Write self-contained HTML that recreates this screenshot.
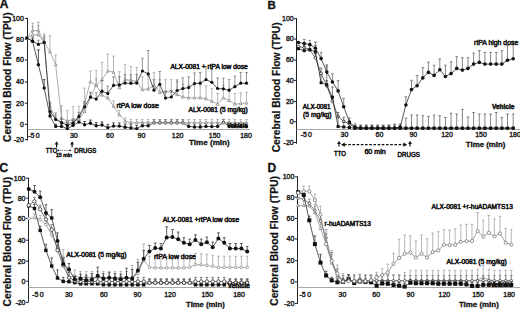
<!DOCTYPE html><html><head><meta charset="utf-8"><style>html,body{margin:0;padding:0;background:#fff;}svg{display:block;}text{font-family:"Liberation Sans",sans-serif;}</style></head><body>
<svg width="520" height="309" viewBox="0 0 520 309">
<rect width="520" height="309" fill="#fff"/>
<text x="-0.3" y="8.2" font-size="12" font-weight="bold" text-anchor="start" fill="#111" stroke="#111" stroke-width="0.3">A</text>
<text transform="translate(10.6,77.2) rotate(-90)" x="0" y="0" font-size="10.4" font-weight="bold" text-anchor="middle" fill="#111" stroke="#111" stroke-width="0.2" textLength="129.5" lengthAdjust="spacingAndGlyphs">Cerebral Blood Flow (TPU)</text>
<line x1="27.5" y1="17.9" x2="27.5" y2="140.5" stroke="#222" stroke-width="1"/>
<line x1="24.9" y1="18.4" x2="27.5" y2="18.4" stroke="#222" stroke-width="1"/>
<text x="23.9" y="20.7" font-size="7" font-weight="normal" text-anchor="end" fill="#222" stroke="#222" stroke-width="0.4">100</text>
<line x1="24.9" y1="39.5" x2="27.5" y2="39.5" stroke="#222" stroke-width="1"/>
<text x="23.9" y="41.8" font-size="7" font-weight="normal" text-anchor="end" fill="#222" stroke="#222" stroke-width="0.4">80</text>
<line x1="24.9" y1="60.1" x2="27.5" y2="60.1" stroke="#222" stroke-width="1"/>
<text x="23.9" y="62.4" font-size="7" font-weight="normal" text-anchor="end" fill="#222" stroke="#222" stroke-width="0.4">60</text>
<line x1="24.9" y1="82.0" x2="27.5" y2="82.0" stroke="#222" stroke-width="1"/>
<text x="23.9" y="84.3" font-size="7" font-weight="normal" text-anchor="end" fill="#222" stroke="#222" stroke-width="0.4">40</text>
<line x1="24.9" y1="103.2" x2="27.5" y2="103.2" stroke="#222" stroke-width="1"/>
<text x="23.9" y="105.5" font-size="7" font-weight="normal" text-anchor="end" fill="#222" stroke="#222" stroke-width="0.4">20</text>
<line x1="24.9" y1="124.3" x2="27.5" y2="124.3" stroke="#222" stroke-width="1"/>
<text x="23.9" y="126.6" font-size="7" font-weight="normal" text-anchor="end" fill="#222" stroke="#222" stroke-width="0.4">0</text>
<line x1="24.9" y1="139.7" x2="27.5" y2="139.7" stroke="#222" stroke-width="1"/>
<text x="23.9" y="142.0" font-size="7" font-weight="normal" text-anchor="end" fill="#222" stroke="#222" stroke-width="0.4">-20</text>
<line x1="27.5" y1="129.5" x2="250.0" y2="129.5" stroke="#a8a8a8" stroke-width="1"/>
<text x="31.4" y="137.8" font-size="7" font-weight="normal" text-anchor="middle" fill="#222" stroke="#222" stroke-width="0.4">-5</text>
<text x="37.7" y="137.8" font-size="7" font-weight="normal" text-anchor="middle" fill="#222" stroke="#222" stroke-width="0.4">0</text>
<text x="73.8" y="137.8" font-size="7" font-weight="normal" text-anchor="middle" fill="#222" stroke="#222" stroke-width="0.4">30</text>
<text x="110.0" y="137.8" font-size="7" font-weight="normal" text-anchor="middle" fill="#222" stroke="#222" stroke-width="0.4">60</text>
<text x="141.5" y="137.8" font-size="7" font-weight="normal" text-anchor="middle" fill="#222" stroke="#222" stroke-width="0.4">90</text>
<text x="177.6" y="137.8" font-size="7" font-weight="normal" text-anchor="middle" fill="#222" stroke="#222" stroke-width="0.4">120</text>
<text x="214.6" y="137.8" font-size="7" font-weight="normal" text-anchor="middle" fill="#222" stroke="#222" stroke-width="0.4">150</text>
<text x="246.0" y="137.8" font-size="7" font-weight="normal" text-anchor="middle" fill="#222" stroke="#222" stroke-width="0.4">180</text>
<text x="189.1" y="145.2" font-size="8" font-weight="bold" text-anchor="start" fill="#111" textLength="40.6" lengthAdjust="spacingAndGlyphs" stroke="#111" stroke-width="0.3">Time (min)</text>
<line x1="32.6" y1="41.2" x2="32.6" y2="38.0" stroke="#111" stroke-width="0.7"/>
<line x1="31.3" y1="38.0" x2="33.9" y2="38.0" stroke="#111" stroke-width="0.7"/>
<line x1="38.4" y1="64.7" x2="38.4" y2="49.8" stroke="#111" stroke-width="0.7"/>
<line x1="37.1" y1="49.8" x2="39.7" y2="49.8" stroke="#111" stroke-width="0.7"/>
<line x1="44.2" y1="88.1" x2="44.2" y2="79.6" stroke="#111" stroke-width="0.7"/>
<line x1="42.9" y1="79.6" x2="45.5" y2="79.6" stroke="#111" stroke-width="0.7"/>
<line x1="50.0" y1="116.0" x2="50.0" y2="112.8" stroke="#111" stroke-width="0.7"/>
<line x1="48.7" y1="112.8" x2="51.3" y2="112.8" stroke="#111" stroke-width="0.7"/>
<line x1="55.7" y1="126.4" x2="55.7" y2="124.3" stroke="#111" stroke-width="0.7"/>
<line x1="54.4" y1="124.3" x2="57.0" y2="124.3" stroke="#111" stroke-width="0.7"/>
<line x1="61.5" y1="126.4" x2="61.5" y2="124.3" stroke="#111" stroke-width="0.7"/>
<line x1="60.2" y1="124.3" x2="62.8" y2="124.3" stroke="#111" stroke-width="0.7"/>
<line x1="67.3" y1="128.6" x2="67.3" y2="126.4" stroke="#111" stroke-width="0.7"/>
<line x1="66.0" y1="126.4" x2="68.6" y2="126.4" stroke="#111" stroke-width="0.7"/>
<line x1="73.1" y1="125.4" x2="73.1" y2="122.2" stroke="#111" stroke-width="0.7"/>
<line x1="71.8" y1="122.2" x2="74.4" y2="122.2" stroke="#111" stroke-width="0.7"/>
<line x1="78.9" y1="122.0" x2="78.9" y2="117.7" stroke="#111" stroke-width="0.7"/>
<line x1="77.6" y1="117.7" x2="80.2" y2="117.7" stroke="#111" stroke-width="0.7"/>
<line x1="84.6" y1="124.7" x2="84.6" y2="121.5" stroke="#111" stroke-width="0.7"/>
<line x1="83.3" y1="121.5" x2="85.9" y2="121.5" stroke="#111" stroke-width="0.7"/>
<line x1="90.4" y1="123.2" x2="90.4" y2="120.0" stroke="#111" stroke-width="0.7"/>
<line x1="89.1" y1="120.0" x2="91.7" y2="120.0" stroke="#111" stroke-width="0.7"/>
<line x1="96.2" y1="125.8" x2="96.2" y2="122.6" stroke="#111" stroke-width="0.7"/>
<line x1="94.9" y1="122.6" x2="97.5" y2="122.6" stroke="#111" stroke-width="0.7"/>
<line x1="102.0" y1="125.0" x2="102.0" y2="121.9" stroke="#111" stroke-width="0.7"/>
<line x1="100.7" y1="121.9" x2="103.3" y2="121.9" stroke="#111" stroke-width="0.7"/>
<line x1="107.8" y1="127.6" x2="107.8" y2="124.4" stroke="#111" stroke-width="0.7"/>
<line x1="106.5" y1="124.4" x2="109.1" y2="124.4" stroke="#111" stroke-width="0.7"/>
<line x1="113.5" y1="126.1" x2="113.5" y2="122.9" stroke="#111" stroke-width="0.7"/>
<line x1="112.2" y1="122.9" x2="114.8" y2="122.9" stroke="#111" stroke-width="0.7"/>
<line x1="119.3" y1="126.1" x2="119.3" y2="122.9" stroke="#111" stroke-width="0.7"/>
<line x1="118.0" y1="122.9" x2="120.6" y2="122.9" stroke="#111" stroke-width="0.7"/>
<line x1="125.1" y1="127.2" x2="125.1" y2="124.0" stroke="#111" stroke-width="0.7"/>
<line x1="123.8" y1="124.0" x2="126.4" y2="124.0" stroke="#111" stroke-width="0.7"/>
<line x1="130.9" y1="127.9" x2="130.9" y2="124.7" stroke="#111" stroke-width="0.7"/>
<line x1="129.6" y1="124.7" x2="132.2" y2="124.7" stroke="#111" stroke-width="0.7"/>
<line x1="136.7" y1="128.6" x2="136.7" y2="125.4" stroke="#111" stroke-width="0.7"/>
<line x1="135.4" y1="125.4" x2="138.0" y2="125.4" stroke="#111" stroke-width="0.7"/>
<line x1="142.4" y1="125.7" x2="142.4" y2="122.5" stroke="#111" stroke-width="0.7"/>
<line x1="141.1" y1="122.5" x2="143.7" y2="122.5" stroke="#111" stroke-width="0.7"/>
<line x1="148.2" y1="125.7" x2="148.2" y2="122.5" stroke="#111" stroke-width="0.7"/>
<line x1="146.9" y1="122.5" x2="149.5" y2="122.5" stroke="#111" stroke-width="0.7"/>
<line x1="154.0" y1="122.8" x2="154.0" y2="119.6" stroke="#111" stroke-width="0.7"/>
<line x1="152.7" y1="119.6" x2="155.3" y2="119.6" stroke="#111" stroke-width="0.7"/>
<line x1="159.8" y1="122.8" x2="159.8" y2="119.6" stroke="#111" stroke-width="0.7"/>
<line x1="158.5" y1="119.6" x2="161.1" y2="119.6" stroke="#111" stroke-width="0.7"/>
<line x1="165.6" y1="122.8" x2="165.6" y2="119.6" stroke="#111" stroke-width="0.7"/>
<line x1="164.3" y1="119.6" x2="166.9" y2="119.6" stroke="#111" stroke-width="0.7"/>
<line x1="171.3" y1="122.8" x2="171.3" y2="119.6" stroke="#111" stroke-width="0.7"/>
<line x1="170.0" y1="119.6" x2="172.6" y2="119.6" stroke="#111" stroke-width="0.7"/>
<line x1="177.1" y1="122.8" x2="177.1" y2="119.6" stroke="#111" stroke-width="0.7"/>
<line x1="175.8" y1="119.6" x2="178.4" y2="119.6" stroke="#111" stroke-width="0.7"/>
<line x1="182.9" y1="122.8" x2="182.9" y2="119.6" stroke="#111" stroke-width="0.7"/>
<line x1="181.6" y1="119.6" x2="184.2" y2="119.6" stroke="#111" stroke-width="0.7"/>
<line x1="188.7" y1="126.4" x2="188.7" y2="123.2" stroke="#111" stroke-width="0.7"/>
<line x1="187.4" y1="123.2" x2="190.0" y2="123.2" stroke="#111" stroke-width="0.7"/>
<line x1="194.5" y1="127.0" x2="194.5" y2="123.8" stroke="#111" stroke-width="0.7"/>
<line x1="193.2" y1="123.8" x2="195.8" y2="123.8" stroke="#111" stroke-width="0.7"/>
<line x1="200.2" y1="127.0" x2="200.2" y2="123.8" stroke="#111" stroke-width="0.7"/>
<line x1="198.9" y1="123.8" x2="201.5" y2="123.8" stroke="#111" stroke-width="0.7"/>
<line x1="206.0" y1="126.4" x2="206.0" y2="123.2" stroke="#111" stroke-width="0.7"/>
<line x1="204.7" y1="123.2" x2="207.3" y2="123.2" stroke="#111" stroke-width="0.7"/>
<line x1="211.8" y1="126.6" x2="211.8" y2="123.4" stroke="#111" stroke-width="0.7"/>
<line x1="210.5" y1="123.4" x2="213.1" y2="123.4" stroke="#111" stroke-width="0.7"/>
<line x1="217.6" y1="126.4" x2="217.6" y2="123.2" stroke="#111" stroke-width="0.7"/>
<line x1="216.3" y1="123.2" x2="218.9" y2="123.2" stroke="#111" stroke-width="0.7"/>
<line x1="223.4" y1="122.5" x2="223.4" y2="119.3" stroke="#111" stroke-width="0.7"/>
<line x1="222.1" y1="119.3" x2="224.7" y2="119.3" stroke="#111" stroke-width="0.7"/>
<line x1="229.1" y1="126.4" x2="229.1" y2="123.2" stroke="#111" stroke-width="0.7"/>
<line x1="227.8" y1="123.2" x2="230.4" y2="123.2" stroke="#111" stroke-width="0.7"/>
<line x1="234.9" y1="126.4" x2="234.9" y2="123.2" stroke="#111" stroke-width="0.7"/>
<line x1="233.6" y1="123.2" x2="236.2" y2="123.2" stroke="#111" stroke-width="0.7"/>
<line x1="240.7" y1="126.4" x2="240.7" y2="123.2" stroke="#111" stroke-width="0.7"/>
<line x1="239.4" y1="123.2" x2="242.0" y2="123.2" stroke="#111" stroke-width="0.7"/>
<line x1="246.5" y1="126.4" x2="246.5" y2="123.2" stroke="#111" stroke-width="0.7"/>
<line x1="245.2" y1="123.2" x2="247.8" y2="123.2" stroke="#111" stroke-width="0.7"/>
<polyline points="26.8,38.0 32.6,41.2 38.4,64.7 44.2,88.1 50.0,116.0 55.7,126.4 61.5,126.4 67.3,128.6 73.1,125.4 78.9,122.0 84.6,124.7 90.4,123.2 96.2,125.8 102.0,125.0 107.8,127.6 113.5,126.1 119.3,126.1 125.1,127.2 130.9,127.9 136.7,128.6 142.4,125.7 148.2,125.7 154.0,122.8 159.8,122.8 165.6,122.8 171.3,122.8 177.1,122.8 182.9,122.8 188.7,126.4 194.5,127.0 200.2,127.0 206.0,126.4 211.8,126.6 217.6,126.4 223.4,122.5 229.1,126.4 234.9,126.4 240.7,126.4 246.5,126.4" fill="none" stroke="#111" stroke-width="0.7"/>
<circle cx="26.8" cy="38.0" r="1.7" fill="#111"/>
<circle cx="32.6" cy="41.2" r="1.7" fill="#111"/>
<circle cx="38.4" cy="64.7" r="1.7" fill="#111"/>
<circle cx="44.2" cy="88.1" r="1.7" fill="#111"/>
<circle cx="50.0" cy="116.0" r="1.7" fill="#111"/>
<circle cx="55.7" cy="126.4" r="1.7" fill="#111"/>
<circle cx="61.5" cy="126.4" r="1.7" fill="#111"/>
<circle cx="67.3" cy="128.6" r="1.7" fill="#111"/>
<circle cx="73.1" cy="125.4" r="1.7" fill="#111"/>
<circle cx="78.9" cy="122.0" r="1.7" fill="#111"/>
<circle cx="84.6" cy="124.7" r="1.7" fill="#111"/>
<circle cx="90.4" cy="123.2" r="1.7" fill="#111"/>
<circle cx="96.2" cy="125.8" r="1.7" fill="#111"/>
<circle cx="102.0" cy="125.0" r="1.7" fill="#111"/>
<circle cx="107.8" cy="127.6" r="1.7" fill="#111"/>
<circle cx="113.5" cy="126.1" r="1.7" fill="#111"/>
<circle cx="119.3" cy="126.1" r="1.7" fill="#111"/>
<circle cx="125.1" cy="127.2" r="1.7" fill="#111"/>
<circle cx="130.9" cy="127.9" r="1.7" fill="#111"/>
<circle cx="136.7" cy="128.6" r="1.7" fill="#111"/>
<circle cx="142.4" cy="125.7" r="1.7" fill="#111"/>
<circle cx="148.2" cy="125.7" r="1.7" fill="#111"/>
<circle cx="154.0" cy="122.8" r="1.7" fill="#111"/>
<circle cx="159.8" cy="122.8" r="1.7" fill="#111"/>
<circle cx="165.6" cy="122.8" r="1.7" fill="#111"/>
<circle cx="171.3" cy="122.8" r="1.7" fill="#111"/>
<circle cx="177.1" cy="122.8" r="1.7" fill="#111"/>
<circle cx="182.9" cy="122.8" r="1.7" fill="#111"/>
<circle cx="188.7" cy="126.4" r="1.7" fill="#111"/>
<circle cx="194.5" cy="127.0" r="1.7" fill="#111"/>
<circle cx="200.2" cy="127.0" r="1.7" fill="#111"/>
<circle cx="206.0" cy="126.4" r="1.7" fill="#111"/>
<circle cx="211.8" cy="126.6" r="1.7" fill="#111"/>
<circle cx="217.6" cy="126.4" r="1.7" fill="#111"/>
<circle cx="223.4" cy="122.5" r="1.7" fill="#111"/>
<circle cx="229.1" cy="126.4" r="1.7" fill="#111"/>
<circle cx="234.9" cy="126.4" r="1.7" fill="#111"/>
<circle cx="240.7" cy="126.4" r="1.7" fill="#111"/>
<circle cx="246.5" cy="126.4" r="1.7" fill="#111"/>
<line x1="32.6" y1="34.8" x2="32.6" y2="26.3" stroke="#9a9a9a" stroke-width="0.7"/>
<line x1="31.3" y1="26.3" x2="33.9" y2="26.3" stroke="#9a9a9a" stroke-width="0.7"/>
<line x1="38.4" y1="34.8" x2="38.4" y2="25.3" stroke="#9a9a9a" stroke-width="0.7"/>
<line x1="37.1" y1="25.3" x2="39.7" y2="25.3" stroke="#9a9a9a" stroke-width="0.7"/>
<line x1="44.2" y1="42.3" x2="44.2" y2="33.8" stroke="#9a9a9a" stroke-width="0.7"/>
<line x1="42.9" y1="33.8" x2="45.5" y2="33.8" stroke="#9a9a9a" stroke-width="0.7"/>
<line x1="50.0" y1="51.9" x2="50.0" y2="35.9" stroke="#9a9a9a" stroke-width="0.7"/>
<line x1="48.7" y1="35.9" x2="51.3" y2="35.9" stroke="#9a9a9a" stroke-width="0.7"/>
<line x1="55.7" y1="64.7" x2="55.7" y2="55.1" stroke="#9a9a9a" stroke-width="0.7"/>
<line x1="54.4" y1="55.1" x2="57.0" y2="55.1" stroke="#9a9a9a" stroke-width="0.7"/>
<line x1="61.5" y1="118.3" x2="61.5" y2="105.6" stroke="#9a9a9a" stroke-width="0.7"/>
<line x1="60.2" y1="105.6" x2="62.8" y2="105.6" stroke="#9a9a9a" stroke-width="0.7"/>
<line x1="67.3" y1="121.1" x2="67.3" y2="110.5" stroke="#9a9a9a" stroke-width="0.7"/>
<line x1="66.0" y1="110.5" x2="68.6" y2="110.5" stroke="#9a9a9a" stroke-width="0.7"/>
<line x1="73.1" y1="119.4" x2="73.1" y2="106.6" stroke="#9a9a9a" stroke-width="0.7"/>
<line x1="71.8" y1="106.6" x2="74.4" y2="106.6" stroke="#9a9a9a" stroke-width="0.7"/>
<line x1="78.9" y1="119.0" x2="78.9" y2="106.2" stroke="#9a9a9a" stroke-width="0.7"/>
<line x1="77.6" y1="106.2" x2="80.2" y2="106.2" stroke="#9a9a9a" stroke-width="0.7"/>
<line x1="84.6" y1="103.0" x2="84.6" y2="88.1" stroke="#9a9a9a" stroke-width="0.7"/>
<line x1="83.3" y1="88.1" x2="85.9" y2="88.1" stroke="#9a9a9a" stroke-width="0.7"/>
<line x1="90.4" y1="81.7" x2="90.4" y2="71.0" stroke="#9a9a9a" stroke-width="0.7"/>
<line x1="89.1" y1="71.0" x2="91.7" y2="71.0" stroke="#9a9a9a" stroke-width="0.7"/>
<line x1="96.2" y1="85.4" x2="96.2" y2="70.5" stroke="#9a9a9a" stroke-width="0.7"/>
<line x1="94.9" y1="70.5" x2="97.5" y2="70.5" stroke="#9a9a9a" stroke-width="0.7"/>
<line x1="102.0" y1="79.6" x2="102.0" y2="62.5" stroke="#9a9a9a" stroke-width="0.7"/>
<line x1="100.7" y1="62.5" x2="103.3" y2="62.5" stroke="#9a9a9a" stroke-width="0.7"/>
<line x1="107.8" y1="71.0" x2="107.8" y2="54.0" stroke="#9a9a9a" stroke-width="0.7"/>
<line x1="106.5" y1="54.0" x2="109.1" y2="54.0" stroke="#9a9a9a" stroke-width="0.7"/>
<line x1="113.5" y1="72.1" x2="113.5" y2="56.1" stroke="#9a9a9a" stroke-width="0.7"/>
<line x1="112.2" y1="56.1" x2="114.8" y2="56.1" stroke="#9a9a9a" stroke-width="0.7"/>
<line x1="119.3" y1="87.7" x2="119.3" y2="71.7" stroke="#9a9a9a" stroke-width="0.7"/>
<line x1="118.0" y1="71.7" x2="120.6" y2="71.7" stroke="#9a9a9a" stroke-width="0.7"/>
<line x1="125.1" y1="79.6" x2="125.1" y2="64.7" stroke="#9a9a9a" stroke-width="0.7"/>
<line x1="123.8" y1="64.7" x2="126.4" y2="64.7" stroke="#9a9a9a" stroke-width="0.7"/>
<line x1="130.9" y1="80.3" x2="130.9" y2="66.5" stroke="#9a9a9a" stroke-width="0.7"/>
<line x1="129.6" y1="66.5" x2="132.2" y2="66.5" stroke="#9a9a9a" stroke-width="0.7"/>
<line x1="136.7" y1="81.3" x2="136.7" y2="67.4" stroke="#9a9a9a" stroke-width="0.7"/>
<line x1="135.4" y1="67.4" x2="138.0" y2="67.4" stroke="#9a9a9a" stroke-width="0.7"/>
<line x1="142.4" y1="89.6" x2="142.4" y2="76.8" stroke="#9a9a9a" stroke-width="0.7"/>
<line x1="141.1" y1="76.8" x2="143.7" y2="76.8" stroke="#9a9a9a" stroke-width="0.7"/>
<line x1="148.2" y1="88.9" x2="148.2" y2="76.2" stroke="#9a9a9a" stroke-width="0.7"/>
<line x1="146.9" y1="76.2" x2="149.5" y2="76.2" stroke="#9a9a9a" stroke-width="0.7"/>
<line x1="154.0" y1="85.4" x2="154.0" y2="72.6" stroke="#9a9a9a" stroke-width="0.7"/>
<line x1="152.7" y1="72.6" x2="155.3" y2="72.6" stroke="#9a9a9a" stroke-width="0.7"/>
<line x1="159.8" y1="92.3" x2="159.8" y2="79.6" stroke="#9a9a9a" stroke-width="0.7"/>
<line x1="158.5" y1="79.6" x2="161.1" y2="79.6" stroke="#9a9a9a" stroke-width="0.7"/>
<line x1="165.6" y1="91.3" x2="165.6" y2="79.6" stroke="#9a9a9a" stroke-width="0.7"/>
<line x1="164.3" y1="79.6" x2="166.9" y2="79.6" stroke="#9a9a9a" stroke-width="0.7"/>
<line x1="171.3" y1="91.3" x2="171.3" y2="79.6" stroke="#9a9a9a" stroke-width="0.7"/>
<line x1="170.0" y1="79.6" x2="172.6" y2="79.6" stroke="#9a9a9a" stroke-width="0.7"/>
<line x1="177.1" y1="94.5" x2="177.1" y2="81.7" stroke="#9a9a9a" stroke-width="0.7"/>
<line x1="175.8" y1="81.7" x2="178.4" y2="81.7" stroke="#9a9a9a" stroke-width="0.7"/>
<line x1="182.9" y1="96.9" x2="182.9" y2="84.1" stroke="#9a9a9a" stroke-width="0.7"/>
<line x1="181.6" y1="84.1" x2="184.2" y2="84.1" stroke="#9a9a9a" stroke-width="0.7"/>
<line x1="188.7" y1="97.9" x2="188.7" y2="85.1" stroke="#9a9a9a" stroke-width="0.7"/>
<line x1="187.4" y1="85.1" x2="190.0" y2="85.1" stroke="#9a9a9a" stroke-width="0.7"/>
<line x1="194.5" y1="97.9" x2="194.5" y2="85.1" stroke="#9a9a9a" stroke-width="0.7"/>
<line x1="193.2" y1="85.1" x2="195.8" y2="85.1" stroke="#9a9a9a" stroke-width="0.7"/>
<line x1="200.2" y1="97.9" x2="200.2" y2="85.1" stroke="#9a9a9a" stroke-width="0.7"/>
<line x1="198.9" y1="85.1" x2="201.5" y2="85.1" stroke="#9a9a9a" stroke-width="0.7"/>
<line x1="206.0" y1="98.7" x2="206.0" y2="86.0" stroke="#9a9a9a" stroke-width="0.7"/>
<line x1="204.7" y1="86.0" x2="207.3" y2="86.0" stroke="#9a9a9a" stroke-width="0.7"/>
<line x1="211.8" y1="101.3" x2="211.8" y2="88.5" stroke="#9a9a9a" stroke-width="0.7"/>
<line x1="210.5" y1="88.5" x2="213.1" y2="88.5" stroke="#9a9a9a" stroke-width="0.7"/>
<line x1="217.6" y1="104.1" x2="217.6" y2="93.4" stroke="#9a9a9a" stroke-width="0.7"/>
<line x1="216.3" y1="93.4" x2="218.9" y2="93.4" stroke="#9a9a9a" stroke-width="0.7"/>
<line x1="223.4" y1="97.9" x2="223.4" y2="85.1" stroke="#9a9a9a" stroke-width="0.7"/>
<line x1="222.1" y1="85.1" x2="224.7" y2="85.1" stroke="#9a9a9a" stroke-width="0.7"/>
<line x1="229.1" y1="100.4" x2="229.1" y2="89.8" stroke="#9a9a9a" stroke-width="0.7"/>
<line x1="227.8" y1="89.8" x2="230.4" y2="89.8" stroke="#9a9a9a" stroke-width="0.7"/>
<line x1="234.9" y1="104.1" x2="234.9" y2="93.4" stroke="#9a9a9a" stroke-width="0.7"/>
<line x1="233.6" y1="93.4" x2="236.2" y2="93.4" stroke="#9a9a9a" stroke-width="0.7"/>
<line x1="240.7" y1="103.5" x2="240.7" y2="92.9" stroke="#9a9a9a" stroke-width="0.7"/>
<line x1="239.4" y1="92.9" x2="242.0" y2="92.9" stroke="#9a9a9a" stroke-width="0.7"/>
<line x1="246.5" y1="103.0" x2="246.5" y2="92.3" stroke="#9a9a9a" stroke-width="0.7"/>
<line x1="245.2" y1="92.3" x2="247.8" y2="92.3" stroke="#9a9a9a" stroke-width="0.7"/>
<polyline points="26.8,38.0 32.6,34.8 38.4,34.8 44.2,42.3 50.0,51.9 55.7,64.7 61.5,118.3 67.3,121.1 73.1,119.4 78.9,119.0 84.6,103.0 90.4,81.7 96.2,85.4 102.0,79.6 107.8,71.0 113.5,72.1 119.3,87.7 125.1,79.6 130.9,80.3 136.7,81.3 142.4,89.6 148.2,88.9 154.0,85.4 159.8,92.3 165.6,91.3 171.3,91.3 177.1,94.5 182.9,96.9 188.7,97.9 194.5,97.9 200.2,97.9 206.0,98.7 211.8,101.3 217.6,104.1 223.4,97.9 229.1,100.4 234.9,104.1 240.7,103.5 246.5,103.0" fill="none" stroke="#8a8a8a" stroke-width="0.7"/>
<polygon points="26.8,36.6 25.4,39.2 28.3,39.2" fill="#fff" stroke="#8a8a8a" stroke-width="0.8"/>
<polygon points="32.6,33.4 31.2,36.0 34.0,36.0" fill="#fff" stroke="#8a8a8a" stroke-width="0.8"/>
<polygon points="38.4,33.4 37.0,36.0 39.8,36.0" fill="#fff" stroke="#8a8a8a" stroke-width="0.8"/>
<polygon points="44.2,40.9 42.8,43.4 45.6,43.4" fill="#fff" stroke="#8a8a8a" stroke-width="0.8"/>
<polygon points="50.0,50.4 48.5,53.0 51.4,53.0" fill="#fff" stroke="#8a8a8a" stroke-width="0.8"/>
<polygon points="55.7,63.2 54.3,65.8 57.2,65.8" fill="#fff" stroke="#8a8a8a" stroke-width="0.8"/>
<polygon points="61.5,116.9 60.1,119.5 62.9,119.5" fill="#fff" stroke="#8a8a8a" stroke-width="0.8"/>
<polygon points="67.3,119.7 65.9,122.2 68.7,122.2" fill="#fff" stroke="#8a8a8a" stroke-width="0.8"/>
<polygon points="73.1,118.0 71.6,120.5 74.5,120.5" fill="#fff" stroke="#8a8a8a" stroke-width="0.8"/>
<polygon points="78.9,117.5 77.4,120.1 80.3,120.1" fill="#fff" stroke="#8a8a8a" stroke-width="0.8"/>
<polygon points="84.6,101.6 83.2,104.1 86.1,104.1" fill="#fff" stroke="#8a8a8a" stroke-width="0.8"/>
<polygon points="90.4,80.3 89.0,82.8 91.8,82.8" fill="#fff" stroke="#8a8a8a" stroke-width="0.8"/>
<polygon points="96.2,84.0 94.8,86.6 97.6,86.6" fill="#fff" stroke="#8a8a8a" stroke-width="0.8"/>
<polygon points="102.0,78.1 100.5,80.7 103.4,80.7" fill="#fff" stroke="#8a8a8a" stroke-width="0.8"/>
<polygon points="107.8,69.6 106.3,72.2 109.2,72.2" fill="#fff" stroke="#8a8a8a" stroke-width="0.8"/>
<polygon points="113.5,70.7 112.1,73.3 115.0,73.3" fill="#fff" stroke="#8a8a8a" stroke-width="0.8"/>
<polygon points="119.3,86.2 117.9,88.8 120.8,88.8" fill="#fff" stroke="#8a8a8a" stroke-width="0.8"/>
<polygon points="125.1,78.1 123.7,80.7 126.5,80.7" fill="#fff" stroke="#8a8a8a" stroke-width="0.8"/>
<polygon points="130.9,78.9 129.4,81.5 132.3,81.5" fill="#fff" stroke="#8a8a8a" stroke-width="0.8"/>
<polygon points="136.7,79.8 135.2,82.4 138.1,82.4" fill="#fff" stroke="#8a8a8a" stroke-width="0.8"/>
<polygon points="142.4,88.2 141.0,90.7 143.9,90.7" fill="#fff" stroke="#8a8a8a" stroke-width="0.8"/>
<polygon points="148.2,87.5 146.8,90.1 149.7,90.1" fill="#fff" stroke="#8a8a8a" stroke-width="0.8"/>
<polygon points="154.0,84.0 152.6,86.6 155.4,86.6" fill="#fff" stroke="#8a8a8a" stroke-width="0.8"/>
<polygon points="159.8,90.9 158.3,93.5 161.2,93.5" fill="#fff" stroke="#8a8a8a" stroke-width="0.8"/>
<polygon points="165.6,89.9 164.1,92.4 167.0,92.4" fill="#fff" stroke="#8a8a8a" stroke-width="0.8"/>
<polygon points="171.3,89.9 169.9,92.4 172.8,92.4" fill="#fff" stroke="#8a8a8a" stroke-width="0.8"/>
<polygon points="177.1,93.0 175.7,95.6 178.6,95.6" fill="#fff" stroke="#8a8a8a" stroke-width="0.8"/>
<polygon points="182.9,95.5 181.5,98.1 184.3,98.1" fill="#fff" stroke="#8a8a8a" stroke-width="0.8"/>
<polygon points="188.7,96.5 187.2,99.0 190.1,99.0" fill="#fff" stroke="#8a8a8a" stroke-width="0.8"/>
<polygon points="194.5,96.5 193.0,99.0 195.9,99.0" fill="#fff" stroke="#8a8a8a" stroke-width="0.8"/>
<polygon points="200.2,96.5 198.8,99.0 201.7,99.0" fill="#fff" stroke="#8a8a8a" stroke-width="0.8"/>
<polygon points="206.0,97.3 204.6,99.9 207.4,99.9" fill="#fff" stroke="#8a8a8a" stroke-width="0.8"/>
<polygon points="211.8,99.9 210.4,102.4 213.2,102.4" fill="#fff" stroke="#8a8a8a" stroke-width="0.8"/>
<polygon points="217.6,102.6 216.1,105.2 219.0,105.2" fill="#fff" stroke="#8a8a8a" stroke-width="0.8"/>
<polygon points="223.4,96.5 221.9,99.0 224.8,99.0" fill="#fff" stroke="#8a8a8a" stroke-width="0.8"/>
<polygon points="229.1,99.0 227.7,101.6 230.6,101.6" fill="#fff" stroke="#8a8a8a" stroke-width="0.8"/>
<polygon points="234.9,102.6 233.5,105.2 236.3,105.2" fill="#fff" stroke="#8a8a8a" stroke-width="0.8"/>
<polygon points="240.7,102.1 239.3,104.7 242.1,104.7" fill="#fff" stroke="#8a8a8a" stroke-width="0.8"/>
<polygon points="246.5,101.6 245.0,104.1 247.9,104.1" fill="#fff" stroke="#8a8a8a" stroke-width="0.8"/>
<line x1="32.6" y1="30.6" x2="32.6" y2="23.1" stroke="#9a9a9a" stroke-width="0.7"/>
<line x1="31.3" y1="23.1" x2="33.9" y2="23.1" stroke="#9a9a9a" stroke-width="0.7"/>
<line x1="38.4" y1="30.6" x2="38.4" y2="22.1" stroke="#9a9a9a" stroke-width="0.7"/>
<line x1="37.1" y1="22.1" x2="39.7" y2="22.1" stroke="#9a9a9a" stroke-width="0.7"/>
<line x1="44.2" y1="42.3" x2="44.2" y2="38.0" stroke="#9a9a9a" stroke-width="0.7"/>
<line x1="42.9" y1="38.0" x2="45.5" y2="38.0" stroke="#9a9a9a" stroke-width="0.7"/>
<line x1="50.0" y1="106.2" x2="50.0" y2="101.9" stroke="#9a9a9a" stroke-width="0.7"/>
<line x1="48.7" y1="101.9" x2="51.3" y2="101.9" stroke="#9a9a9a" stroke-width="0.7"/>
<line x1="55.7" y1="119.0" x2="55.7" y2="115.8" stroke="#9a9a9a" stroke-width="0.7"/>
<line x1="54.4" y1="115.8" x2="57.0" y2="115.8" stroke="#9a9a9a" stroke-width="0.7"/>
<line x1="61.5" y1="122.2" x2="61.5" y2="119.0" stroke="#9a9a9a" stroke-width="0.7"/>
<line x1="60.2" y1="119.0" x2="62.8" y2="119.0" stroke="#9a9a9a" stroke-width="0.7"/>
<line x1="67.3" y1="123.4" x2="67.3" y2="120.3" stroke="#9a9a9a" stroke-width="0.7"/>
<line x1="66.0" y1="120.3" x2="68.6" y2="120.3" stroke="#9a9a9a" stroke-width="0.7"/>
<line x1="73.1" y1="121.9" x2="73.1" y2="118.7" stroke="#9a9a9a" stroke-width="0.7"/>
<line x1="71.8" y1="118.7" x2="74.4" y2="118.7" stroke="#9a9a9a" stroke-width="0.7"/>
<line x1="78.9" y1="119.0" x2="78.9" y2="114.7" stroke="#9a9a9a" stroke-width="0.7"/>
<line x1="77.6" y1="114.7" x2="80.2" y2="114.7" stroke="#9a9a9a" stroke-width="0.7"/>
<line x1="84.6" y1="111.5" x2="84.6" y2="107.3" stroke="#9a9a9a" stroke-width="0.7"/>
<line x1="83.3" y1="107.3" x2="85.9" y2="107.3" stroke="#9a9a9a" stroke-width="0.7"/>
<line x1="90.4" y1="97.7" x2="90.4" y2="92.3" stroke="#9a9a9a" stroke-width="0.7"/>
<line x1="89.1" y1="92.3" x2="91.7" y2="92.3" stroke="#9a9a9a" stroke-width="0.7"/>
<line x1="96.2" y1="84.9" x2="96.2" y2="78.5" stroke="#9a9a9a" stroke-width="0.7"/>
<line x1="94.9" y1="78.5" x2="97.5" y2="78.5" stroke="#9a9a9a" stroke-width="0.7"/>
<line x1="102.0" y1="95.0" x2="102.0" y2="89.7" stroke="#9a9a9a" stroke-width="0.7"/>
<line x1="100.7" y1="89.7" x2="103.3" y2="89.7" stroke="#9a9a9a" stroke-width="0.7"/>
<line x1="107.8" y1="98.0" x2="107.8" y2="92.7" stroke="#9a9a9a" stroke-width="0.7"/>
<line x1="106.5" y1="92.7" x2="109.1" y2="92.7" stroke="#9a9a9a" stroke-width="0.7"/>
<line x1="113.5" y1="106.2" x2="113.5" y2="100.9" stroke="#9a9a9a" stroke-width="0.7"/>
<line x1="112.2" y1="100.9" x2="114.8" y2="100.9" stroke="#9a9a9a" stroke-width="0.7"/>
<line x1="119.3" y1="114.7" x2="119.3" y2="110.5" stroke="#9a9a9a" stroke-width="0.7"/>
<line x1="118.0" y1="110.5" x2="120.6" y2="110.5" stroke="#9a9a9a" stroke-width="0.7"/>
<line x1="125.1" y1="121.1" x2="125.1" y2="117.9" stroke="#9a9a9a" stroke-width="0.7"/>
<line x1="123.8" y1="117.9" x2="126.4" y2="117.9" stroke="#9a9a9a" stroke-width="0.7"/>
<line x1="130.9" y1="122.7" x2="130.9" y2="119.5" stroke="#9a9a9a" stroke-width="0.7"/>
<line x1="129.6" y1="119.5" x2="132.2" y2="119.5" stroke="#9a9a9a" stroke-width="0.7"/>
<line x1="136.7" y1="122.7" x2="136.7" y2="119.5" stroke="#9a9a9a" stroke-width="0.7"/>
<line x1="135.4" y1="119.5" x2="138.0" y2="119.5" stroke="#9a9a9a" stroke-width="0.7"/>
<line x1="142.4" y1="122.7" x2="142.4" y2="119.5" stroke="#9a9a9a" stroke-width="0.7"/>
<line x1="141.1" y1="119.5" x2="143.7" y2="119.5" stroke="#9a9a9a" stroke-width="0.7"/>
<line x1="148.2" y1="122.7" x2="148.2" y2="119.5" stroke="#9a9a9a" stroke-width="0.7"/>
<line x1="146.9" y1="119.5" x2="149.5" y2="119.5" stroke="#9a9a9a" stroke-width="0.7"/>
<line x1="154.0" y1="122.7" x2="154.0" y2="119.5" stroke="#9a9a9a" stroke-width="0.7"/>
<line x1="152.7" y1="119.5" x2="155.3" y2="119.5" stroke="#9a9a9a" stroke-width="0.7"/>
<line x1="159.8" y1="122.7" x2="159.8" y2="119.5" stroke="#9a9a9a" stroke-width="0.7"/>
<line x1="158.5" y1="119.5" x2="161.1" y2="119.5" stroke="#9a9a9a" stroke-width="0.7"/>
<line x1="165.6" y1="122.7" x2="165.6" y2="119.5" stroke="#9a9a9a" stroke-width="0.7"/>
<line x1="164.3" y1="119.5" x2="166.9" y2="119.5" stroke="#9a9a9a" stroke-width="0.7"/>
<line x1="171.3" y1="122.7" x2="171.3" y2="119.5" stroke="#9a9a9a" stroke-width="0.7"/>
<line x1="170.0" y1="119.5" x2="172.6" y2="119.5" stroke="#9a9a9a" stroke-width="0.7"/>
<line x1="177.1" y1="122.7" x2="177.1" y2="119.5" stroke="#9a9a9a" stroke-width="0.7"/>
<line x1="175.8" y1="119.5" x2="178.4" y2="119.5" stroke="#9a9a9a" stroke-width="0.7"/>
<line x1="182.9" y1="122.7" x2="182.9" y2="119.5" stroke="#9a9a9a" stroke-width="0.7"/>
<line x1="181.6" y1="119.5" x2="184.2" y2="119.5" stroke="#9a9a9a" stroke-width="0.7"/>
<line x1="188.7" y1="122.7" x2="188.7" y2="119.5" stroke="#9a9a9a" stroke-width="0.7"/>
<line x1="187.4" y1="119.5" x2="190.0" y2="119.5" stroke="#9a9a9a" stroke-width="0.7"/>
<line x1="194.5" y1="122.7" x2="194.5" y2="119.5" stroke="#9a9a9a" stroke-width="0.7"/>
<line x1="193.2" y1="119.5" x2="195.8" y2="119.5" stroke="#9a9a9a" stroke-width="0.7"/>
<line x1="200.2" y1="122.7" x2="200.2" y2="119.5" stroke="#9a9a9a" stroke-width="0.7"/>
<line x1="198.9" y1="119.5" x2="201.5" y2="119.5" stroke="#9a9a9a" stroke-width="0.7"/>
<line x1="206.0" y1="122.7" x2="206.0" y2="119.5" stroke="#9a9a9a" stroke-width="0.7"/>
<line x1="204.7" y1="119.5" x2="207.3" y2="119.5" stroke="#9a9a9a" stroke-width="0.7"/>
<line x1="211.8" y1="122.7" x2="211.8" y2="119.5" stroke="#9a9a9a" stroke-width="0.7"/>
<line x1="210.5" y1="119.5" x2="213.1" y2="119.5" stroke="#9a9a9a" stroke-width="0.7"/>
<line x1="217.6" y1="122.7" x2="217.6" y2="119.5" stroke="#9a9a9a" stroke-width="0.7"/>
<line x1="216.3" y1="119.5" x2="218.9" y2="119.5" stroke="#9a9a9a" stroke-width="0.7"/>
<line x1="223.4" y1="122.7" x2="223.4" y2="119.5" stroke="#9a9a9a" stroke-width="0.7"/>
<line x1="222.1" y1="119.5" x2="224.7" y2="119.5" stroke="#9a9a9a" stroke-width="0.7"/>
<line x1="229.1" y1="122.7" x2="229.1" y2="119.5" stroke="#9a9a9a" stroke-width="0.7"/>
<line x1="227.8" y1="119.5" x2="230.4" y2="119.5" stroke="#9a9a9a" stroke-width="0.7"/>
<line x1="234.9" y1="122.7" x2="234.9" y2="119.5" stroke="#9a9a9a" stroke-width="0.7"/>
<line x1="233.6" y1="119.5" x2="236.2" y2="119.5" stroke="#9a9a9a" stroke-width="0.7"/>
<line x1="240.7" y1="122.7" x2="240.7" y2="119.5" stroke="#9a9a9a" stroke-width="0.7"/>
<line x1="239.4" y1="119.5" x2="242.0" y2="119.5" stroke="#9a9a9a" stroke-width="0.7"/>
<line x1="246.5" y1="122.7" x2="246.5" y2="119.5" stroke="#9a9a9a" stroke-width="0.7"/>
<line x1="245.2" y1="119.5" x2="247.8" y2="119.5" stroke="#9a9a9a" stroke-width="0.7"/>
<polyline points="26.8,38.0 32.6,30.6 38.4,30.6 44.2,42.3 50.0,106.2 55.7,119.0 61.5,122.2 67.3,123.4 73.1,121.9 78.9,119.0 84.6,111.5 90.4,97.7 96.2,84.9 102.0,95.0 107.8,98.0 113.5,106.2 119.3,114.7 125.1,121.1 130.9,122.7 136.7,122.7 142.4,122.7 148.2,122.7 154.0,122.7 159.8,122.7 165.6,122.7 171.3,122.7 177.1,122.7 182.9,122.7 188.7,122.7 194.5,122.7 200.2,122.7 206.0,122.7 211.8,122.7 217.6,122.7 223.4,122.7 229.1,122.7 234.9,122.7 240.7,122.7 246.5,122.7" fill="none" stroke="#8a8a8a" stroke-width="0.7"/>
<polygon points="26.8,36.6 25.4,39.2 28.3,39.2" fill="#e8e8e8" stroke="#8a8a8a" stroke-width="0.8"/>
<polygon points="32.6,29.1 31.2,31.7 34.0,31.7" fill="#e8e8e8" stroke="#8a8a8a" stroke-width="0.8"/>
<polygon points="38.4,29.1 37.0,31.7 39.8,31.7" fill="#e8e8e8" stroke="#8a8a8a" stroke-width="0.8"/>
<polygon points="44.2,40.9 42.8,43.4 45.6,43.4" fill="#e8e8e8" stroke="#8a8a8a" stroke-width="0.8"/>
<polygon points="50.0,104.8 48.5,107.3 51.4,107.3" fill="#e8e8e8" stroke="#8a8a8a" stroke-width="0.8"/>
<polygon points="55.7,117.5 54.3,120.1 57.2,120.1" fill="#e8e8e8" stroke="#8a8a8a" stroke-width="0.8"/>
<polygon points="61.5,120.7 60.1,123.3 62.9,123.3" fill="#e8e8e8" stroke="#8a8a8a" stroke-width="0.8"/>
<polygon points="67.3,122.0 65.9,124.6 68.7,124.6" fill="#e8e8e8" stroke="#8a8a8a" stroke-width="0.8"/>
<polygon points="73.1,120.4 71.6,123.0 74.5,123.0" fill="#e8e8e8" stroke="#8a8a8a" stroke-width="0.8"/>
<polygon points="78.9,117.5 77.4,120.1 80.3,120.1" fill="#e8e8e8" stroke="#8a8a8a" stroke-width="0.8"/>
<polygon points="84.6,110.1 83.2,112.7 86.1,112.7" fill="#e8e8e8" stroke="#8a8a8a" stroke-width="0.8"/>
<polygon points="90.4,96.2 89.0,98.8 91.8,98.8" fill="#e8e8e8" stroke="#8a8a8a" stroke-width="0.8"/>
<polygon points="96.2,83.5 94.8,86.0 97.6,86.0" fill="#e8e8e8" stroke="#8a8a8a" stroke-width="0.8"/>
<polygon points="102.0,93.6 100.5,96.2 103.4,96.2" fill="#e8e8e8" stroke="#8a8a8a" stroke-width="0.8"/>
<polygon points="107.8,96.6 106.3,99.1 109.2,99.1" fill="#e8e8e8" stroke="#8a8a8a" stroke-width="0.8"/>
<polygon points="113.5,104.8 112.1,107.3 115.0,107.3" fill="#e8e8e8" stroke="#8a8a8a" stroke-width="0.8"/>
<polygon points="119.3,113.3 117.9,115.9 120.8,115.9" fill="#e8e8e8" stroke="#8a8a8a" stroke-width="0.8"/>
<polygon points="125.1,119.7 123.7,122.2 126.5,122.2" fill="#e8e8e8" stroke="#8a8a8a" stroke-width="0.8"/>
<polygon points="130.9,121.3 129.4,123.8 132.3,123.8" fill="#e8e8e8" stroke="#8a8a8a" stroke-width="0.8"/>
<polygon points="136.7,121.3 135.2,123.8 138.1,123.8" fill="#e8e8e8" stroke="#8a8a8a" stroke-width="0.8"/>
<polygon points="142.4,121.3 141.0,123.8 143.9,123.8" fill="#e8e8e8" stroke="#8a8a8a" stroke-width="0.8"/>
<polygon points="148.2,121.3 146.8,123.8 149.7,123.8" fill="#e8e8e8" stroke="#8a8a8a" stroke-width="0.8"/>
<polygon points="154.0,121.3 152.6,123.8 155.4,123.8" fill="#e8e8e8" stroke="#8a8a8a" stroke-width="0.8"/>
<polygon points="159.8,121.3 158.3,123.8 161.2,123.8" fill="#e8e8e8" stroke="#8a8a8a" stroke-width="0.8"/>
<polygon points="165.6,121.3 164.1,123.8 167.0,123.8" fill="#e8e8e8" stroke="#8a8a8a" stroke-width="0.8"/>
<polygon points="171.3,121.3 169.9,123.8 172.8,123.8" fill="#e8e8e8" stroke="#8a8a8a" stroke-width="0.8"/>
<polygon points="177.1,121.3 175.7,123.8 178.6,123.8" fill="#e8e8e8" stroke="#8a8a8a" stroke-width="0.8"/>
<polygon points="182.9,121.3 181.5,123.8 184.3,123.8" fill="#e8e8e8" stroke="#8a8a8a" stroke-width="0.8"/>
<polygon points="188.7,121.3 187.2,123.8 190.1,123.8" fill="#e8e8e8" stroke="#8a8a8a" stroke-width="0.8"/>
<polygon points="194.5,121.3 193.0,123.8 195.9,123.8" fill="#e8e8e8" stroke="#8a8a8a" stroke-width="0.8"/>
<polygon points="200.2,121.3 198.8,123.8 201.7,123.8" fill="#e8e8e8" stroke="#8a8a8a" stroke-width="0.8"/>
<polygon points="206.0,121.3 204.6,123.8 207.4,123.8" fill="#e8e8e8" stroke="#8a8a8a" stroke-width="0.8"/>
<polygon points="211.8,121.3 210.4,123.8 213.2,123.8" fill="#e8e8e8" stroke="#8a8a8a" stroke-width="0.8"/>
<polygon points="217.6,121.3 216.1,123.8 219.0,123.8" fill="#e8e8e8" stroke="#8a8a8a" stroke-width="0.8"/>
<polygon points="223.4,121.3 221.9,123.8 224.8,123.8" fill="#e8e8e8" stroke="#8a8a8a" stroke-width="0.8"/>
<polygon points="229.1,121.3 227.7,123.8 230.6,123.8" fill="#e8e8e8" stroke="#8a8a8a" stroke-width="0.8"/>
<polygon points="234.9,121.3 233.5,123.8 236.3,123.8" fill="#e8e8e8" stroke="#8a8a8a" stroke-width="0.8"/>
<polygon points="240.7,121.3 239.3,123.8 242.1,123.8" fill="#e8e8e8" stroke="#8a8a8a" stroke-width="0.8"/>
<polygon points="246.5,121.3 245.0,123.8 247.9,123.8" fill="#e8e8e8" stroke="#8a8a8a" stroke-width="0.8"/>
<line x1="32.6" y1="41.2" x2="32.6" y2="37.0" stroke="#666" stroke-width="0.7"/>
<line x1="31.3" y1="37.0" x2="33.9" y2="37.0" stroke="#666" stroke-width="0.7"/>
<line x1="38.4" y1="44.4" x2="38.4" y2="40.2" stroke="#666" stroke-width="0.7"/>
<line x1="37.1" y1="40.2" x2="39.7" y2="40.2" stroke="#666" stroke-width="0.7"/>
<line x1="44.2" y1="42.3" x2="44.2" y2="35.9" stroke="#666" stroke-width="0.7"/>
<line x1="42.9" y1="35.9" x2="45.5" y2="35.9" stroke="#666" stroke-width="0.7"/>
<line x1="50.0" y1="111.5" x2="50.0" y2="103.0" stroke="#666" stroke-width="0.7"/>
<line x1="48.7" y1="103.0" x2="51.3" y2="103.0" stroke="#666" stroke-width="0.7"/>
<line x1="55.7" y1="119.4" x2="55.7" y2="113.0" stroke="#666" stroke-width="0.7"/>
<line x1="54.4" y1="113.0" x2="57.0" y2="113.0" stroke="#666" stroke-width="0.7"/>
<line x1="61.5" y1="122.5" x2="61.5" y2="118.2" stroke="#666" stroke-width="0.7"/>
<line x1="60.2" y1="118.2" x2="62.8" y2="118.2" stroke="#666" stroke-width="0.7"/>
<line x1="67.3" y1="125.4" x2="67.3" y2="122.2" stroke="#666" stroke-width="0.7"/>
<line x1="66.0" y1="122.2" x2="68.6" y2="122.2" stroke="#666" stroke-width="0.7"/>
<line x1="73.1" y1="123.2" x2="73.1" y2="120.0" stroke="#666" stroke-width="0.7"/>
<line x1="71.8" y1="120.0" x2="74.4" y2="120.0" stroke="#666" stroke-width="0.7"/>
<line x1="78.9" y1="116.5" x2="78.9" y2="112.3" stroke="#666" stroke-width="0.7"/>
<line x1="77.6" y1="112.3" x2="80.2" y2="112.3" stroke="#666" stroke-width="0.7"/>
<line x1="84.6" y1="106.8" x2="84.6" y2="101.5" stroke="#666" stroke-width="0.7"/>
<line x1="83.3" y1="101.5" x2="85.9" y2="101.5" stroke="#666" stroke-width="0.7"/>
<line x1="90.4" y1="97.0" x2="90.4" y2="92.8" stroke="#666" stroke-width="0.7"/>
<line x1="89.1" y1="92.8" x2="91.7" y2="92.8" stroke="#666" stroke-width="0.7"/>
<line x1="96.2" y1="99.1" x2="96.2" y2="92.7" stroke="#666" stroke-width="0.7"/>
<line x1="94.9" y1="92.7" x2="97.5" y2="92.7" stroke="#666" stroke-width="0.7"/>
<line x1="102.0" y1="91.3" x2="102.0" y2="80.6" stroke="#666" stroke-width="0.7"/>
<line x1="100.7" y1="80.6" x2="103.3" y2="80.6" stroke="#666" stroke-width="0.7"/>
<line x1="107.8" y1="93.4" x2="107.8" y2="86.0" stroke="#666" stroke-width="0.7"/>
<line x1="106.5" y1="86.0" x2="109.1" y2="86.0" stroke="#666" stroke-width="0.7"/>
<line x1="113.5" y1="85.4" x2="113.5" y2="76.9" stroke="#666" stroke-width="0.7"/>
<line x1="112.2" y1="76.9" x2="114.8" y2="76.9" stroke="#666" stroke-width="0.7"/>
<line x1="119.3" y1="84.9" x2="119.3" y2="76.4" stroke="#666" stroke-width="0.7"/>
<line x1="118.0" y1="76.4" x2="120.6" y2="76.4" stroke="#666" stroke-width="0.7"/>
<line x1="125.1" y1="83.1" x2="125.1" y2="74.6" stroke="#666" stroke-width="0.7"/>
<line x1="123.8" y1="74.6" x2="126.4" y2="74.6" stroke="#666" stroke-width="0.7"/>
<line x1="130.9" y1="83.3" x2="130.9" y2="74.8" stroke="#666" stroke-width="0.7"/>
<line x1="129.6" y1="74.8" x2="132.2" y2="74.8" stroke="#666" stroke-width="0.7"/>
<line x1="136.7" y1="83.1" x2="136.7" y2="74.6" stroke="#666" stroke-width="0.7"/>
<line x1="135.4" y1="74.6" x2="138.0" y2="74.6" stroke="#666" stroke-width="0.7"/>
<line x1="142.4" y1="71.0" x2="142.4" y2="58.3" stroke="#666" stroke-width="0.7"/>
<line x1="141.1" y1="58.3" x2="143.7" y2="58.3" stroke="#666" stroke-width="0.7"/>
<line x1="148.2" y1="73.9" x2="148.2" y2="50.5" stroke="#666" stroke-width="0.7"/>
<line x1="146.9" y1="50.5" x2="149.5" y2="50.5" stroke="#666" stroke-width="0.7"/>
<line x1="154.0" y1="90.2" x2="154.0" y2="79.6" stroke="#666" stroke-width="0.7"/>
<line x1="152.7" y1="79.6" x2="155.3" y2="79.6" stroke="#666" stroke-width="0.7"/>
<line x1="159.8" y1="84.3" x2="159.8" y2="71.5" stroke="#666" stroke-width="0.7"/>
<line x1="158.5" y1="71.5" x2="161.1" y2="71.5" stroke="#666" stroke-width="0.7"/>
<line x1="165.6" y1="98.1" x2="165.6" y2="91.7" stroke="#666" stroke-width="0.7"/>
<line x1="164.3" y1="91.7" x2="166.9" y2="91.7" stroke="#666" stroke-width="0.7"/>
<line x1="171.3" y1="97.0" x2="171.3" y2="90.6" stroke="#666" stroke-width="0.7"/>
<line x1="170.0" y1="90.6" x2="172.6" y2="90.6" stroke="#666" stroke-width="0.7"/>
<line x1="177.1" y1="90.5" x2="177.1" y2="79.9" stroke="#666" stroke-width="0.7"/>
<line x1="175.8" y1="79.9" x2="178.4" y2="79.9" stroke="#666" stroke-width="0.7"/>
<line x1="182.9" y1="88.5" x2="182.9" y2="77.9" stroke="#666" stroke-width="0.7"/>
<line x1="181.6" y1="77.9" x2="184.2" y2="77.9" stroke="#666" stroke-width="0.7"/>
<line x1="188.7" y1="87.6" x2="188.7" y2="76.9" stroke="#666" stroke-width="0.7"/>
<line x1="187.4" y1="76.9" x2="190.0" y2="76.9" stroke="#666" stroke-width="0.7"/>
<line x1="194.5" y1="83.5" x2="194.5" y2="72.9" stroke="#666" stroke-width="0.7"/>
<line x1="193.2" y1="72.9" x2="195.8" y2="72.9" stroke="#666" stroke-width="0.7"/>
<line x1="200.2" y1="83.2" x2="200.2" y2="72.5" stroke="#666" stroke-width="0.7"/>
<line x1="198.9" y1="72.5" x2="201.5" y2="72.5" stroke="#666" stroke-width="0.7"/>
<line x1="206.0" y1="79.6" x2="206.0" y2="66.8" stroke="#666" stroke-width="0.7"/>
<line x1="204.7" y1="66.8" x2="207.3" y2="66.8" stroke="#666" stroke-width="0.7"/>
<line x1="211.8" y1="82.3" x2="211.8" y2="69.6" stroke="#666" stroke-width="0.7"/>
<line x1="210.5" y1="69.6" x2="213.1" y2="69.6" stroke="#666" stroke-width="0.7"/>
<line x1="217.6" y1="88.5" x2="217.6" y2="77.9" stroke="#666" stroke-width="0.7"/>
<line x1="216.3" y1="77.9" x2="218.9" y2="77.9" stroke="#666" stroke-width="0.7"/>
<line x1="223.4" y1="88.8" x2="223.4" y2="78.2" stroke="#666" stroke-width="0.7"/>
<line x1="222.1" y1="78.2" x2="224.7" y2="78.2" stroke="#666" stroke-width="0.7"/>
<line x1="229.1" y1="90.2" x2="229.1" y2="79.6" stroke="#666" stroke-width="0.7"/>
<line x1="227.8" y1="79.6" x2="230.4" y2="79.6" stroke="#666" stroke-width="0.7"/>
<line x1="234.9" y1="86.7" x2="234.9" y2="76.1" stroke="#666" stroke-width="0.7"/>
<line x1="233.6" y1="76.1" x2="236.2" y2="76.1" stroke="#666" stroke-width="0.7"/>
<line x1="240.7" y1="83.2" x2="240.7" y2="72.5" stroke="#666" stroke-width="0.7"/>
<line x1="239.4" y1="72.5" x2="242.0" y2="72.5" stroke="#666" stroke-width="0.7"/>
<line x1="246.5" y1="83.2" x2="246.5" y2="72.5" stroke="#666" stroke-width="0.7"/>
<line x1="245.2" y1="72.5" x2="247.8" y2="72.5" stroke="#666" stroke-width="0.7"/>
<polyline points="26.8,38.0 32.6,41.2 38.4,44.4 44.2,42.3 50.0,111.5 55.7,119.4 61.5,122.5 67.3,125.4 73.1,123.2 78.9,116.5 84.6,106.8 90.4,97.0 96.2,99.1 102.0,91.3 107.8,93.4 113.5,85.4 119.3,84.9 125.1,83.1 130.9,83.3 136.7,83.1 142.4,71.0 148.2,73.9 154.0,90.2 159.8,84.3 165.6,98.1 171.3,97.0 177.1,90.5 182.9,88.5 188.7,87.6 194.5,83.5 200.2,83.2 206.0,79.6 211.8,82.3 217.6,88.5 223.4,88.8 229.1,90.2 234.9,86.7 240.7,83.2 246.5,83.2" fill="none" stroke="#111" stroke-width="0.7"/>
<circle cx="26.8" cy="38.0" r="1.6" fill="#111"/>
<circle cx="32.6" cy="41.2" r="1.6" fill="#111"/>
<circle cx="38.4" cy="44.4" r="1.6" fill="#111"/>
<circle cx="44.2" cy="42.3" r="1.6" fill="#111"/>
<circle cx="50.0" cy="111.5" r="1.6" fill="#111"/>
<circle cx="55.7" cy="119.4" r="1.6" fill="#111"/>
<circle cx="61.5" cy="122.5" r="1.6" fill="#111"/>
<circle cx="67.3" cy="125.4" r="1.6" fill="#111"/>
<circle cx="73.1" cy="123.2" r="1.6" fill="#111"/>
<circle cx="78.9" cy="116.5" r="1.6" fill="#111"/>
<circle cx="84.6" cy="106.8" r="1.6" fill="#111"/>
<circle cx="90.4" cy="97.0" r="1.6" fill="#111"/>
<circle cx="96.2" cy="99.1" r="1.6" fill="#111"/>
<circle cx="102.0" cy="91.3" r="1.6" fill="#111"/>
<circle cx="107.8" cy="93.4" r="1.6" fill="#111"/>
<circle cx="113.5" cy="85.4" r="1.6" fill="#111"/>
<circle cx="119.3" cy="84.9" r="1.6" fill="#111"/>
<circle cx="125.1" cy="83.1" r="1.6" fill="#111"/>
<circle cx="130.9" cy="83.3" r="1.6" fill="#111"/>
<circle cx="136.7" cy="83.1" r="1.6" fill="#111"/>
<circle cx="142.4" cy="71.0" r="1.6" fill="#111"/>
<circle cx="148.2" cy="73.9" r="1.6" fill="#111"/>
<circle cx="154.0" cy="90.2" r="1.6" fill="#111"/>
<circle cx="159.8" cy="84.3" r="1.6" fill="#111"/>
<circle cx="165.6" cy="98.1" r="1.6" fill="#111"/>
<circle cx="171.3" cy="97.0" r="1.6" fill="#111"/>
<circle cx="177.1" cy="90.5" r="1.6" fill="#111"/>
<circle cx="182.9" cy="88.5" r="1.6" fill="#111"/>
<circle cx="188.7" cy="87.6" r="1.6" fill="#111"/>
<circle cx="194.5" cy="83.5" r="1.6" fill="#111"/>
<circle cx="200.2" cy="83.2" r="1.6" fill="#111"/>
<circle cx="206.0" cy="79.6" r="1.6" fill="#111"/>
<circle cx="211.8" cy="82.3" r="1.6" fill="#111"/>
<circle cx="217.6" cy="88.5" r="1.6" fill="#111"/>
<circle cx="223.4" cy="88.8" r="1.6" fill="#111"/>
<circle cx="229.1" cy="90.2" r="1.6" fill="#111"/>
<circle cx="234.9" cy="86.7" r="1.6" fill="#111"/>
<circle cx="240.7" cy="83.2" r="1.6" fill="#111"/>
<circle cx="246.5" cy="83.2" r="1.6" fill="#111"/>
<text x="170.4" y="68.5" font-size="6.65" font-weight="normal" text-anchor="start" fill="#111" textLength="77.3" lengthAdjust="spacingAndGlyphs" stroke="#111" stroke-width="0.5">ALX-0081 + rtPA low dose</text>
<text x="116.5" y="108.2" font-size="7" font-weight="normal" text-anchor="start" fill="#111" textLength="42.3" lengthAdjust="spacingAndGlyphs" stroke="#111" stroke-width="0.5">rtPA low dose</text>
<text x="188.5" y="112.2" font-size="6.62" font-weight="normal" text-anchor="start" fill="#111" textLength="59.2" lengthAdjust="spacingAndGlyphs" stroke="#111" stroke-width="0.5">ALX-0081 (5 mg/kg)</text>
<text x="227.2" y="128.3" font-size="6.3" font-weight="bold" text-anchor="start" fill="#111" textLength="20.5" lengthAdjust="spacingAndGlyphs" stroke="#111" stroke-width="0.5">Vehicle</text>
<text x="45.8" y="153.2" font-size="6.75" font-weight="normal" text-anchor="start" fill="#111" textLength="11.5" lengthAdjust="spacingAndGlyphs" stroke="#111" stroke-width="0.5">TTO</text>
<text x="74.3" y="153.2" font-size="6.75" font-weight="normal" text-anchor="start" fill="#111" textLength="21.9" lengthAdjust="spacingAndGlyphs" stroke="#111" stroke-width="0.5">DRUGS</text>
<text x="55.9" y="157.2" font-size="5.4" font-weight="normal" text-anchor="start" fill="#111" textLength="16.1" lengthAdjust="spacingAndGlyphs" stroke="#111" stroke-width="0.5">15 min</text>
<line x1="56.6" y1="143.5" x2="56.6" y2="147.6" stroke="#111" stroke-width="1.2"/>
<polygon points="56.6,141.2 54.7,144.6 58.5,144.6" fill="#111"/>
<line x1="72.1" y1="143.5" x2="72.1" y2="147.6" stroke="#111" stroke-width="1.2"/>
<polygon points="72.1,141.2 70.2,144.6 74.0,144.6" fill="#111"/>
<line x1="58.5" y1="150.4" x2="70.0" y2="150.4" stroke="#222" stroke-width="0.8" stroke-dasharray="0.9,0.9"/>
<circle cx="58.3" cy="150.4" r="0.8" fill="#111"/><circle cx="70.2" cy="150.4" r="0.8" fill="#111"/>
<text x="267.6" y="8.7" font-size="11.5" font-weight="bold" text-anchor="start" fill="#111" stroke="#111" stroke-width="0.3">B</text>
<text transform="translate(279.6,87.3) rotate(-90)" x="0" y="0" font-size="10.4" font-weight="bold" text-anchor="middle" fill="#111" stroke="#111" stroke-width="0.2" textLength="130.0" lengthAdjust="spacingAndGlyphs">Cerebral Blood Flow (TPU)</text>
<line x1="296.5" y1="18.2" x2="296.5" y2="143.8" stroke="#222" stroke-width="1"/>
<line x1="293.9" y1="18.7" x2="296.5" y2="18.7" stroke="#222" stroke-width="1"/>
<text x="293.7" y="21.0" font-size="7" font-weight="normal" text-anchor="end" fill="#222" stroke="#222" stroke-width="0.4">100</text>
<line x1="293.9" y1="39.1" x2="296.5" y2="39.1" stroke="#222" stroke-width="1"/>
<text x="293.7" y="41.4" font-size="7" font-weight="normal" text-anchor="end" fill="#222" stroke="#222" stroke-width="0.4">80</text>
<line x1="293.9" y1="60.1" x2="296.5" y2="60.1" stroke="#222" stroke-width="1"/>
<text x="293.7" y="62.4" font-size="7" font-weight="normal" text-anchor="end" fill="#222" stroke="#222" stroke-width="0.4">60</text>
<line x1="293.9" y1="80.4" x2="296.5" y2="80.4" stroke="#222" stroke-width="1"/>
<text x="293.7" y="82.7" font-size="7" font-weight="normal" text-anchor="end" fill="#222" stroke="#222" stroke-width="0.4">40</text>
<line x1="293.9" y1="101.6" x2="296.5" y2="101.6" stroke="#222" stroke-width="1"/>
<text x="293.7" y="103.9" font-size="7" font-weight="normal" text-anchor="end" fill="#222" stroke="#222" stroke-width="0.4">20</text>
<line x1="293.9" y1="121.8" x2="296.5" y2="121.8" stroke="#222" stroke-width="1"/>
<text x="293.7" y="124.1" font-size="7" font-weight="normal" text-anchor="end" fill="#222" stroke="#222" stroke-width="0.4">0</text>
<line x1="293.9" y1="142.5" x2="296.5" y2="142.5" stroke="#222" stroke-width="1"/>
<text x="293.7" y="144.8" font-size="7" font-weight="normal" text-anchor="end" fill="#222" stroke="#222" stroke-width="0.4">-20</text>
<line x1="296.5" y1="129.5" x2="520.0" y2="129.5" stroke="#a8a8a8" stroke-width="1"/>
<text x="303.8" y="136.7" font-size="7" font-weight="normal" text-anchor="middle" fill="#222" stroke="#222" stroke-width="0.4">-5</text>
<text x="310.0" y="136.7" font-size="7" font-weight="normal" text-anchor="middle" fill="#222" stroke="#222" stroke-width="0.4">0</text>
<text x="344.5" y="136.7" font-size="7" font-weight="normal" text-anchor="middle" fill="#222" stroke="#222" stroke-width="0.4">30</text>
<text x="379.5" y="136.7" font-size="7" font-weight="normal" text-anchor="middle" fill="#222" stroke="#222" stroke-width="0.4">60</text>
<text x="413.3" y="136.7" font-size="7" font-weight="normal" text-anchor="middle" fill="#222" stroke="#222" stroke-width="0.4">90</text>
<text x="447.0" y="136.7" font-size="7" font-weight="normal" text-anchor="middle" fill="#222" stroke="#222" stroke-width="0.4">120</text>
<text x="481.0" y="136.7" font-size="7" font-weight="normal" text-anchor="middle" fill="#222" stroke="#222" stroke-width="0.4">150</text>
<text x="515.0" y="136.7" font-size="7" font-weight="normal" text-anchor="middle" fill="#222" stroke="#222" stroke-width="0.4">180</text>
<text x="465.8" y="146.7" font-size="7.88" font-weight="bold" text-anchor="start" fill="#111" textLength="39.7" lengthAdjust="spacingAndGlyphs" stroke="#111" stroke-width="0.3">Time (min)</text>
<line x1="304.2" y1="47.6" x2="304.2" y2="43.5" stroke="#444" stroke-width="0.7"/>
<line x1="302.9" y1="43.5" x2="305.5" y2="43.5" stroke="#444" stroke-width="0.7"/>
<line x1="309.8" y1="49.7" x2="309.8" y2="45.6" stroke="#444" stroke-width="0.7"/>
<line x1="308.5" y1="45.6" x2="311.1" y2="45.6" stroke="#444" stroke-width="0.7"/>
<line x1="315.4" y1="57.9" x2="315.4" y2="53.8" stroke="#444" stroke-width="0.7"/>
<line x1="314.1" y1="53.8" x2="316.8" y2="53.8" stroke="#444" stroke-width="0.7"/>
<line x1="321.1" y1="73.4" x2="321.1" y2="68.2" stroke="#444" stroke-width="0.7"/>
<line x1="319.8" y1="68.2" x2="322.4" y2="68.2" stroke="#444" stroke-width="0.7"/>
<line x1="326.8" y1="85.8" x2="326.8" y2="80.6" stroke="#444" stroke-width="0.7"/>
<line x1="325.4" y1="80.6" x2="328.1" y2="80.6" stroke="#444" stroke-width="0.7"/>
<line x1="332.4" y1="101.2" x2="332.4" y2="96.0" stroke="#444" stroke-width="0.7"/>
<line x1="331.1" y1="96.0" x2="333.7" y2="96.0" stroke="#444" stroke-width="0.7"/>
<line x1="338.1" y1="116.6" x2="338.1" y2="112.5" stroke="#444" stroke-width="0.7"/>
<line x1="336.8" y1="112.5" x2="339.4" y2="112.5" stroke="#444" stroke-width="0.7"/>
<line x1="343.7" y1="121.4" x2="343.7" y2="117.3" stroke="#444" stroke-width="0.7"/>
<line x1="342.4" y1="117.3" x2="345.0" y2="117.3" stroke="#444" stroke-width="0.7"/>
<polyline points="298.5,46.6 304.2,47.6 309.8,49.7 315.4,57.9 321.1,73.4 326.8,85.8 332.4,101.2 338.1,116.6 343.7,121.4 349.4,123.9 355.0,128.0 360.6,128.0 366.3,128.0 371.9,128.0 377.6,128.0 383.2,128.0 388.9,128.0 394.6,128.0 400.2,128.0 405.9,128.0 411.5,128.0 417.1,128.0 422.8,128.0 428.4,128.0 434.1,128.0 439.8,128.0 445.4,128.0 451.1,128.0 456.7,128.0 462.4,128.0 468.0,128.0 473.6,128.0 479.3,128.0 484.9,128.0 490.6,128.0 496.2,128.0 501.9,128.0 507.5,128.0 513.2,128.0" fill="none" stroke="#222" stroke-width="0.7"/>
<circle cx="298.5" cy="46.6" r="1.4" fill="#fff" stroke="#222" stroke-width="0.8"/>
<circle cx="304.2" cy="47.6" r="1.4" fill="#fff" stroke="#222" stroke-width="0.8"/>
<circle cx="309.8" cy="49.7" r="1.4" fill="#fff" stroke="#222" stroke-width="0.8"/>
<circle cx="315.4" cy="57.9" r="1.4" fill="#fff" stroke="#222" stroke-width="0.8"/>
<circle cx="321.1" cy="73.4" r="1.4" fill="#fff" stroke="#222" stroke-width="0.8"/>
<circle cx="326.8" cy="85.8" r="1.4" fill="#fff" stroke="#222" stroke-width="0.8"/>
<circle cx="332.4" cy="101.2" r="1.4" fill="#fff" stroke="#222" stroke-width="0.8"/>
<circle cx="338.1" cy="116.6" r="1.4" fill="#fff" stroke="#222" stroke-width="0.8"/>
<circle cx="343.7" cy="121.4" r="1.4" fill="#fff" stroke="#222" stroke-width="0.8"/>
<circle cx="349.4" cy="123.9" r="1.4" fill="#fff" stroke="#222" stroke-width="0.8"/>
<circle cx="355.0" cy="128.0" r="1.4" fill="#fff" stroke="#222" stroke-width="0.8"/>
<circle cx="360.6" cy="128.0" r="1.4" fill="#fff" stroke="#222" stroke-width="0.8"/>
<circle cx="366.3" cy="128.0" r="1.4" fill="#fff" stroke="#222" stroke-width="0.8"/>
<circle cx="371.9" cy="128.0" r="1.4" fill="#fff" stroke="#222" stroke-width="0.8"/>
<circle cx="377.6" cy="128.0" r="1.4" fill="#fff" stroke="#222" stroke-width="0.8"/>
<circle cx="383.2" cy="128.0" r="1.4" fill="#fff" stroke="#222" stroke-width="0.8"/>
<circle cx="388.9" cy="128.0" r="1.4" fill="#fff" stroke="#222" stroke-width="0.8"/>
<circle cx="394.6" cy="128.0" r="1.4" fill="#fff" stroke="#222" stroke-width="0.8"/>
<circle cx="400.2" cy="128.0" r="1.4" fill="#fff" stroke="#222" stroke-width="0.8"/>
<circle cx="405.9" cy="128.0" r="1.4" fill="#fff" stroke="#222" stroke-width="0.8"/>
<circle cx="411.5" cy="128.0" r="1.4" fill="#fff" stroke="#222" stroke-width="0.8"/>
<circle cx="417.1" cy="128.0" r="1.4" fill="#fff" stroke="#222" stroke-width="0.8"/>
<circle cx="422.8" cy="128.0" r="1.4" fill="#fff" stroke="#222" stroke-width="0.8"/>
<circle cx="428.4" cy="128.0" r="1.4" fill="#fff" stroke="#222" stroke-width="0.8"/>
<circle cx="434.1" cy="128.0" r="1.4" fill="#fff" stroke="#222" stroke-width="0.8"/>
<circle cx="439.8" cy="128.0" r="1.4" fill="#fff" stroke="#222" stroke-width="0.8"/>
<circle cx="445.4" cy="128.0" r="1.4" fill="#fff" stroke="#222" stroke-width="0.8"/>
<circle cx="451.1" cy="128.0" r="1.4" fill="#fff" stroke="#222" stroke-width="0.8"/>
<circle cx="456.7" cy="128.0" r="1.4" fill="#fff" stroke="#222" stroke-width="0.8"/>
<circle cx="462.4" cy="128.0" r="1.4" fill="#fff" stroke="#222" stroke-width="0.8"/>
<circle cx="468.0" cy="128.0" r="1.4" fill="#fff" stroke="#222" stroke-width="0.8"/>
<circle cx="473.6" cy="128.0" r="1.4" fill="#fff" stroke="#222" stroke-width="0.8"/>
<circle cx="479.3" cy="128.0" r="1.4" fill="#fff" stroke="#222" stroke-width="0.8"/>
<circle cx="484.9" cy="128.0" r="1.4" fill="#fff" stroke="#222" stroke-width="0.8"/>
<circle cx="490.6" cy="128.0" r="1.4" fill="#fff" stroke="#222" stroke-width="0.8"/>
<circle cx="496.2" cy="128.0" r="1.4" fill="#fff" stroke="#222" stroke-width="0.8"/>
<circle cx="501.9" cy="128.0" r="1.4" fill="#fff" stroke="#222" stroke-width="0.8"/>
<circle cx="507.5" cy="128.0" r="1.4" fill="#fff" stroke="#222" stroke-width="0.8"/>
<circle cx="513.2" cy="128.0" r="1.4" fill="#fff" stroke="#222" stroke-width="0.8"/>
<line x1="304.2" y1="50.7" x2="304.2" y2="45.6" stroke="#555" stroke-width="0.7"/>
<line x1="302.9" y1="45.6" x2="305.5" y2="45.6" stroke="#555" stroke-width="0.7"/>
<line x1="309.8" y1="49.7" x2="309.8" y2="44.5" stroke="#555" stroke-width="0.7"/>
<line x1="308.5" y1="44.5" x2="311.1" y2="44.5" stroke="#555" stroke-width="0.7"/>
<line x1="315.4" y1="51.8" x2="315.4" y2="45.6" stroke="#555" stroke-width="0.7"/>
<line x1="314.1" y1="45.6" x2="316.8" y2="45.6" stroke="#555" stroke-width="0.7"/>
<line x1="321.1" y1="82.7" x2="321.1" y2="74.4" stroke="#555" stroke-width="0.7"/>
<line x1="319.8" y1="74.4" x2="322.4" y2="74.4" stroke="#555" stroke-width="0.7"/>
<line x1="326.8" y1="84.7" x2="326.8" y2="66.2" stroke="#555" stroke-width="0.7"/>
<line x1="325.4" y1="66.2" x2="328.1" y2="66.2" stroke="#555" stroke-width="0.7"/>
<line x1="332.4" y1="97.3" x2="332.4" y2="87.0" stroke="#555" stroke-width="0.7"/>
<line x1="331.1" y1="87.0" x2="333.7" y2="87.0" stroke="#555" stroke-width="0.7"/>
<line x1="338.1" y1="126.5" x2="338.1" y2="116.2" stroke="#555" stroke-width="0.7"/>
<line x1="336.8" y1="116.2" x2="339.4" y2="116.2" stroke="#555" stroke-width="0.7"/>
<line x1="343.7" y1="127.0" x2="343.7" y2="121.8" stroke="#555" stroke-width="0.7"/>
<line x1="342.4" y1="121.8" x2="345.0" y2="121.8" stroke="#555" stroke-width="0.7"/>
<line x1="349.4" y1="127.5" x2="349.4" y2="123.3" stroke="#555" stroke-width="0.7"/>
<line x1="348.1" y1="123.3" x2="350.7" y2="123.3" stroke="#555" stroke-width="0.7"/>
<line x1="355.0" y1="128.3" x2="355.0" y2="125.7" stroke="#555" stroke-width="0.7"/>
<line x1="353.7" y1="125.7" x2="356.3" y2="125.7" stroke="#555" stroke-width="0.7"/>
<line x1="360.6" y1="128.3" x2="360.6" y2="125.7" stroke="#555" stroke-width="0.7"/>
<line x1="359.3" y1="125.7" x2="361.9" y2="125.7" stroke="#555" stroke-width="0.7"/>
<line x1="366.3" y1="128.3" x2="366.3" y2="125.7" stroke="#555" stroke-width="0.7"/>
<line x1="365.0" y1="125.7" x2="367.6" y2="125.7" stroke="#555" stroke-width="0.7"/>
<line x1="371.9" y1="128.3" x2="371.9" y2="125.7" stroke="#555" stroke-width="0.7"/>
<line x1="370.6" y1="125.7" x2="373.2" y2="125.7" stroke="#555" stroke-width="0.7"/>
<line x1="377.6" y1="128.3" x2="377.6" y2="125.7" stroke="#555" stroke-width="0.7"/>
<line x1="376.3" y1="125.7" x2="378.9" y2="125.7" stroke="#555" stroke-width="0.7"/>
<line x1="383.2" y1="128.3" x2="383.2" y2="125.7" stroke="#555" stroke-width="0.7"/>
<line x1="381.9" y1="125.7" x2="384.6" y2="125.7" stroke="#555" stroke-width="0.7"/>
<line x1="388.9" y1="128.3" x2="388.9" y2="125.7" stroke="#555" stroke-width="0.7"/>
<line x1="387.6" y1="125.7" x2="390.2" y2="125.7" stroke="#555" stroke-width="0.7"/>
<line x1="394.6" y1="128.3" x2="394.6" y2="124.2" stroke="#555" stroke-width="0.7"/>
<line x1="393.2" y1="124.2" x2="395.9" y2="124.2" stroke="#555" stroke-width="0.7"/>
<line x1="400.2" y1="128.3" x2="400.2" y2="125.2" stroke="#555" stroke-width="0.7"/>
<line x1="398.9" y1="125.2" x2="401.5" y2="125.2" stroke="#555" stroke-width="0.7"/>
<line x1="405.9" y1="128.3" x2="405.9" y2="118.2" stroke="#555" stroke-width="0.7"/>
<line x1="404.6" y1="118.2" x2="407.2" y2="118.2" stroke="#555" stroke-width="0.7"/>
<line x1="411.5" y1="128.3" x2="411.5" y2="115.0" stroke="#555" stroke-width="0.7"/>
<line x1="410.2" y1="115.0" x2="412.8" y2="115.0" stroke="#555" stroke-width="0.7"/>
<line x1="417.1" y1="128.3" x2="417.1" y2="115.0" stroke="#555" stroke-width="0.7"/>
<line x1="415.8" y1="115.0" x2="418.4" y2="115.0" stroke="#555" stroke-width="0.7"/>
<line x1="422.8" y1="128.3" x2="422.8" y2="115.7" stroke="#555" stroke-width="0.7"/>
<line x1="421.5" y1="115.7" x2="424.1" y2="115.7" stroke="#555" stroke-width="0.7"/>
<line x1="428.4" y1="128.3" x2="428.4" y2="116.4" stroke="#555" stroke-width="0.7"/>
<line x1="427.1" y1="116.4" x2="429.8" y2="116.4" stroke="#555" stroke-width="0.7"/>
<line x1="434.1" y1="128.3" x2="434.1" y2="115.0" stroke="#555" stroke-width="0.7"/>
<line x1="432.8" y1="115.0" x2="435.4" y2="115.0" stroke="#555" stroke-width="0.7"/>
<line x1="439.8" y1="128.3" x2="439.8" y2="115.7" stroke="#555" stroke-width="0.7"/>
<line x1="438.4" y1="115.7" x2="441.1" y2="115.7" stroke="#555" stroke-width="0.7"/>
<line x1="445.4" y1="128.3" x2="445.4" y2="117.5" stroke="#555" stroke-width="0.7"/>
<line x1="444.1" y1="117.5" x2="446.7" y2="117.5" stroke="#555" stroke-width="0.7"/>
<line x1="451.1" y1="128.3" x2="451.1" y2="113.3" stroke="#555" stroke-width="0.7"/>
<line x1="449.8" y1="113.3" x2="452.4" y2="113.3" stroke="#555" stroke-width="0.7"/>
<line x1="456.7" y1="128.3" x2="456.7" y2="114.0" stroke="#555" stroke-width="0.7"/>
<line x1="455.4" y1="114.0" x2="458.0" y2="114.0" stroke="#555" stroke-width="0.7"/>
<line x1="462.4" y1="128.3" x2="462.4" y2="109.4" stroke="#555" stroke-width="0.7"/>
<line x1="461.1" y1="109.4" x2="463.7" y2="109.4" stroke="#555" stroke-width="0.7"/>
<line x1="468.0" y1="128.3" x2="468.0" y2="117.0" stroke="#555" stroke-width="0.7"/>
<line x1="466.7" y1="117.0" x2="469.3" y2="117.0" stroke="#555" stroke-width="0.7"/>
<line x1="473.6" y1="128.3" x2="473.6" y2="112.5" stroke="#555" stroke-width="0.7"/>
<line x1="472.3" y1="112.5" x2="474.9" y2="112.5" stroke="#555" stroke-width="0.7"/>
<line x1="479.3" y1="128.3" x2="479.3" y2="114.0" stroke="#555" stroke-width="0.7"/>
<line x1="478.0" y1="114.0" x2="480.6" y2="114.0" stroke="#555" stroke-width="0.7"/>
<line x1="484.9" y1="128.3" x2="484.9" y2="114.0" stroke="#555" stroke-width="0.7"/>
<line x1="483.6" y1="114.0" x2="486.2" y2="114.0" stroke="#555" stroke-width="0.7"/>
<line x1="490.6" y1="128.3" x2="490.6" y2="114.0" stroke="#555" stroke-width="0.7"/>
<line x1="489.3" y1="114.0" x2="491.9" y2="114.0" stroke="#555" stroke-width="0.7"/>
<line x1="496.2" y1="128.3" x2="496.2" y2="112.5" stroke="#555" stroke-width="0.7"/>
<line x1="494.9" y1="112.5" x2="497.6" y2="112.5" stroke="#555" stroke-width="0.7"/>
<line x1="501.9" y1="128.3" x2="501.9" y2="117.5" stroke="#555" stroke-width="0.7"/>
<line x1="500.6" y1="117.5" x2="503.2" y2="117.5" stroke="#555" stroke-width="0.7"/>
<line x1="507.5" y1="128.3" x2="507.5" y2="114.0" stroke="#555" stroke-width="0.7"/>
<line x1="506.2" y1="114.0" x2="508.8" y2="114.0" stroke="#555" stroke-width="0.7"/>
<line x1="513.2" y1="128.3" x2="513.2" y2="114.0" stroke="#555" stroke-width="0.7"/>
<line x1="511.9" y1="114.0" x2="514.5" y2="114.0" stroke="#555" stroke-width="0.7"/>
<polyline points="298.5,48.7 304.2,50.7 309.8,49.7 315.4,51.8 321.1,82.7 326.8,84.7 332.4,97.3 338.1,126.5 343.7,127.0 349.4,127.5 355.0,128.3 360.6,128.3 366.3,128.3 371.9,128.3 377.6,128.3 383.2,128.3 388.9,128.3 394.6,128.3 400.2,128.3 405.9,128.3 411.5,128.3 417.1,128.3 422.8,128.3 428.4,128.3 434.1,128.3 439.8,128.3 445.4,128.3 451.1,128.3 456.7,128.3 462.4,128.3 468.0,128.3 473.6,128.3 479.3,128.3 484.9,128.3 490.6,128.3 496.2,128.3 501.9,128.3 507.5,128.3 513.2,128.3" fill="none" stroke="#111" stroke-width="0.7"/>
<rect x="297.0" y="47.2" width="3.0" height="3.0" fill="#111"/>
<rect x="302.7" y="49.2" width="3.0" height="3.0" fill="#111"/>
<rect x="308.3" y="48.2" width="3.0" height="3.0" fill="#111"/>
<rect x="313.9" y="50.3" width="3.0" height="3.0" fill="#111"/>
<rect x="319.6" y="81.2" width="3.0" height="3.0" fill="#111"/>
<rect x="325.2" y="83.2" width="3.0" height="3.0" fill="#111"/>
<rect x="330.9" y="95.8" width="3.0" height="3.0" fill="#111"/>
<rect x="336.6" y="125.0" width="3.0" height="3.0" fill="#111"/>
<rect x="342.2" y="125.5" width="3.0" height="3.0" fill="#111"/>
<rect x="347.9" y="126.0" width="3.0" height="3.0" fill="#111"/>
<rect x="353.5" y="126.8" width="3.0" height="3.0" fill="#111"/>
<rect x="359.1" y="126.8" width="3.0" height="3.0" fill="#111"/>
<rect x="364.8" y="126.8" width="3.0" height="3.0" fill="#111"/>
<rect x="370.4" y="126.8" width="3.0" height="3.0" fill="#111"/>
<rect x="376.1" y="126.8" width="3.0" height="3.0" fill="#111"/>
<rect x="381.8" y="126.8" width="3.0" height="3.0" fill="#111"/>
<rect x="387.4" y="126.8" width="3.0" height="3.0" fill="#111"/>
<rect x="393.1" y="126.8" width="3.0" height="3.0" fill="#111"/>
<rect x="398.7" y="126.8" width="3.0" height="3.0" fill="#111"/>
<rect x="404.4" y="126.8" width="3.0" height="3.0" fill="#111"/>
<rect x="410.0" y="126.8" width="3.0" height="3.0" fill="#111"/>
<rect x="415.6" y="126.8" width="3.0" height="3.0" fill="#111"/>
<rect x="421.3" y="126.8" width="3.0" height="3.0" fill="#111"/>
<rect x="426.9" y="126.8" width="3.0" height="3.0" fill="#111"/>
<rect x="432.6" y="126.8" width="3.0" height="3.0" fill="#111"/>
<rect x="438.2" y="126.8" width="3.0" height="3.0" fill="#111"/>
<rect x="443.9" y="126.8" width="3.0" height="3.0" fill="#111"/>
<rect x="449.6" y="126.8" width="3.0" height="3.0" fill="#111"/>
<rect x="455.2" y="126.8" width="3.0" height="3.0" fill="#111"/>
<rect x="460.9" y="126.8" width="3.0" height="3.0" fill="#111"/>
<rect x="466.5" y="126.8" width="3.0" height="3.0" fill="#111"/>
<rect x="472.1" y="126.8" width="3.0" height="3.0" fill="#111"/>
<rect x="477.8" y="126.8" width="3.0" height="3.0" fill="#111"/>
<rect x="483.4" y="126.8" width="3.0" height="3.0" fill="#111"/>
<rect x="489.1" y="126.8" width="3.0" height="3.0" fill="#111"/>
<rect x="494.8" y="126.8" width="3.0" height="3.0" fill="#111"/>
<rect x="500.4" y="126.8" width="3.0" height="3.0" fill="#111"/>
<rect x="506.0" y="126.8" width="3.0" height="3.0" fill="#111"/>
<rect x="511.7" y="126.8" width="3.0" height="3.0" fill="#111"/>
<line x1="304.2" y1="43.5" x2="304.2" y2="39.4" stroke="#555" stroke-width="0.7"/>
<line x1="302.9" y1="39.4" x2="305.5" y2="39.4" stroke="#555" stroke-width="0.7"/>
<line x1="309.8" y1="44.5" x2="309.8" y2="40.4" stroke="#555" stroke-width="0.7"/>
<line x1="308.5" y1="40.4" x2="311.1" y2="40.4" stroke="#555" stroke-width="0.7"/>
<line x1="315.4" y1="48.2" x2="315.4" y2="42.0" stroke="#555" stroke-width="0.7"/>
<line x1="314.1" y1="42.0" x2="316.8" y2="42.0" stroke="#555" stroke-width="0.7"/>
<line x1="321.1" y1="58.6" x2="321.1" y2="52.4" stroke="#555" stroke-width="0.7"/>
<line x1="319.8" y1="52.4" x2="322.4" y2="52.4" stroke="#555" stroke-width="0.7"/>
<line x1="326.8" y1="72.1" x2="326.8" y2="64.8" stroke="#555" stroke-width="0.7"/>
<line x1="325.4" y1="64.8" x2="328.1" y2="64.8" stroke="#555" stroke-width="0.7"/>
<line x1="332.4" y1="82.0" x2="332.4" y2="73.8" stroke="#555" stroke-width="0.7"/>
<line x1="331.1" y1="73.8" x2="333.7" y2="73.8" stroke="#555" stroke-width="0.7"/>
<line x1="338.1" y1="90.9" x2="338.1" y2="80.6" stroke="#555" stroke-width="0.7"/>
<line x1="336.8" y1="80.6" x2="339.4" y2="80.6" stroke="#555" stroke-width="0.7"/>
<line x1="343.7" y1="106.7" x2="343.7" y2="98.4" stroke="#555" stroke-width="0.7"/>
<line x1="342.4" y1="98.4" x2="345.0" y2="98.4" stroke="#555" stroke-width="0.7"/>
<line x1="349.4" y1="122.0" x2="349.4" y2="117.9" stroke="#555" stroke-width="0.7"/>
<line x1="348.1" y1="117.9" x2="350.7" y2="117.9" stroke="#555" stroke-width="0.7"/>
<line x1="355.0" y1="127.0" x2="355.0" y2="123.9" stroke="#555" stroke-width="0.7"/>
<line x1="353.7" y1="123.9" x2="356.3" y2="123.9" stroke="#555" stroke-width="0.7"/>
<line x1="360.6" y1="128.0" x2="360.6" y2="124.9" stroke="#555" stroke-width="0.7"/>
<line x1="359.3" y1="124.9" x2="361.9" y2="124.9" stroke="#555" stroke-width="0.7"/>
<line x1="366.3" y1="128.0" x2="366.3" y2="124.9" stroke="#555" stroke-width="0.7"/>
<line x1="365.0" y1="124.9" x2="367.6" y2="124.9" stroke="#555" stroke-width="0.7"/>
<line x1="371.9" y1="128.0" x2="371.9" y2="124.9" stroke="#555" stroke-width="0.7"/>
<line x1="370.6" y1="124.9" x2="373.2" y2="124.9" stroke="#555" stroke-width="0.7"/>
<line x1="377.6" y1="128.0" x2="377.6" y2="124.9" stroke="#555" stroke-width="0.7"/>
<line x1="376.3" y1="124.9" x2="378.9" y2="124.9" stroke="#555" stroke-width="0.7"/>
<line x1="383.2" y1="128.0" x2="383.2" y2="124.9" stroke="#555" stroke-width="0.7"/>
<line x1="381.9" y1="124.9" x2="384.6" y2="124.9" stroke="#555" stroke-width="0.7"/>
<line x1="388.9" y1="128.0" x2="388.9" y2="124.9" stroke="#555" stroke-width="0.7"/>
<line x1="387.6" y1="124.9" x2="390.2" y2="124.9" stroke="#555" stroke-width="0.7"/>
<line x1="394.6" y1="128.0" x2="394.6" y2="124.9" stroke="#555" stroke-width="0.7"/>
<line x1="393.2" y1="124.9" x2="395.9" y2="124.9" stroke="#555" stroke-width="0.7"/>
<line x1="400.2" y1="127.0" x2="400.2" y2="123.9" stroke="#555" stroke-width="0.7"/>
<line x1="398.9" y1="123.9" x2="401.5" y2="123.9" stroke="#555" stroke-width="0.7"/>
<line x1="405.9" y1="105.0" x2="405.9" y2="96.8" stroke="#555" stroke-width="0.7"/>
<line x1="404.6" y1="96.8" x2="407.2" y2="96.8" stroke="#555" stroke-width="0.7"/>
<line x1="411.5" y1="89.6" x2="411.5" y2="80.3" stroke="#555" stroke-width="0.7"/>
<line x1="410.2" y1="80.3" x2="412.8" y2="80.3" stroke="#555" stroke-width="0.7"/>
<line x1="417.1" y1="85.8" x2="417.1" y2="75.4" stroke="#555" stroke-width="0.7"/>
<line x1="415.8" y1="75.4" x2="418.4" y2="75.4" stroke="#555" stroke-width="0.7"/>
<line x1="422.8" y1="77.9" x2="422.8" y2="67.6" stroke="#555" stroke-width="0.7"/>
<line x1="421.5" y1="67.6" x2="424.1" y2="67.6" stroke="#555" stroke-width="0.7"/>
<line x1="428.4" y1="72.4" x2="428.4" y2="62.1" stroke="#555" stroke-width="0.7"/>
<line x1="427.1" y1="62.1" x2="429.8" y2="62.1" stroke="#555" stroke-width="0.7"/>
<line x1="434.1" y1="75.4" x2="434.1" y2="65.2" stroke="#555" stroke-width="0.7"/>
<line x1="432.8" y1="65.2" x2="435.4" y2="65.2" stroke="#555" stroke-width="0.7"/>
<line x1="439.8" y1="69.8" x2="439.8" y2="58.9" stroke="#555" stroke-width="0.7"/>
<line x1="438.4" y1="58.9" x2="441.1" y2="58.9" stroke="#555" stroke-width="0.7"/>
<line x1="445.4" y1="76.5" x2="445.4" y2="65.2" stroke="#555" stroke-width="0.7"/>
<line x1="444.1" y1="65.2" x2="446.7" y2="65.2" stroke="#555" stroke-width="0.7"/>
<line x1="451.1" y1="73.6" x2="451.1" y2="61.8" stroke="#555" stroke-width="0.7"/>
<line x1="449.8" y1="61.8" x2="452.4" y2="61.8" stroke="#555" stroke-width="0.7"/>
<line x1="456.7" y1="68.4" x2="456.7" y2="56.7" stroke="#555" stroke-width="0.7"/>
<line x1="455.4" y1="56.7" x2="458.0" y2="56.7" stroke="#555" stroke-width="0.7"/>
<line x1="462.4" y1="70.1" x2="462.4" y2="57.7" stroke="#555" stroke-width="0.7"/>
<line x1="461.1" y1="57.7" x2="463.7" y2="57.7" stroke="#555" stroke-width="0.7"/>
<line x1="468.0" y1="68.4" x2="468.0" y2="57.7" stroke="#555" stroke-width="0.7"/>
<line x1="466.7" y1="57.7" x2="469.3" y2="57.7" stroke="#555" stroke-width="0.7"/>
<line x1="473.6" y1="64.1" x2="473.6" y2="53.1" stroke="#555" stroke-width="0.7"/>
<line x1="472.3" y1="53.1" x2="474.9" y2="53.1" stroke="#555" stroke-width="0.7"/>
<line x1="479.3" y1="62.4" x2="479.3" y2="50.6" stroke="#555" stroke-width="0.7"/>
<line x1="478.0" y1="50.6" x2="480.6" y2="50.6" stroke="#555" stroke-width="0.7"/>
<line x1="484.9" y1="64.1" x2="484.9" y2="52.4" stroke="#555" stroke-width="0.7"/>
<line x1="483.6" y1="52.4" x2="486.2" y2="52.4" stroke="#555" stroke-width="0.7"/>
<line x1="490.6" y1="64.1" x2="490.6" y2="52.4" stroke="#555" stroke-width="0.7"/>
<line x1="489.3" y1="52.4" x2="491.9" y2="52.4" stroke="#555" stroke-width="0.7"/>
<line x1="496.2" y1="64.1" x2="496.2" y2="52.4" stroke="#555" stroke-width="0.7"/>
<line x1="494.9" y1="52.4" x2="497.6" y2="52.4" stroke="#555" stroke-width="0.7"/>
<line x1="501.9" y1="64.1" x2="501.9" y2="50.7" stroke="#555" stroke-width="0.7"/>
<line x1="500.6" y1="50.7" x2="503.2" y2="50.7" stroke="#555" stroke-width="0.7"/>
<line x1="507.5" y1="60.2" x2="507.5" y2="45.3" stroke="#555" stroke-width="0.7"/>
<line x1="506.2" y1="45.3" x2="508.8" y2="45.3" stroke="#555" stroke-width="0.7"/>
<line x1="513.2" y1="58.8" x2="513.2" y2="41.3" stroke="#555" stroke-width="0.7"/>
<line x1="511.9" y1="41.3" x2="514.5" y2="41.3" stroke="#555" stroke-width="0.7"/>
<polyline points="298.5,42.5 304.2,43.5 309.8,44.5 315.4,48.2 321.1,58.6 326.8,72.1 332.4,82.0 338.1,90.9 343.7,106.7 349.4,122.0 355.0,127.0 360.6,128.0 366.3,128.0 371.9,128.0 377.6,128.0 383.2,128.0 388.9,128.0 394.6,128.0 400.2,127.0 405.9,105.0 411.5,89.6 417.1,85.8 422.8,77.9 428.4,72.4 434.1,75.4 439.8,69.8 445.4,76.5 451.1,73.6 456.7,68.4 462.4,70.1 468.0,68.4 473.6,64.1 479.3,62.4 484.9,64.1 490.6,64.1 496.2,64.1 501.9,64.1 507.5,60.2 513.2,58.8" fill="none" stroke="#111" stroke-width="0.7"/>
<circle cx="298.5" cy="42.5" r="1.8" fill="#111"/>
<circle cx="304.2" cy="43.5" r="1.8" fill="#111"/>
<circle cx="309.8" cy="44.5" r="1.8" fill="#111"/>
<circle cx="315.4" cy="48.2" r="1.8" fill="#111"/>
<circle cx="321.1" cy="58.6" r="1.8" fill="#111"/>
<circle cx="326.8" cy="72.1" r="1.8" fill="#111"/>
<circle cx="332.4" cy="82.0" r="1.8" fill="#111"/>
<circle cx="338.1" cy="90.9" r="1.8" fill="#111"/>
<circle cx="343.7" cy="106.7" r="1.8" fill="#111"/>
<circle cx="349.4" cy="122.0" r="1.8" fill="#111"/>
<circle cx="355.0" cy="127.0" r="1.8" fill="#111"/>
<circle cx="360.6" cy="128.0" r="1.8" fill="#111"/>
<circle cx="366.3" cy="128.0" r="1.8" fill="#111"/>
<circle cx="371.9" cy="128.0" r="1.8" fill="#111"/>
<circle cx="377.6" cy="128.0" r="1.8" fill="#111"/>
<circle cx="383.2" cy="128.0" r="1.8" fill="#111"/>
<circle cx="388.9" cy="128.0" r="1.8" fill="#111"/>
<circle cx="394.6" cy="128.0" r="1.8" fill="#111"/>
<circle cx="400.2" cy="127.0" r="1.8" fill="#111"/>
<circle cx="405.9" cy="105.0" r="1.8" fill="#111"/>
<circle cx="411.5" cy="89.6" r="1.8" fill="#111"/>
<circle cx="417.1" cy="85.8" r="1.8" fill="#111"/>
<circle cx="422.8" cy="77.9" r="1.8" fill="#111"/>
<circle cx="428.4" cy="72.4" r="1.8" fill="#111"/>
<circle cx="434.1" cy="75.4" r="1.8" fill="#111"/>
<circle cx="439.8" cy="69.8" r="1.8" fill="#111"/>
<circle cx="445.4" cy="76.5" r="1.8" fill="#111"/>
<circle cx="451.1" cy="73.6" r="1.8" fill="#111"/>
<circle cx="456.7" cy="68.4" r="1.8" fill="#111"/>
<circle cx="462.4" cy="70.1" r="1.8" fill="#111"/>
<circle cx="468.0" cy="68.4" r="1.8" fill="#111"/>
<circle cx="473.6" cy="64.1" r="1.8" fill="#111"/>
<circle cx="479.3" cy="62.4" r="1.8" fill="#111"/>
<circle cx="484.9" cy="64.1" r="1.8" fill="#111"/>
<circle cx="490.6" cy="64.1" r="1.8" fill="#111"/>
<circle cx="496.2" cy="64.1" r="1.8" fill="#111"/>
<circle cx="501.9" cy="64.1" r="1.8" fill="#111"/>
<circle cx="507.5" cy="60.2" r="1.8" fill="#111"/>
<circle cx="513.2" cy="58.8" r="1.8" fill="#111"/>
<text x="474.1" y="45.1" font-size="6.86" font-weight="normal" text-anchor="start" fill="#111" textLength="44.1" lengthAdjust="spacingAndGlyphs" stroke="#111" stroke-width="0.5">rtPA high dose</text>
<text x="302.8" y="108.8" font-size="6.3" font-weight="normal" text-anchor="start" fill="#111" textLength="27.7" lengthAdjust="spacingAndGlyphs" stroke="#111" stroke-width="0.5">ALX-0081</text>
<text x="303.1" y="116.9" font-size="6.75" font-weight="normal" text-anchor="start" fill="#111" textLength="28.5" lengthAdjust="spacingAndGlyphs" stroke="#111" stroke-width="0.5">(5 mg/kg)</text>
<text x="491.9" y="108.6" font-size="6.53" font-weight="bold" text-anchor="start" fill="#111" textLength="22.5" lengthAdjust="spacingAndGlyphs" stroke="#111" stroke-width="0.5">Vehicle</text>
<text x="334.1" y="156.1" font-size="6.75" font-weight="normal" text-anchor="start" fill="#111" textLength="11.8" lengthAdjust="spacingAndGlyphs" stroke="#111" stroke-width="0.5">TTO</text>
<text x="397.6" y="157.4" font-size="6.75" font-weight="normal" text-anchor="start" fill="#111" textLength="22.3" lengthAdjust="spacingAndGlyphs" stroke="#111" stroke-width="0.5">DRUGS</text>
<text x="364.4" y="154.1" font-size="7.1" font-weight="normal" text-anchor="start" fill="#111" textLength="21.3" lengthAdjust="spacingAndGlyphs" stroke="#111" stroke-width="0.5">60 min</text>
<line x1="339.0" y1="143.0" x2="339.0" y2="146.6" stroke="#111" stroke-width="1.2"/>
<polygon points="339.0,140.7 337.1,144.1 340.9,144.1" fill="#111"/>
<line x1="410.0" y1="143.0" x2="410.0" y2="146.6" stroke="#111" stroke-width="1.2"/>
<polygon points="410.0,140.7 408.1,144.1 411.9,144.1" fill="#111"/>
<line x1="344.0" y1="144.7" x2="404.0" y2="144.7" stroke="#111" stroke-width="1.3" stroke-dasharray="2.6,1.6"/>
<polygon points="341,144.7 344.8,142.6 344.8,146.8" fill="#111"/>
<polygon points="407.2,144.7 403.4,142.6 403.4,146.8" fill="#111"/>
<text x="-0.8" y="171.9" font-size="12.5" font-weight="bold" text-anchor="start" fill="#111" stroke="#111" stroke-width="0.3">C</text>
<text transform="translate(10.6,241.6) rotate(-90)" x="0" y="0" font-size="10.4" font-weight="bold" text-anchor="middle" fill="#111" stroke="#111" stroke-width="0.2" textLength="129.6" lengthAdjust="spacingAndGlyphs">Cerebral Blood Flow (TPU)</text>
<line x1="28.5" y1="177.7" x2="28.5" y2="302.0" stroke="#222" stroke-width="1"/>
<line x1="25.9" y1="178.2" x2="28.5" y2="178.2" stroke="#222" stroke-width="1"/>
<text x="25.5" y="180.5" font-size="7" font-weight="normal" text-anchor="end" fill="#222" stroke="#222" stroke-width="0.4">100</text>
<line x1="25.9" y1="198.2" x2="28.5" y2="198.2" stroke="#222" stroke-width="1"/>
<text x="25.5" y="200.5" font-size="7" font-weight="normal" text-anchor="end" fill="#222" stroke="#222" stroke-width="0.4">80</text>
<line x1="25.9" y1="218.5" x2="28.5" y2="218.5" stroke="#222" stroke-width="1"/>
<text x="25.5" y="220.8" font-size="7" font-weight="normal" text-anchor="end" fill="#222" stroke="#222" stroke-width="0.4">60</text>
<line x1="25.9" y1="240.2" x2="28.5" y2="240.2" stroke="#222" stroke-width="1"/>
<text x="25.5" y="242.5" font-size="7" font-weight="normal" text-anchor="end" fill="#222" stroke="#222" stroke-width="0.4">40</text>
<line x1="25.9" y1="261.2" x2="28.5" y2="261.2" stroke="#222" stroke-width="1"/>
<text x="25.5" y="263.5" font-size="7" font-weight="normal" text-anchor="end" fill="#222" stroke="#222" stroke-width="0.4">20</text>
<line x1="25.9" y1="281.2" x2="28.5" y2="281.2" stroke="#222" stroke-width="1"/>
<text x="25.5" y="283.5" font-size="7" font-weight="normal" text-anchor="end" fill="#222" stroke="#222" stroke-width="0.4">0</text>
<line x1="25.9" y1="302.4" x2="28.5" y2="302.4" stroke="#222" stroke-width="1"/>
<text x="25.5" y="304.7" font-size="7" font-weight="normal" text-anchor="end" fill="#222" stroke="#222" stroke-width="0.4">-20</text>
<line x1="28.5" y1="287.5" x2="250.0" y2="287.5" stroke="#a8a8a8" stroke-width="1"/>
<text x="35.2" y="297.4" font-size="7" font-weight="normal" text-anchor="middle" fill="#222" stroke="#222" stroke-width="0.4">-5</text>
<text x="41.8" y="297.4" font-size="7" font-weight="normal" text-anchor="middle" fill="#222" stroke="#222" stroke-width="0.4">0</text>
<text x="68.8" y="297.4" font-size="7" font-weight="normal" text-anchor="middle" fill="#222" stroke="#222" stroke-width="0.4">30</text>
<text x="103.8" y="297.4" font-size="7" font-weight="normal" text-anchor="middle" fill="#222" stroke="#222" stroke-width="0.4">60</text>
<text x="137.5" y="297.4" font-size="7" font-weight="normal" text-anchor="middle" fill="#222" stroke="#222" stroke-width="0.4">90</text>
<text x="170.0" y="297.4" font-size="7" font-weight="normal" text-anchor="middle" fill="#222" stroke="#222" stroke-width="0.4">120</text>
<text x="207.3" y="297.4" font-size="7" font-weight="normal" text-anchor="middle" fill="#222" stroke="#222" stroke-width="0.4">150</text>
<text x="239.0" y="297.4" font-size="7" font-weight="normal" text-anchor="middle" fill="#222" stroke="#222" stroke-width="0.4">180</text>
<text x="186.1" y="307.4" font-size="7.66" font-weight="bold" text-anchor="start" fill="#111" textLength="38.6" lengthAdjust="spacingAndGlyphs" stroke="#111" stroke-width="0.3">Time (min)</text>
<line x1="34.5" y1="217.9" x2="34.5" y2="213.8" stroke="#9a9a9a" stroke-width="0.7"/>
<line x1="33.2" y1="213.8" x2="35.8" y2="213.8" stroke="#9a9a9a" stroke-width="0.7"/>
<line x1="40.2" y1="219.5" x2="40.2" y2="215.4" stroke="#9a9a9a" stroke-width="0.7"/>
<line x1="38.9" y1="215.4" x2="41.5" y2="215.4" stroke="#9a9a9a" stroke-width="0.7"/>
<line x1="46.0" y1="224.6" x2="46.0" y2="220.5" stroke="#9a9a9a" stroke-width="0.7"/>
<line x1="44.7" y1="220.5" x2="47.2" y2="220.5" stroke="#9a9a9a" stroke-width="0.7"/>
<line x1="51.7" y1="234.8" x2="51.7" y2="228.7" stroke="#9a9a9a" stroke-width="0.7"/>
<line x1="50.4" y1="228.7" x2="53.0" y2="228.7" stroke="#9a9a9a" stroke-width="0.7"/>
<line x1="57.5" y1="248.1" x2="57.5" y2="239.9" stroke="#9a9a9a" stroke-width="0.7"/>
<line x1="56.2" y1="239.9" x2="58.8" y2="239.9" stroke="#9a9a9a" stroke-width="0.7"/>
<line x1="63.2" y1="257.6" x2="63.2" y2="249.5" stroke="#9a9a9a" stroke-width="0.7"/>
<line x1="61.9" y1="249.5" x2="64.5" y2="249.5" stroke="#9a9a9a" stroke-width="0.7"/>
<line x1="69.0" y1="277.6" x2="69.0" y2="267.4" stroke="#9a9a9a" stroke-width="0.7"/>
<line x1="67.7" y1="267.4" x2="70.2" y2="267.4" stroke="#9a9a9a" stroke-width="0.7"/>
<line x1="74.7" y1="276.0" x2="74.7" y2="269.9" stroke="#9a9a9a" stroke-width="0.7"/>
<line x1="73.4" y1="269.9" x2="76.0" y2="269.9" stroke="#9a9a9a" stroke-width="0.7"/>
<line x1="80.5" y1="277.6" x2="80.5" y2="271.5" stroke="#9a9a9a" stroke-width="0.7"/>
<line x1="79.2" y1="271.5" x2="81.8" y2="271.5" stroke="#9a9a9a" stroke-width="0.7"/>
<line x1="86.2" y1="277.6" x2="86.2" y2="271.5" stroke="#9a9a9a" stroke-width="0.7"/>
<line x1="84.9" y1="271.5" x2="87.5" y2="271.5" stroke="#9a9a9a" stroke-width="0.7"/>
<line x1="91.9" y1="277.6" x2="91.9" y2="271.5" stroke="#9a9a9a" stroke-width="0.7"/>
<line x1="90.6" y1="271.5" x2="93.2" y2="271.5" stroke="#9a9a9a" stroke-width="0.7"/>
<line x1="97.7" y1="277.6" x2="97.7" y2="271.5" stroke="#9a9a9a" stroke-width="0.7"/>
<line x1="96.4" y1="271.5" x2="99.0" y2="271.5" stroke="#9a9a9a" stroke-width="0.7"/>
<line x1="103.4" y1="277.6" x2="103.4" y2="271.5" stroke="#9a9a9a" stroke-width="0.7"/>
<line x1="102.1" y1="271.5" x2="104.7" y2="271.5" stroke="#9a9a9a" stroke-width="0.7"/>
<line x1="109.2" y1="277.6" x2="109.2" y2="271.5" stroke="#9a9a9a" stroke-width="0.7"/>
<line x1="107.9" y1="271.5" x2="110.5" y2="271.5" stroke="#9a9a9a" stroke-width="0.7"/>
<line x1="115.0" y1="277.6" x2="115.0" y2="271.5" stroke="#9a9a9a" stroke-width="0.7"/>
<line x1="113.7" y1="271.5" x2="116.2" y2="271.5" stroke="#9a9a9a" stroke-width="0.7"/>
<line x1="120.7" y1="277.6" x2="120.7" y2="271.5" stroke="#9a9a9a" stroke-width="0.7"/>
<line x1="119.4" y1="271.5" x2="122.0" y2="271.5" stroke="#9a9a9a" stroke-width="0.7"/>
<line x1="126.5" y1="277.6" x2="126.5" y2="271.5" stroke="#9a9a9a" stroke-width="0.7"/>
<line x1="125.2" y1="271.5" x2="127.8" y2="271.5" stroke="#9a9a9a" stroke-width="0.7"/>
<line x1="132.2" y1="277.6" x2="132.2" y2="265.4" stroke="#9a9a9a" stroke-width="0.7"/>
<line x1="130.9" y1="265.4" x2="133.5" y2="265.4" stroke="#9a9a9a" stroke-width="0.7"/>
<line x1="137.9" y1="273.6" x2="137.9" y2="259.3" stroke="#9a9a9a" stroke-width="0.7"/>
<line x1="136.6" y1="259.3" x2="139.2" y2="259.3" stroke="#9a9a9a" stroke-width="0.7"/>
<line x1="143.7" y1="260.3" x2="143.7" y2="244.0" stroke="#9a9a9a" stroke-width="0.7"/>
<line x1="142.4" y1="244.0" x2="145.0" y2="244.0" stroke="#9a9a9a" stroke-width="0.7"/>
<line x1="149.4" y1="267.4" x2="149.4" y2="256.2" stroke="#9a9a9a" stroke-width="0.7"/>
<line x1="148.1" y1="256.2" x2="150.8" y2="256.2" stroke="#9a9a9a" stroke-width="0.7"/>
<line x1="155.2" y1="267.9" x2="155.2" y2="256.7" stroke="#9a9a9a" stroke-width="0.7"/>
<line x1="153.9" y1="256.7" x2="156.5" y2="256.7" stroke="#9a9a9a" stroke-width="0.7"/>
<line x1="160.9" y1="267.9" x2="160.9" y2="256.7" stroke="#9a9a9a" stroke-width="0.7"/>
<line x1="159.6" y1="256.7" x2="162.2" y2="256.7" stroke="#9a9a9a" stroke-width="0.7"/>
<line x1="166.7" y1="267.9" x2="166.7" y2="256.7" stroke="#9a9a9a" stroke-width="0.7"/>
<line x1="165.4" y1="256.7" x2="168.0" y2="256.7" stroke="#9a9a9a" stroke-width="0.7"/>
<line x1="172.4" y1="267.9" x2="172.4" y2="256.7" stroke="#9a9a9a" stroke-width="0.7"/>
<line x1="171.1" y1="256.7" x2="173.8" y2="256.7" stroke="#9a9a9a" stroke-width="0.7"/>
<line x1="178.2" y1="267.9" x2="178.2" y2="256.7" stroke="#9a9a9a" stroke-width="0.7"/>
<line x1="176.9" y1="256.7" x2="179.5" y2="256.7" stroke="#9a9a9a" stroke-width="0.7"/>
<line x1="183.9" y1="267.9" x2="183.9" y2="256.7" stroke="#9a9a9a" stroke-width="0.7"/>
<line x1="182.6" y1="256.7" x2="185.2" y2="256.7" stroke="#9a9a9a" stroke-width="0.7"/>
<line x1="189.7" y1="267.4" x2="189.7" y2="256.2" stroke="#9a9a9a" stroke-width="0.7"/>
<line x1="188.4" y1="256.2" x2="191.0" y2="256.2" stroke="#9a9a9a" stroke-width="0.7"/>
<line x1="195.4" y1="264.6" x2="195.4" y2="253.4" stroke="#9a9a9a" stroke-width="0.7"/>
<line x1="194.1" y1="253.4" x2="196.8" y2="253.4" stroke="#9a9a9a" stroke-width="0.7"/>
<line x1="201.2" y1="264.9" x2="201.2" y2="253.7" stroke="#9a9a9a" stroke-width="0.7"/>
<line x1="199.9" y1="253.7" x2="202.5" y2="253.7" stroke="#9a9a9a" stroke-width="0.7"/>
<line x1="206.9" y1="265.4" x2="206.9" y2="254.2" stroke="#9a9a9a" stroke-width="0.7"/>
<line x1="205.6" y1="254.2" x2="208.2" y2="254.2" stroke="#9a9a9a" stroke-width="0.7"/>
<line x1="212.7" y1="266.4" x2="212.7" y2="255.2" stroke="#9a9a9a" stroke-width="0.7"/>
<line x1="211.4" y1="255.2" x2="214.0" y2="255.2" stroke="#9a9a9a" stroke-width="0.7"/>
<line x1="218.4" y1="267.4" x2="218.4" y2="256.2" stroke="#9a9a9a" stroke-width="0.7"/>
<line x1="217.1" y1="256.2" x2="219.8" y2="256.2" stroke="#9a9a9a" stroke-width="0.7"/>
<line x1="224.2" y1="267.4" x2="224.2" y2="256.2" stroke="#9a9a9a" stroke-width="0.7"/>
<line x1="222.9" y1="256.2" x2="225.5" y2="256.2" stroke="#9a9a9a" stroke-width="0.7"/>
<line x1="229.9" y1="267.4" x2="229.9" y2="256.2" stroke="#9a9a9a" stroke-width="0.7"/>
<line x1="228.6" y1="256.2" x2="231.2" y2="256.2" stroke="#9a9a9a" stroke-width="0.7"/>
<line x1="235.7" y1="267.4" x2="235.7" y2="256.2" stroke="#9a9a9a" stroke-width="0.7"/>
<line x1="234.4" y1="256.2" x2="237.0" y2="256.2" stroke="#9a9a9a" stroke-width="0.7"/>
<line x1="241.4" y1="267.4" x2="241.4" y2="256.2" stroke="#9a9a9a" stroke-width="0.7"/>
<line x1="240.1" y1="256.2" x2="242.8" y2="256.2" stroke="#9a9a9a" stroke-width="0.7"/>
<line x1="247.2" y1="267.4" x2="247.2" y2="256.2" stroke="#9a9a9a" stroke-width="0.7"/>
<line x1="245.9" y1="256.2" x2="248.5" y2="256.2" stroke="#9a9a9a" stroke-width="0.7"/>
<polyline points="28.7,218.5 34.5,217.9 40.2,219.5 46.0,224.6 51.7,234.8 57.5,248.1 63.2,257.6 69.0,277.6 74.7,276.0 80.5,277.6 86.2,277.6 91.9,277.6 97.7,277.6 103.4,277.6 109.2,277.6 115.0,277.6 120.7,277.6 126.5,277.6 132.2,277.6 137.9,273.6 143.7,260.3 149.4,267.4 155.2,267.9 160.9,267.9 166.7,267.9 172.4,267.9 178.2,267.9 183.9,267.9 189.7,267.4 195.4,264.6 201.2,264.9 206.9,265.4 212.7,266.4 218.4,267.4 224.2,267.4 229.9,267.4 235.7,267.4 241.4,267.4 247.2,267.4" fill="none" stroke="#8a8a8a" stroke-width="0.7"/>
<circle cx="28.7" cy="218.5" r="1.3" fill="#fff" stroke="#8a8a8a" stroke-width="0.8"/>
<circle cx="34.5" cy="217.9" r="1.3" fill="#fff" stroke="#8a8a8a" stroke-width="0.8"/>
<circle cx="40.2" cy="219.5" r="1.3" fill="#fff" stroke="#8a8a8a" stroke-width="0.8"/>
<circle cx="46.0" cy="224.6" r="1.3" fill="#fff" stroke="#8a8a8a" stroke-width="0.8"/>
<circle cx="51.7" cy="234.8" r="1.3" fill="#fff" stroke="#8a8a8a" stroke-width="0.8"/>
<circle cx="57.5" cy="248.1" r="1.3" fill="#fff" stroke="#8a8a8a" stroke-width="0.8"/>
<circle cx="63.2" cy="257.6" r="1.3" fill="#fff" stroke="#8a8a8a" stroke-width="0.8"/>
<circle cx="69.0" cy="277.6" r="1.3" fill="#fff" stroke="#8a8a8a" stroke-width="0.8"/>
<circle cx="74.7" cy="276.0" r="1.3" fill="#fff" stroke="#8a8a8a" stroke-width="0.8"/>
<circle cx="80.5" cy="277.6" r="1.3" fill="#fff" stroke="#8a8a8a" stroke-width="0.8"/>
<circle cx="86.2" cy="277.6" r="1.3" fill="#fff" stroke="#8a8a8a" stroke-width="0.8"/>
<circle cx="91.9" cy="277.6" r="1.3" fill="#fff" stroke="#8a8a8a" stroke-width="0.8"/>
<circle cx="97.7" cy="277.6" r="1.3" fill="#fff" stroke="#8a8a8a" stroke-width="0.8"/>
<circle cx="103.4" cy="277.6" r="1.3" fill="#fff" stroke="#8a8a8a" stroke-width="0.8"/>
<circle cx="109.2" cy="277.6" r="1.3" fill="#fff" stroke="#8a8a8a" stroke-width="0.8"/>
<circle cx="115.0" cy="277.6" r="1.3" fill="#fff" stroke="#8a8a8a" stroke-width="0.8"/>
<circle cx="120.7" cy="277.6" r="1.3" fill="#fff" stroke="#8a8a8a" stroke-width="0.8"/>
<circle cx="126.5" cy="277.6" r="1.3" fill="#fff" stroke="#8a8a8a" stroke-width="0.8"/>
<circle cx="132.2" cy="277.6" r="1.3" fill="#fff" stroke="#8a8a8a" stroke-width="0.8"/>
<circle cx="137.9" cy="273.6" r="1.3" fill="#fff" stroke="#8a8a8a" stroke-width="0.8"/>
<circle cx="143.7" cy="260.3" r="1.3" fill="#fff" stroke="#8a8a8a" stroke-width="0.8"/>
<circle cx="149.4" cy="267.4" r="1.3" fill="#fff" stroke="#8a8a8a" stroke-width="0.8"/>
<circle cx="155.2" cy="267.9" r="1.3" fill="#fff" stroke="#8a8a8a" stroke-width="0.8"/>
<circle cx="160.9" cy="267.9" r="1.3" fill="#fff" stroke="#8a8a8a" stroke-width="0.8"/>
<circle cx="166.7" cy="267.9" r="1.3" fill="#fff" stroke="#8a8a8a" stroke-width="0.8"/>
<circle cx="172.4" cy="267.9" r="1.3" fill="#fff" stroke="#8a8a8a" stroke-width="0.8"/>
<circle cx="178.2" cy="267.9" r="1.3" fill="#fff" stroke="#8a8a8a" stroke-width="0.8"/>
<circle cx="183.9" cy="267.9" r="1.3" fill="#fff" stroke="#8a8a8a" stroke-width="0.8"/>
<circle cx="189.7" cy="267.4" r="1.3" fill="#fff" stroke="#8a8a8a" stroke-width="0.8"/>
<circle cx="195.4" cy="264.6" r="1.3" fill="#fff" stroke="#8a8a8a" stroke-width="0.8"/>
<circle cx="201.2" cy="264.9" r="1.3" fill="#fff" stroke="#8a8a8a" stroke-width="0.8"/>
<circle cx="206.9" cy="265.4" r="1.3" fill="#fff" stroke="#8a8a8a" stroke-width="0.8"/>
<circle cx="212.7" cy="266.4" r="1.3" fill="#fff" stroke="#8a8a8a" stroke-width="0.8"/>
<circle cx="218.4" cy="267.4" r="1.3" fill="#fff" stroke="#8a8a8a" stroke-width="0.8"/>
<circle cx="224.2" cy="267.4" r="1.3" fill="#fff" stroke="#8a8a8a" stroke-width="0.8"/>
<circle cx="229.9" cy="267.4" r="1.3" fill="#fff" stroke="#8a8a8a" stroke-width="0.8"/>
<circle cx="235.7" cy="267.4" r="1.3" fill="#fff" stroke="#8a8a8a" stroke-width="0.8"/>
<circle cx="241.4" cy="267.4" r="1.3" fill="#fff" stroke="#8a8a8a" stroke-width="0.8"/>
<circle cx="247.2" cy="267.4" r="1.3" fill="#fff" stroke="#8a8a8a" stroke-width="0.8"/>
<line x1="34.5" y1="208.5" x2="34.5" y2="204.4" stroke="#222" stroke-width="0.7"/>
<line x1="33.2" y1="204.4" x2="35.8" y2="204.4" stroke="#222" stroke-width="0.7"/>
<line x1="40.2" y1="230.4" x2="40.2" y2="226.3" stroke="#222" stroke-width="0.7"/>
<line x1="38.9" y1="226.3" x2="41.5" y2="226.3" stroke="#222" stroke-width="0.7"/>
<line x1="46.0" y1="250.4" x2="46.0" y2="244.3" stroke="#222" stroke-width="0.7"/>
<line x1="44.7" y1="244.3" x2="47.2" y2="244.3" stroke="#222" stroke-width="0.7"/>
<line x1="51.7" y1="266.0" x2="51.7" y2="257.9" stroke="#222" stroke-width="0.7"/>
<line x1="50.4" y1="257.9" x2="53.0" y2="257.9" stroke="#222" stroke-width="0.7"/>
<line x1="57.5" y1="278.0" x2="57.5" y2="269.9" stroke="#222" stroke-width="0.7"/>
<line x1="56.2" y1="269.9" x2="58.8" y2="269.9" stroke="#222" stroke-width="0.7"/>
<line x1="63.2" y1="281.4" x2="63.2" y2="277.3" stroke="#222" stroke-width="0.7"/>
<line x1="61.9" y1="277.3" x2="64.5" y2="277.3" stroke="#222" stroke-width="0.7"/>
<line x1="69.0" y1="281.7" x2="69.0" y2="278.7" stroke="#222" stroke-width="0.7"/>
<line x1="67.7" y1="278.7" x2="70.2" y2="278.7" stroke="#222" stroke-width="0.7"/>
<line x1="74.7" y1="282.7" x2="74.7" y2="279.7" stroke="#222" stroke-width="0.7"/>
<line x1="73.4" y1="279.7" x2="76.0" y2="279.7" stroke="#222" stroke-width="0.7"/>
<line x1="80.5" y1="283.8" x2="80.5" y2="280.7" stroke="#222" stroke-width="0.7"/>
<line x1="79.2" y1="280.7" x2="81.8" y2="280.7" stroke="#222" stroke-width="0.7"/>
<line x1="86.2" y1="283.8" x2="86.2" y2="280.7" stroke="#222" stroke-width="0.7"/>
<line x1="84.9" y1="280.7" x2="87.5" y2="280.7" stroke="#222" stroke-width="0.7"/>
<line x1="91.9" y1="283.8" x2="91.9" y2="280.7" stroke="#222" stroke-width="0.7"/>
<line x1="90.6" y1="280.7" x2="93.2" y2="280.7" stroke="#222" stroke-width="0.7"/>
<line x1="97.7" y1="283.8" x2="97.7" y2="280.7" stroke="#222" stroke-width="0.7"/>
<line x1="96.4" y1="280.7" x2="99.0" y2="280.7" stroke="#222" stroke-width="0.7"/>
<line x1="103.4" y1="284.8" x2="103.4" y2="281.7" stroke="#222" stroke-width="0.7"/>
<line x1="102.1" y1="281.7" x2="104.7" y2="281.7" stroke="#222" stroke-width="0.7"/>
<line x1="109.2" y1="284.8" x2="109.2" y2="281.7" stroke="#222" stroke-width="0.7"/>
<line x1="107.9" y1="281.7" x2="110.5" y2="281.7" stroke="#222" stroke-width="0.7"/>
<line x1="115.0" y1="284.8" x2="115.0" y2="281.7" stroke="#222" stroke-width="0.7"/>
<line x1="113.7" y1="281.7" x2="116.2" y2="281.7" stroke="#222" stroke-width="0.7"/>
<line x1="120.7" y1="284.8" x2="120.7" y2="281.7" stroke="#222" stroke-width="0.7"/>
<line x1="119.4" y1="281.7" x2="122.0" y2="281.7" stroke="#222" stroke-width="0.7"/>
<line x1="126.5" y1="284.8" x2="126.5" y2="281.7" stroke="#222" stroke-width="0.7"/>
<line x1="125.2" y1="281.7" x2="127.8" y2="281.7" stroke="#222" stroke-width="0.7"/>
<line x1="132.2" y1="284.8" x2="132.2" y2="281.7" stroke="#222" stroke-width="0.7"/>
<line x1="130.9" y1="281.7" x2="133.5" y2="281.7" stroke="#222" stroke-width="0.7"/>
<line x1="137.9" y1="284.8" x2="137.9" y2="281.7" stroke="#222" stroke-width="0.7"/>
<line x1="136.6" y1="281.7" x2="139.2" y2="281.7" stroke="#222" stroke-width="0.7"/>
<line x1="143.7" y1="284.8" x2="143.7" y2="281.7" stroke="#222" stroke-width="0.7"/>
<line x1="142.4" y1="281.7" x2="145.0" y2="281.7" stroke="#222" stroke-width="0.7"/>
<line x1="149.4" y1="282.7" x2="149.4" y2="279.7" stroke="#222" stroke-width="0.7"/>
<line x1="148.1" y1="279.7" x2="150.8" y2="279.7" stroke="#222" stroke-width="0.7"/>
<line x1="155.2" y1="282.7" x2="155.2" y2="279.7" stroke="#222" stroke-width="0.7"/>
<line x1="153.9" y1="279.7" x2="156.5" y2="279.7" stroke="#222" stroke-width="0.7"/>
<line x1="160.9" y1="282.7" x2="160.9" y2="279.7" stroke="#222" stroke-width="0.7"/>
<line x1="159.6" y1="279.7" x2="162.2" y2="279.7" stroke="#222" stroke-width="0.7"/>
<line x1="166.7" y1="282.7" x2="166.7" y2="279.7" stroke="#222" stroke-width="0.7"/>
<line x1="165.4" y1="279.7" x2="168.0" y2="279.7" stroke="#222" stroke-width="0.7"/>
<line x1="172.4" y1="282.7" x2="172.4" y2="279.7" stroke="#222" stroke-width="0.7"/>
<line x1="171.1" y1="279.7" x2="173.8" y2="279.7" stroke="#222" stroke-width="0.7"/>
<line x1="178.2" y1="282.7" x2="178.2" y2="279.7" stroke="#222" stroke-width="0.7"/>
<line x1="176.9" y1="279.7" x2="179.5" y2="279.7" stroke="#222" stroke-width="0.7"/>
<line x1="183.9" y1="282.7" x2="183.9" y2="279.7" stroke="#222" stroke-width="0.7"/>
<line x1="182.6" y1="279.7" x2="185.2" y2="279.7" stroke="#222" stroke-width="0.7"/>
<line x1="189.7" y1="282.7" x2="189.7" y2="279.7" stroke="#222" stroke-width="0.7"/>
<line x1="188.4" y1="279.7" x2="191.0" y2="279.7" stroke="#222" stroke-width="0.7"/>
<line x1="195.4" y1="284.8" x2="195.4" y2="281.7" stroke="#222" stroke-width="0.7"/>
<line x1="194.1" y1="281.7" x2="196.8" y2="281.7" stroke="#222" stroke-width="0.7"/>
<line x1="201.2" y1="284.8" x2="201.2" y2="281.7" stroke="#222" stroke-width="0.7"/>
<line x1="199.9" y1="281.7" x2="202.5" y2="281.7" stroke="#222" stroke-width="0.7"/>
<line x1="206.9" y1="284.8" x2="206.9" y2="281.7" stroke="#222" stroke-width="0.7"/>
<line x1="205.6" y1="281.7" x2="208.2" y2="281.7" stroke="#222" stroke-width="0.7"/>
<line x1="212.7" y1="284.8" x2="212.7" y2="281.7" stroke="#222" stroke-width="0.7"/>
<line x1="211.4" y1="281.7" x2="214.0" y2="281.7" stroke="#222" stroke-width="0.7"/>
<line x1="218.4" y1="284.8" x2="218.4" y2="281.7" stroke="#222" stroke-width="0.7"/>
<line x1="217.1" y1="281.7" x2="219.8" y2="281.7" stroke="#222" stroke-width="0.7"/>
<line x1="224.2" y1="284.8" x2="224.2" y2="281.7" stroke="#222" stroke-width="0.7"/>
<line x1="222.9" y1="281.7" x2="225.5" y2="281.7" stroke="#222" stroke-width="0.7"/>
<line x1="229.9" y1="282.7" x2="229.9" y2="279.7" stroke="#222" stroke-width="0.7"/>
<line x1="228.6" y1="279.7" x2="231.2" y2="279.7" stroke="#222" stroke-width="0.7"/>
<line x1="235.7" y1="282.7" x2="235.7" y2="279.7" stroke="#222" stroke-width="0.7"/>
<line x1="234.4" y1="279.7" x2="237.0" y2="279.7" stroke="#222" stroke-width="0.7"/>
<line x1="241.4" y1="282.7" x2="241.4" y2="279.7" stroke="#222" stroke-width="0.7"/>
<line x1="240.1" y1="279.7" x2="242.8" y2="279.7" stroke="#222" stroke-width="0.7"/>
<line x1="247.2" y1="282.7" x2="247.2" y2="279.7" stroke="#222" stroke-width="0.7"/>
<line x1="245.9" y1="279.7" x2="248.5" y2="279.7" stroke="#222" stroke-width="0.7"/>
<polyline points="28.7,205.8 34.5,208.5 40.2,230.4 46.0,250.4 51.7,266.0 57.5,278.0 63.2,281.4 69.0,281.7 74.7,282.7 80.5,283.8 86.2,283.8 91.9,283.8 97.7,283.8 103.4,284.8 109.2,284.8 115.0,284.8 120.7,284.8 126.5,284.8 132.2,284.8 137.9,284.8 143.7,284.8 149.4,282.7 155.2,282.7 160.9,282.7 166.7,282.7 172.4,282.7 178.2,282.7 183.9,282.7 189.7,282.7 195.4,284.8 201.2,284.8 206.9,284.8 212.7,284.8 218.4,284.8 224.2,284.8 229.9,282.7 235.7,282.7 241.4,282.7 247.2,282.7" fill="none" stroke="#111" stroke-width="0.7"/>
<rect x="27.0" y="204.1" width="3.4" height="3.4" fill="#111"/>
<rect x="32.8" y="206.8" width="3.4" height="3.4" fill="#111"/>
<rect x="38.5" y="228.7" width="3.4" height="3.4" fill="#111"/>
<rect x="44.2" y="248.7" width="3.4" height="3.4" fill="#111"/>
<rect x="50.0" y="264.3" width="3.4" height="3.4" fill="#111"/>
<rect x="55.8" y="276.3" width="3.4" height="3.4" fill="#111"/>
<rect x="61.5" y="279.7" width="3.4" height="3.4" fill="#111"/>
<rect x="67.2" y="280.0" width="3.4" height="3.4" fill="#111"/>
<rect x="73.0" y="281.0" width="3.4" height="3.4" fill="#111"/>
<rect x="78.8" y="282.1" width="3.4" height="3.4" fill="#111"/>
<rect x="84.5" y="282.1" width="3.4" height="3.4" fill="#111"/>
<rect x="90.2" y="282.1" width="3.4" height="3.4" fill="#111"/>
<rect x="96.0" y="282.1" width="3.4" height="3.4" fill="#111"/>
<rect x="101.7" y="283.1" width="3.4" height="3.4" fill="#111"/>
<rect x="107.5" y="283.1" width="3.4" height="3.4" fill="#111"/>
<rect x="113.2" y="283.1" width="3.4" height="3.4" fill="#111"/>
<rect x="119.0" y="283.1" width="3.4" height="3.4" fill="#111"/>
<rect x="124.8" y="283.1" width="3.4" height="3.4" fill="#111"/>
<rect x="130.5" y="283.1" width="3.4" height="3.4" fill="#111"/>
<rect x="136.2" y="283.1" width="3.4" height="3.4" fill="#111"/>
<rect x="142.0" y="283.1" width="3.4" height="3.4" fill="#111"/>
<rect x="147.8" y="281.0" width="3.4" height="3.4" fill="#111"/>
<rect x="153.5" y="281.0" width="3.4" height="3.4" fill="#111"/>
<rect x="159.2" y="281.0" width="3.4" height="3.4" fill="#111"/>
<rect x="165.0" y="281.0" width="3.4" height="3.4" fill="#111"/>
<rect x="170.8" y="281.0" width="3.4" height="3.4" fill="#111"/>
<rect x="176.5" y="281.0" width="3.4" height="3.4" fill="#111"/>
<rect x="182.2" y="281.0" width="3.4" height="3.4" fill="#111"/>
<rect x="188.0" y="281.0" width="3.4" height="3.4" fill="#111"/>
<rect x="193.8" y="283.1" width="3.4" height="3.4" fill="#111"/>
<rect x="199.5" y="283.1" width="3.4" height="3.4" fill="#111"/>
<rect x="205.2" y="283.1" width="3.4" height="3.4" fill="#111"/>
<rect x="211.0" y="283.1" width="3.4" height="3.4" fill="#111"/>
<rect x="216.8" y="283.1" width="3.4" height="3.4" fill="#111"/>
<rect x="222.5" y="283.1" width="3.4" height="3.4" fill="#111"/>
<rect x="228.2" y="281.0" width="3.4" height="3.4" fill="#111"/>
<rect x="234.0" y="281.0" width="3.4" height="3.4" fill="#111"/>
<rect x="239.8" y="281.0" width="3.4" height="3.4" fill="#111"/>
<rect x="245.5" y="281.0" width="3.4" height="3.4" fill="#111"/>
<line x1="34.5" y1="201.4" x2="34.5" y2="197.4" stroke="#555" stroke-width="0.7"/>
<line x1="33.2" y1="197.4" x2="35.8" y2="197.4" stroke="#555" stroke-width="0.7"/>
<line x1="40.2" y1="209.3" x2="40.2" y2="205.2" stroke="#555" stroke-width="0.7"/>
<line x1="38.9" y1="205.2" x2="41.5" y2="205.2" stroke="#555" stroke-width="0.7"/>
<line x1="46.0" y1="219.5" x2="46.0" y2="215.4" stroke="#555" stroke-width="0.7"/>
<line x1="44.7" y1="215.4" x2="47.2" y2="215.4" stroke="#555" stroke-width="0.7"/>
<line x1="51.7" y1="229.7" x2="51.7" y2="224.6" stroke="#555" stroke-width="0.7"/>
<line x1="50.4" y1="224.6" x2="53.0" y2="224.6" stroke="#555" stroke-width="0.7"/>
<line x1="57.5" y1="250.1" x2="57.5" y2="245.0" stroke="#555" stroke-width="0.7"/>
<line x1="56.2" y1="245.0" x2="58.8" y2="245.0" stroke="#555" stroke-width="0.7"/>
<line x1="63.2" y1="265.4" x2="63.2" y2="260.3" stroke="#555" stroke-width="0.7"/>
<line x1="61.9" y1="260.3" x2="64.5" y2="260.3" stroke="#555" stroke-width="0.7"/>
<line x1="69.0" y1="277.6" x2="69.0" y2="272.5" stroke="#555" stroke-width="0.7"/>
<line x1="67.7" y1="272.5" x2="70.2" y2="272.5" stroke="#555" stroke-width="0.7"/>
<line x1="74.7" y1="280.7" x2="74.7" y2="276.6" stroke="#555" stroke-width="0.7"/>
<line x1="73.4" y1="276.6" x2="76.0" y2="276.6" stroke="#555" stroke-width="0.7"/>
<line x1="80.5" y1="281.5" x2="80.5" y2="277.4" stroke="#555" stroke-width="0.7"/>
<line x1="79.2" y1="277.4" x2="81.8" y2="277.4" stroke="#555" stroke-width="0.7"/>
<line x1="86.2" y1="281.5" x2="86.2" y2="277.4" stroke="#555" stroke-width="0.7"/>
<line x1="84.9" y1="277.4" x2="87.5" y2="277.4" stroke="#555" stroke-width="0.7"/>
<line x1="91.9" y1="281.5" x2="91.9" y2="277.4" stroke="#555" stroke-width="0.7"/>
<line x1="90.6" y1="277.4" x2="93.2" y2="277.4" stroke="#555" stroke-width="0.7"/>
<line x1="97.7" y1="281.5" x2="97.7" y2="277.4" stroke="#555" stroke-width="0.7"/>
<line x1="96.4" y1="277.4" x2="99.0" y2="277.4" stroke="#555" stroke-width="0.7"/>
<line x1="103.4" y1="281.5" x2="103.4" y2="277.4" stroke="#555" stroke-width="0.7"/>
<line x1="102.1" y1="277.4" x2="104.7" y2="277.4" stroke="#555" stroke-width="0.7"/>
<line x1="109.2" y1="281.5" x2="109.2" y2="277.4" stroke="#555" stroke-width="0.7"/>
<line x1="107.9" y1="277.4" x2="110.5" y2="277.4" stroke="#555" stroke-width="0.7"/>
<line x1="115.0" y1="281.5" x2="115.0" y2="277.4" stroke="#555" stroke-width="0.7"/>
<line x1="113.7" y1="277.4" x2="116.2" y2="277.4" stroke="#555" stroke-width="0.7"/>
<line x1="120.7" y1="281.5" x2="120.7" y2="277.4" stroke="#555" stroke-width="0.7"/>
<line x1="119.4" y1="277.4" x2="122.0" y2="277.4" stroke="#555" stroke-width="0.7"/>
<line x1="126.5" y1="281.5" x2="126.5" y2="277.4" stroke="#555" stroke-width="0.7"/>
<line x1="125.2" y1="277.4" x2="127.8" y2="277.4" stroke="#555" stroke-width="0.7"/>
<line x1="132.2" y1="281.5" x2="132.2" y2="277.4" stroke="#555" stroke-width="0.7"/>
<line x1="130.9" y1="277.4" x2="133.5" y2="277.4" stroke="#555" stroke-width="0.7"/>
<line x1="137.9" y1="281.5" x2="137.9" y2="277.4" stroke="#555" stroke-width="0.7"/>
<line x1="136.6" y1="277.4" x2="139.2" y2="277.4" stroke="#555" stroke-width="0.7"/>
<line x1="143.7" y1="281.5" x2="143.7" y2="277.4" stroke="#555" stroke-width="0.7"/>
<line x1="142.4" y1="277.4" x2="145.0" y2="277.4" stroke="#555" stroke-width="0.7"/>
<line x1="149.4" y1="282.7" x2="149.4" y2="278.7" stroke="#555" stroke-width="0.7"/>
<line x1="148.1" y1="278.7" x2="150.8" y2="278.7" stroke="#555" stroke-width="0.7"/>
<line x1="155.2" y1="282.7" x2="155.2" y2="278.7" stroke="#555" stroke-width="0.7"/>
<line x1="153.9" y1="278.7" x2="156.5" y2="278.7" stroke="#555" stroke-width="0.7"/>
<line x1="160.9" y1="282.7" x2="160.9" y2="278.7" stroke="#555" stroke-width="0.7"/>
<line x1="159.6" y1="278.7" x2="162.2" y2="278.7" stroke="#555" stroke-width="0.7"/>
<line x1="166.7" y1="282.7" x2="166.7" y2="278.7" stroke="#555" stroke-width="0.7"/>
<line x1="165.4" y1="278.7" x2="168.0" y2="278.7" stroke="#555" stroke-width="0.7"/>
<line x1="172.4" y1="282.7" x2="172.4" y2="278.7" stroke="#555" stroke-width="0.7"/>
<line x1="171.1" y1="278.7" x2="173.8" y2="278.7" stroke="#555" stroke-width="0.7"/>
<line x1="178.2" y1="282.7" x2="178.2" y2="278.7" stroke="#555" stroke-width="0.7"/>
<line x1="176.9" y1="278.7" x2="179.5" y2="278.7" stroke="#555" stroke-width="0.7"/>
<line x1="183.9" y1="282.7" x2="183.9" y2="278.7" stroke="#555" stroke-width="0.7"/>
<line x1="182.6" y1="278.7" x2="185.2" y2="278.7" stroke="#555" stroke-width="0.7"/>
<line x1="189.7" y1="282.7" x2="189.7" y2="278.7" stroke="#555" stroke-width="0.7"/>
<line x1="188.4" y1="278.7" x2="191.0" y2="278.7" stroke="#555" stroke-width="0.7"/>
<line x1="195.4" y1="281.5" x2="195.4" y2="277.4" stroke="#555" stroke-width="0.7"/>
<line x1="194.1" y1="277.4" x2="196.8" y2="277.4" stroke="#555" stroke-width="0.7"/>
<line x1="201.2" y1="281.5" x2="201.2" y2="277.4" stroke="#555" stroke-width="0.7"/>
<line x1="199.9" y1="277.4" x2="202.5" y2="277.4" stroke="#555" stroke-width="0.7"/>
<line x1="206.9" y1="281.5" x2="206.9" y2="277.4" stroke="#555" stroke-width="0.7"/>
<line x1="205.6" y1="277.4" x2="208.2" y2="277.4" stroke="#555" stroke-width="0.7"/>
<line x1="212.7" y1="281.5" x2="212.7" y2="277.4" stroke="#555" stroke-width="0.7"/>
<line x1="211.4" y1="277.4" x2="214.0" y2="277.4" stroke="#555" stroke-width="0.7"/>
<line x1="218.4" y1="281.5" x2="218.4" y2="277.4" stroke="#555" stroke-width="0.7"/>
<line x1="217.1" y1="277.4" x2="219.8" y2="277.4" stroke="#555" stroke-width="0.7"/>
<line x1="224.2" y1="281.5" x2="224.2" y2="277.4" stroke="#555" stroke-width="0.7"/>
<line x1="222.9" y1="277.4" x2="225.5" y2="277.4" stroke="#555" stroke-width="0.7"/>
<line x1="229.9" y1="282.7" x2="229.9" y2="278.7" stroke="#555" stroke-width="0.7"/>
<line x1="228.6" y1="278.7" x2="231.2" y2="278.7" stroke="#555" stroke-width="0.7"/>
<line x1="235.7" y1="282.7" x2="235.7" y2="278.7" stroke="#555" stroke-width="0.7"/>
<line x1="234.4" y1="278.7" x2="237.0" y2="278.7" stroke="#555" stroke-width="0.7"/>
<line x1="241.4" y1="282.7" x2="241.4" y2="278.7" stroke="#555" stroke-width="0.7"/>
<line x1="240.1" y1="278.7" x2="242.8" y2="278.7" stroke="#555" stroke-width="0.7"/>
<line x1="247.2" y1="282.7" x2="247.2" y2="278.7" stroke="#555" stroke-width="0.7"/>
<line x1="245.9" y1="278.7" x2="248.5" y2="278.7" stroke="#555" stroke-width="0.7"/>
<polyline points="28.7,205.2 34.5,201.4 40.2,209.3 46.0,219.5 51.7,229.7 57.5,250.1 63.2,265.4 69.0,277.6 74.7,280.7 80.5,281.5 86.2,281.5 91.9,281.5 97.7,281.5 103.4,281.5 109.2,281.5 115.0,281.5 120.7,281.5 126.5,281.5 132.2,281.5 137.9,281.5 143.7,281.5 149.4,282.7 155.2,282.7 160.9,282.7 166.7,282.7 172.4,282.7 178.2,282.7 183.9,282.7 189.7,282.7 195.4,281.5 201.2,281.5 206.9,281.5 212.7,281.5 218.4,281.5 224.2,281.5 229.9,282.7 235.7,282.7 241.4,282.7 247.2,282.7" fill="none" stroke="#333" stroke-width="0.7"/>
<circle cx="28.7" cy="205.2" r="1.7" fill="#fff" stroke="#333" stroke-width="0.8"/>
<circle cx="34.5" cy="201.4" r="1.7" fill="#fff" stroke="#333" stroke-width="0.8"/>
<circle cx="40.2" cy="209.3" r="1.7" fill="#fff" stroke="#333" stroke-width="0.8"/>
<circle cx="46.0" cy="219.5" r="1.7" fill="#fff" stroke="#333" stroke-width="0.8"/>
<circle cx="51.7" cy="229.7" r="1.7" fill="#fff" stroke="#333" stroke-width="0.8"/>
<circle cx="57.5" cy="250.1" r="1.7" fill="#fff" stroke="#333" stroke-width="0.8"/>
<circle cx="63.2" cy="265.4" r="1.7" fill="#fff" stroke="#333" stroke-width="0.8"/>
<circle cx="69.0" cy="277.6" r="1.7" fill="#fff" stroke="#333" stroke-width="0.8"/>
<circle cx="74.7" cy="280.7" r="1.7" fill="#fff" stroke="#333" stroke-width="0.8"/>
<circle cx="80.5" cy="281.5" r="1.7" fill="#fff" stroke="#333" stroke-width="0.8"/>
<circle cx="86.2" cy="281.5" r="1.7" fill="#fff" stroke="#333" stroke-width="0.8"/>
<circle cx="91.9" cy="281.5" r="1.7" fill="#fff" stroke="#333" stroke-width="0.8"/>
<circle cx="97.7" cy="281.5" r="1.7" fill="#fff" stroke="#333" stroke-width="0.8"/>
<circle cx="103.4" cy="281.5" r="1.7" fill="#fff" stroke="#333" stroke-width="0.8"/>
<circle cx="109.2" cy="281.5" r="1.7" fill="#fff" stroke="#333" stroke-width="0.8"/>
<circle cx="115.0" cy="281.5" r="1.7" fill="#fff" stroke="#333" stroke-width="0.8"/>
<circle cx="120.7" cy="281.5" r="1.7" fill="#fff" stroke="#333" stroke-width="0.8"/>
<circle cx="126.5" cy="281.5" r="1.7" fill="#fff" stroke="#333" stroke-width="0.8"/>
<circle cx="132.2" cy="281.5" r="1.7" fill="#fff" stroke="#333" stroke-width="0.8"/>
<circle cx="137.9" cy="281.5" r="1.7" fill="#fff" stroke="#333" stroke-width="0.8"/>
<circle cx="143.7" cy="281.5" r="1.7" fill="#fff" stroke="#333" stroke-width="0.8"/>
<circle cx="149.4" cy="282.7" r="1.7" fill="#fff" stroke="#333" stroke-width="0.8"/>
<circle cx="155.2" cy="282.7" r="1.7" fill="#fff" stroke="#333" stroke-width="0.8"/>
<circle cx="160.9" cy="282.7" r="1.7" fill="#fff" stroke="#333" stroke-width="0.8"/>
<circle cx="166.7" cy="282.7" r="1.7" fill="#fff" stroke="#333" stroke-width="0.8"/>
<circle cx="172.4" cy="282.7" r="1.7" fill="#fff" stroke="#333" stroke-width="0.8"/>
<circle cx="178.2" cy="282.7" r="1.7" fill="#fff" stroke="#333" stroke-width="0.8"/>
<circle cx="183.9" cy="282.7" r="1.7" fill="#fff" stroke="#333" stroke-width="0.8"/>
<circle cx="189.7" cy="282.7" r="1.7" fill="#fff" stroke="#333" stroke-width="0.8"/>
<circle cx="195.4" cy="281.5" r="1.7" fill="#fff" stroke="#333" stroke-width="0.8"/>
<circle cx="201.2" cy="281.5" r="1.7" fill="#fff" stroke="#333" stroke-width="0.8"/>
<circle cx="206.9" cy="281.5" r="1.7" fill="#fff" stroke="#333" stroke-width="0.8"/>
<circle cx="212.7" cy="281.5" r="1.7" fill="#fff" stroke="#333" stroke-width="0.8"/>
<circle cx="218.4" cy="281.5" r="1.7" fill="#fff" stroke="#333" stroke-width="0.8"/>
<circle cx="224.2" cy="281.5" r="1.7" fill="#fff" stroke="#333" stroke-width="0.8"/>
<circle cx="229.9" cy="282.7" r="1.7" fill="#fff" stroke="#333" stroke-width="0.8"/>
<circle cx="235.7" cy="282.7" r="1.7" fill="#fff" stroke="#333" stroke-width="0.8"/>
<circle cx="241.4" cy="282.7" r="1.7" fill="#fff" stroke="#333" stroke-width="0.8"/>
<circle cx="247.2" cy="282.7" r="1.7" fill="#fff" stroke="#333" stroke-width="0.8"/>
<line x1="34.5" y1="191.7" x2="34.5" y2="185.5" stroke="#222" stroke-width="0.7"/>
<line x1="33.2" y1="185.5" x2="35.8" y2="185.5" stroke="#222" stroke-width="0.7"/>
<line x1="40.2" y1="197.3" x2="40.2" y2="191.1" stroke="#222" stroke-width="0.7"/>
<line x1="38.9" y1="191.1" x2="41.5" y2="191.1" stroke="#222" stroke-width="0.7"/>
<line x1="46.0" y1="212.9" x2="46.0" y2="204.7" stroke="#222" stroke-width="0.7"/>
<line x1="44.7" y1="204.7" x2="47.2" y2="204.7" stroke="#222" stroke-width="0.7"/>
<line x1="51.7" y1="217.9" x2="51.7" y2="209.7" stroke="#222" stroke-width="0.7"/>
<line x1="50.4" y1="209.7" x2="53.0" y2="209.7" stroke="#222" stroke-width="0.7"/>
<line x1="57.5" y1="240.9" x2="57.5" y2="232.8" stroke="#222" stroke-width="0.7"/>
<line x1="56.2" y1="232.8" x2="58.8" y2="232.8" stroke="#222" stroke-width="0.7"/>
<line x1="63.2" y1="264.0" x2="63.2" y2="257.9" stroke="#222" stroke-width="0.7"/>
<line x1="61.9" y1="257.9" x2="64.5" y2="257.9" stroke="#222" stroke-width="0.7"/>
<line x1="69.0" y1="269.6" x2="69.0" y2="263.5" stroke="#222" stroke-width="0.7"/>
<line x1="67.7" y1="263.5" x2="70.2" y2="263.5" stroke="#222" stroke-width="0.7"/>
<line x1="74.7" y1="279.3" x2="74.7" y2="276.2" stroke="#222" stroke-width="0.7"/>
<line x1="73.4" y1="276.2" x2="76.0" y2="276.2" stroke="#222" stroke-width="0.7"/>
<line x1="80.5" y1="278.8" x2="80.5" y2="274.2" stroke="#222" stroke-width="0.7"/>
<line x1="79.2" y1="274.2" x2="81.8" y2="274.2" stroke="#222" stroke-width="0.7"/>
<line x1="86.2" y1="280.2" x2="86.2" y2="275.1" stroke="#222" stroke-width="0.7"/>
<line x1="84.9" y1="275.1" x2="87.5" y2="275.1" stroke="#222" stroke-width="0.7"/>
<line x1="91.9" y1="279.7" x2="91.9" y2="273.6" stroke="#222" stroke-width="0.7"/>
<line x1="90.6" y1="273.6" x2="93.2" y2="273.6" stroke="#222" stroke-width="0.7"/>
<line x1="97.7" y1="275.8" x2="97.7" y2="267.1" stroke="#222" stroke-width="0.7"/>
<line x1="96.4" y1="267.1" x2="99.0" y2="267.1" stroke="#222" stroke-width="0.7"/>
<line x1="103.4" y1="278.8" x2="103.4" y2="273.7" stroke="#222" stroke-width="0.7"/>
<line x1="102.1" y1="273.7" x2="104.7" y2="273.7" stroke="#222" stroke-width="0.7"/>
<line x1="109.2" y1="277.8" x2="109.2" y2="272.7" stroke="#222" stroke-width="0.7"/>
<line x1="107.9" y1="272.7" x2="110.5" y2="272.7" stroke="#222" stroke-width="0.7"/>
<line x1="115.0" y1="278.7" x2="115.0" y2="273.6" stroke="#222" stroke-width="0.7"/>
<line x1="113.7" y1="273.6" x2="116.2" y2="273.6" stroke="#222" stroke-width="0.7"/>
<line x1="120.7" y1="279.2" x2="120.7" y2="274.1" stroke="#222" stroke-width="0.7"/>
<line x1="119.4" y1="274.1" x2="122.0" y2="274.1" stroke="#222" stroke-width="0.7"/>
<line x1="126.5" y1="277.8" x2="126.5" y2="268.2" stroke="#222" stroke-width="0.7"/>
<line x1="125.2" y1="268.2" x2="127.8" y2="268.2" stroke="#222" stroke-width="0.7"/>
<line x1="132.2" y1="278.7" x2="132.2" y2="269.5" stroke="#222" stroke-width="0.7"/>
<line x1="130.9" y1="269.5" x2="133.5" y2="269.5" stroke="#222" stroke-width="0.7"/>
<line x1="137.9" y1="270.5" x2="137.9" y2="262.3" stroke="#222" stroke-width="0.7"/>
<line x1="136.6" y1="262.3" x2="139.2" y2="262.3" stroke="#222" stroke-width="0.7"/>
<line x1="143.7" y1="258.8" x2="143.7" y2="250.6" stroke="#222" stroke-width="0.7"/>
<line x1="142.4" y1="250.6" x2="145.0" y2="250.6" stroke="#222" stroke-width="0.7"/>
<line x1="149.4" y1="251.5" x2="149.4" y2="245.4" stroke="#222" stroke-width="0.7"/>
<line x1="148.1" y1="245.4" x2="150.8" y2="245.4" stroke="#222" stroke-width="0.7"/>
<line x1="155.2" y1="248.1" x2="155.2" y2="243.0" stroke="#222" stroke-width="0.7"/>
<line x1="153.9" y1="243.0" x2="156.5" y2="243.0" stroke="#222" stroke-width="0.7"/>
<line x1="160.9" y1="248.6" x2="160.9" y2="243.5" stroke="#222" stroke-width="0.7"/>
<line x1="159.6" y1="243.5" x2="162.2" y2="243.5" stroke="#222" stroke-width="0.7"/>
<line x1="166.7" y1="237.6" x2="166.7" y2="226.8" stroke="#222" stroke-width="0.7"/>
<line x1="165.4" y1="226.8" x2="168.0" y2="226.8" stroke="#222" stroke-width="0.7"/>
<line x1="172.4" y1="237.0" x2="172.4" y2="229.6" stroke="#222" stroke-width="0.7"/>
<line x1="171.1" y1="229.6" x2="173.8" y2="229.6" stroke="#222" stroke-width="0.7"/>
<line x1="178.2" y1="239.3" x2="178.2" y2="232.1" stroke="#222" stroke-width="0.7"/>
<line x1="176.9" y1="232.1" x2="179.5" y2="232.1" stroke="#222" stroke-width="0.7"/>
<line x1="183.9" y1="242.8" x2="183.9" y2="237.7" stroke="#222" stroke-width="0.7"/>
<line x1="182.6" y1="237.7" x2="185.2" y2="237.7" stroke="#222" stroke-width="0.7"/>
<line x1="189.7" y1="244.2" x2="189.7" y2="239.1" stroke="#222" stroke-width="0.7"/>
<line x1="188.4" y1="239.1" x2="191.0" y2="239.1" stroke="#222" stroke-width="0.7"/>
<line x1="195.4" y1="239.9" x2="195.4" y2="234.8" stroke="#222" stroke-width="0.7"/>
<line x1="194.1" y1="234.8" x2="196.8" y2="234.8" stroke="#222" stroke-width="0.7"/>
<line x1="201.2" y1="244.2" x2="201.2" y2="239.1" stroke="#222" stroke-width="0.7"/>
<line x1="199.9" y1="239.1" x2="202.5" y2="239.1" stroke="#222" stroke-width="0.7"/>
<line x1="206.9" y1="242.2" x2="206.9" y2="237.1" stroke="#222" stroke-width="0.7"/>
<line x1="205.6" y1="237.1" x2="208.2" y2="237.1" stroke="#222" stroke-width="0.7"/>
<line x1="212.7" y1="247.2" x2="212.7" y2="242.1" stroke="#222" stroke-width="0.7"/>
<line x1="211.4" y1="242.1" x2="214.0" y2="242.1" stroke="#222" stroke-width="0.7"/>
<line x1="218.4" y1="238.4" x2="218.4" y2="232.8" stroke="#222" stroke-width="0.7"/>
<line x1="217.1" y1="232.8" x2="219.8" y2="232.8" stroke="#222" stroke-width="0.7"/>
<line x1="224.2" y1="242.8" x2="224.2" y2="237.7" stroke="#222" stroke-width="0.7"/>
<line x1="222.9" y1="237.7" x2="225.5" y2="237.7" stroke="#222" stroke-width="0.7"/>
<line x1="229.9" y1="248.6" x2="229.9" y2="243.5" stroke="#222" stroke-width="0.7"/>
<line x1="228.6" y1="243.5" x2="231.2" y2="243.5" stroke="#222" stroke-width="0.7"/>
<line x1="235.7" y1="248.6" x2="235.7" y2="243.5" stroke="#222" stroke-width="0.7"/>
<line x1="234.4" y1="243.5" x2="237.0" y2="243.5" stroke="#222" stroke-width="0.7"/>
<line x1="241.4" y1="248.6" x2="241.4" y2="243.5" stroke="#222" stroke-width="0.7"/>
<line x1="240.1" y1="243.5" x2="242.8" y2="243.5" stroke="#222" stroke-width="0.7"/>
<line x1="247.2" y1="251.5" x2="247.2" y2="246.4" stroke="#222" stroke-width="0.7"/>
<line x1="245.9" y1="246.4" x2="248.5" y2="246.4" stroke="#222" stroke-width="0.7"/>
<polyline points="28.7,188.9 34.5,191.7 40.2,197.3 46.0,212.9 51.7,217.9 57.5,240.9 63.2,264.0 69.0,269.6 74.7,279.3 80.5,278.8 86.2,280.2 91.9,279.7 97.7,275.8 103.4,278.8 109.2,277.8 115.0,278.7 120.7,279.2 126.5,277.8 132.2,278.7 137.9,270.5 143.7,258.8 149.4,251.5 155.2,248.1 160.9,248.6 166.7,237.6 172.4,237.0 178.2,239.3 183.9,242.8 189.7,244.2 195.4,239.9 201.2,244.2 206.9,242.2 212.7,247.2 218.4,238.4 224.2,242.8 229.9,248.6 235.7,248.6 241.4,248.6 247.2,251.5" fill="none" stroke="#111" stroke-width="0.7"/>
<circle cx="28.7" cy="188.9" r="2.0" fill="#111"/>
<circle cx="34.5" cy="191.7" r="2.0" fill="#111"/>
<circle cx="40.2" cy="197.3" r="2.0" fill="#111"/>
<circle cx="46.0" cy="212.9" r="2.0" fill="#111"/>
<circle cx="51.7" cy="217.9" r="2.0" fill="#111"/>
<circle cx="57.5" cy="240.9" r="2.0" fill="#111"/>
<circle cx="63.2" cy="264.0" r="2.0" fill="#111"/>
<circle cx="69.0" cy="269.6" r="2.0" fill="#111"/>
<circle cx="74.7" cy="279.3" r="2.0" fill="#111"/>
<circle cx="80.5" cy="278.8" r="2.0" fill="#111"/>
<circle cx="86.2" cy="280.2" r="2.0" fill="#111"/>
<circle cx="91.9" cy="279.7" r="2.0" fill="#111"/>
<circle cx="97.7" cy="275.8" r="2.0" fill="#111"/>
<circle cx="103.4" cy="278.8" r="2.0" fill="#111"/>
<circle cx="109.2" cy="277.8" r="2.0" fill="#111"/>
<circle cx="115.0" cy="278.7" r="2.0" fill="#111"/>
<circle cx="120.7" cy="279.2" r="2.0" fill="#111"/>
<circle cx="126.5" cy="277.8" r="2.0" fill="#111"/>
<circle cx="132.2" cy="278.7" r="2.0" fill="#111"/>
<circle cx="137.9" cy="270.5" r="2.0" fill="#111"/>
<circle cx="143.7" cy="258.8" r="2.0" fill="#111"/>
<circle cx="149.4" cy="251.5" r="2.0" fill="#111"/>
<circle cx="155.2" cy="248.1" r="2.0" fill="#111"/>
<circle cx="160.9" cy="248.6" r="2.0" fill="#111"/>
<circle cx="166.7" cy="237.6" r="2.0" fill="#111"/>
<circle cx="172.4" cy="237.0" r="2.0" fill="#111"/>
<circle cx="178.2" cy="239.3" r="2.0" fill="#111"/>
<circle cx="183.9" cy="242.8" r="2.0" fill="#111"/>
<circle cx="189.7" cy="244.2" r="2.0" fill="#111"/>
<circle cx="195.4" cy="239.9" r="2.0" fill="#111"/>
<circle cx="201.2" cy="244.2" r="2.0" fill="#111"/>
<circle cx="206.9" cy="242.2" r="2.0" fill="#111"/>
<circle cx="212.7" cy="247.2" r="2.0" fill="#111"/>
<circle cx="218.4" cy="238.4" r="2.0" fill="#111"/>
<circle cx="224.2" cy="242.8" r="2.0" fill="#111"/>
<circle cx="229.9" cy="248.6" r="2.0" fill="#111"/>
<circle cx="235.7" cy="248.6" r="2.0" fill="#111"/>
<circle cx="241.4" cy="248.6" r="2.0" fill="#111"/>
<circle cx="247.2" cy="251.5" r="2.0" fill="#111"/>
<text x="162.8" y="221.7" font-size="6.73" font-weight="normal" text-anchor="start" fill="#111" textLength="76.4" lengthAdjust="spacingAndGlyphs" stroke="#111" stroke-width="0.5">ALX-0081 +rtPA low dose</text>
<text x="153.9" y="258.9" font-size="6.97" font-weight="normal" text-anchor="start" fill="#111" textLength="42.1" lengthAdjust="spacingAndGlyphs" stroke="#111" stroke-width="0.5">rtPA low dose</text>
<text x="66.2" y="257.2" font-size="6.73" font-weight="normal" text-anchor="start" fill="#111" textLength="60.2" lengthAdjust="spacingAndGlyphs" stroke="#111" stroke-width="0.5">ALX-0081 (5 mg/kg)</text>
<text x="227.8" y="287.5" font-size="6.41" font-weight="bold" text-anchor="start" fill="#111" textLength="22.1" lengthAdjust="spacingAndGlyphs" stroke="#111" stroke-width="0.5">Vehicle</text>
<text x="267.4" y="172.2" font-size="12" font-weight="bold" text-anchor="start" fill="#111" stroke="#111" stroke-width="0.3">D</text>
<text transform="translate(277.8,240.9) rotate(-90)" x="0" y="0" font-size="10.4" font-weight="bold" text-anchor="middle" fill="#111" stroke="#111" stroke-width="0.2" textLength="129.7" lengthAdjust="spacingAndGlyphs">Cerebral Blood Flow (TPU)</text>
<line x1="297.5" y1="176.3" x2="297.5" y2="303.8" stroke="#222" stroke-width="1"/>
<line x1="294.9" y1="176.8" x2="297.5" y2="176.8" stroke="#222" stroke-width="1"/>
<text x="294.4" y="179.1" font-size="7" font-weight="normal" text-anchor="end" fill="#222" stroke="#222" stroke-width="0.4">100</text>
<line x1="294.9" y1="197.2" x2="297.5" y2="197.2" stroke="#222" stroke-width="1"/>
<text x="294.4" y="199.5" font-size="7" font-weight="normal" text-anchor="end" fill="#222" stroke="#222" stroke-width="0.4">80</text>
<line x1="294.9" y1="218.5" x2="297.5" y2="218.5" stroke="#222" stroke-width="1"/>
<text x="294.4" y="220.8" font-size="7" font-weight="normal" text-anchor="end" fill="#222" stroke="#222" stroke-width="0.4">60</text>
<line x1="294.9" y1="239.0" x2="297.5" y2="239.0" stroke="#222" stroke-width="1"/>
<text x="294.4" y="241.3" font-size="7" font-weight="normal" text-anchor="end" fill="#222" stroke="#222" stroke-width="0.4">40</text>
<line x1="294.9" y1="260.7" x2="297.5" y2="260.7" stroke="#222" stroke-width="1"/>
<text x="294.4" y="263.0" font-size="7" font-weight="normal" text-anchor="end" fill="#222" stroke="#222" stroke-width="0.4">20</text>
<line x1="294.9" y1="281.9" x2="297.5" y2="281.9" stroke="#222" stroke-width="1"/>
<text x="294.4" y="284.2" font-size="7" font-weight="normal" text-anchor="end" fill="#222" stroke="#222" stroke-width="0.4">0</text>
<line x1="294.9" y1="303.4" x2="297.5" y2="303.4" stroke="#222" stroke-width="1"/>
<text x="294.4" y="305.7" font-size="7" font-weight="normal" text-anchor="end" fill="#222" stroke="#222" stroke-width="0.4">-20</text>
<line x1="297.5" y1="287.5" x2="520.0" y2="287.5" stroke="#a8a8a8" stroke-width="1"/>
<text x="302.5" y="297.4" font-size="7" font-weight="normal" text-anchor="middle" fill="#222" stroke="#222" stroke-width="0.4">-5</text>
<text x="309.3" y="297.4" font-size="7" font-weight="normal" text-anchor="middle" fill="#222" stroke="#222" stroke-width="0.4">0</text>
<text x="342.5" y="297.4" font-size="7" font-weight="normal" text-anchor="middle" fill="#222" stroke="#222" stroke-width="0.4">30</text>
<text x="376.2" y="297.4" font-size="7" font-weight="normal" text-anchor="middle" fill="#222" stroke="#222" stroke-width="0.4">60</text>
<text x="410.5" y="297.4" font-size="7" font-weight="normal" text-anchor="middle" fill="#222" stroke="#222" stroke-width="0.4">90</text>
<text x="444.4" y="297.4" font-size="7" font-weight="normal" text-anchor="middle" fill="#222" stroke="#222" stroke-width="0.4">120</text>
<text x="478.0" y="297.4" font-size="7" font-weight="normal" text-anchor="middle" fill="#222" stroke="#222" stroke-width="0.4">150</text>
<text x="509.1" y="297.4" font-size="7" font-weight="normal" text-anchor="middle" fill="#222" stroke="#222" stroke-width="0.4">180</text>
<text x="458.9" y="306.9" font-size="7.92" font-weight="bold" text-anchor="start" fill="#111" textLength="39.9" lengthAdjust="spacingAndGlyphs" stroke="#111" stroke-width="0.3">Time (min)</text>
<line x1="303.7" y1="205.5" x2="303.7" y2="201.3" stroke="#9a9a9a" stroke-width="0.7"/>
<line x1="302.4" y1="201.3" x2="305.0" y2="201.3" stroke="#9a9a9a" stroke-width="0.7"/>
<line x1="309.3" y1="205.9" x2="309.3" y2="201.7" stroke="#9a9a9a" stroke-width="0.7"/>
<line x1="308.0" y1="201.7" x2="310.6" y2="201.7" stroke="#9a9a9a" stroke-width="0.7"/>
<line x1="314.9" y1="212.8" x2="314.9" y2="206.5" stroke="#9a9a9a" stroke-width="0.7"/>
<line x1="313.6" y1="206.5" x2="316.2" y2="206.5" stroke="#9a9a9a" stroke-width="0.7"/>
<line x1="320.5" y1="228.5" x2="320.5" y2="220.1" stroke="#9a9a9a" stroke-width="0.7"/>
<line x1="319.2" y1="220.1" x2="321.8" y2="220.1" stroke="#9a9a9a" stroke-width="0.7"/>
<line x1="326.1" y1="244.1" x2="326.1" y2="233.7" stroke="#9a9a9a" stroke-width="0.7"/>
<line x1="324.8" y1="233.7" x2="327.4" y2="233.7" stroke="#9a9a9a" stroke-width="0.7"/>
<line x1="331.7" y1="262.9" x2="331.7" y2="252.5" stroke="#9a9a9a" stroke-width="0.7"/>
<line x1="330.4" y1="252.5" x2="333.0" y2="252.5" stroke="#9a9a9a" stroke-width="0.7"/>
<line x1="337.4" y1="277.0" x2="337.4" y2="268.7" stroke="#9a9a9a" stroke-width="0.7"/>
<line x1="336.1" y1="268.7" x2="338.7" y2="268.7" stroke="#9a9a9a" stroke-width="0.7"/>
<line x1="343.0" y1="279.7" x2="343.0" y2="273.4" stroke="#9a9a9a" stroke-width="0.7"/>
<line x1="341.7" y1="273.4" x2="344.3" y2="273.4" stroke="#9a9a9a" stroke-width="0.7"/>
<line x1="348.6" y1="280.7" x2="348.6" y2="274.4" stroke="#9a9a9a" stroke-width="0.7"/>
<line x1="347.3" y1="274.4" x2="349.9" y2="274.4" stroke="#9a9a9a" stroke-width="0.7"/>
<line x1="354.2" y1="280.7" x2="354.2" y2="274.4" stroke="#9a9a9a" stroke-width="0.7"/>
<line x1="352.9" y1="274.4" x2="355.5" y2="274.4" stroke="#9a9a9a" stroke-width="0.7"/>
<line x1="359.8" y1="280.7" x2="359.8" y2="274.4" stroke="#9a9a9a" stroke-width="0.7"/>
<line x1="358.5" y1="274.4" x2="361.1" y2="274.4" stroke="#9a9a9a" stroke-width="0.7"/>
<line x1="365.4" y1="280.7" x2="365.4" y2="274.4" stroke="#9a9a9a" stroke-width="0.7"/>
<line x1="364.1" y1="274.4" x2="366.7" y2="274.4" stroke="#9a9a9a" stroke-width="0.7"/>
<line x1="371.0" y1="280.7" x2="371.0" y2="274.4" stroke="#9a9a9a" stroke-width="0.7"/>
<line x1="369.7" y1="274.4" x2="372.3" y2="274.4" stroke="#9a9a9a" stroke-width="0.7"/>
<line x1="376.6" y1="280.7" x2="376.6" y2="274.4" stroke="#9a9a9a" stroke-width="0.7"/>
<line x1="375.3" y1="274.4" x2="377.9" y2="274.4" stroke="#9a9a9a" stroke-width="0.7"/>
<line x1="382.2" y1="280.7" x2="382.2" y2="274.4" stroke="#9a9a9a" stroke-width="0.7"/>
<line x1="380.9" y1="274.4" x2="383.5" y2="274.4" stroke="#9a9a9a" stroke-width="0.7"/>
<line x1="387.8" y1="280.7" x2="387.8" y2="274.4" stroke="#9a9a9a" stroke-width="0.7"/>
<line x1="386.5" y1="274.4" x2="389.1" y2="274.4" stroke="#9a9a9a" stroke-width="0.7"/>
<line x1="393.5" y1="280.7" x2="393.5" y2="274.4" stroke="#9a9a9a" stroke-width="0.7"/>
<line x1="392.2" y1="274.4" x2="394.8" y2="274.4" stroke="#9a9a9a" stroke-width="0.7"/>
<line x1="399.1" y1="280.7" x2="399.1" y2="274.4" stroke="#9a9a9a" stroke-width="0.7"/>
<line x1="397.8" y1="274.4" x2="400.4" y2="274.4" stroke="#9a9a9a" stroke-width="0.7"/>
<line x1="404.7" y1="280.7" x2="404.7" y2="272.3" stroke="#9a9a9a" stroke-width="0.7"/>
<line x1="403.4" y1="272.3" x2="406.0" y2="272.3" stroke="#9a9a9a" stroke-width="0.7"/>
<line x1="410.3" y1="280.7" x2="410.3" y2="270.3" stroke="#9a9a9a" stroke-width="0.7"/>
<line x1="409.0" y1="270.3" x2="411.6" y2="270.3" stroke="#9a9a9a" stroke-width="0.7"/>
<line x1="415.9" y1="280.7" x2="415.9" y2="270.3" stroke="#9a9a9a" stroke-width="0.7"/>
<line x1="414.6" y1="270.3" x2="417.2" y2="270.3" stroke="#9a9a9a" stroke-width="0.7"/>
<line x1="421.5" y1="280.7" x2="421.5" y2="270.3" stroke="#9a9a9a" stroke-width="0.7"/>
<line x1="420.2" y1="270.3" x2="422.8" y2="270.3" stroke="#9a9a9a" stroke-width="0.7"/>
<line x1="427.1" y1="280.7" x2="427.1" y2="270.3" stroke="#9a9a9a" stroke-width="0.7"/>
<line x1="425.8" y1="270.3" x2="428.4" y2="270.3" stroke="#9a9a9a" stroke-width="0.7"/>
<line x1="432.7" y1="280.7" x2="432.7" y2="270.3" stroke="#9a9a9a" stroke-width="0.7"/>
<line x1="431.4" y1="270.3" x2="434.0" y2="270.3" stroke="#9a9a9a" stroke-width="0.7"/>
<line x1="438.3" y1="280.7" x2="438.3" y2="270.3" stroke="#9a9a9a" stroke-width="0.7"/>
<line x1="437.0" y1="270.3" x2="439.6" y2="270.3" stroke="#9a9a9a" stroke-width="0.7"/>
<line x1="443.9" y1="280.7" x2="443.9" y2="270.3" stroke="#9a9a9a" stroke-width="0.7"/>
<line x1="442.6" y1="270.3" x2="445.2" y2="270.3" stroke="#9a9a9a" stroke-width="0.7"/>
<line x1="449.6" y1="280.7" x2="449.6" y2="270.3" stroke="#9a9a9a" stroke-width="0.7"/>
<line x1="448.2" y1="270.3" x2="450.9" y2="270.3" stroke="#9a9a9a" stroke-width="0.7"/>
<line x1="455.2" y1="280.7" x2="455.2" y2="270.3" stroke="#9a9a9a" stroke-width="0.7"/>
<line x1="453.9" y1="270.3" x2="456.5" y2="270.3" stroke="#9a9a9a" stroke-width="0.7"/>
<line x1="460.8" y1="280.7" x2="460.8" y2="270.3" stroke="#9a9a9a" stroke-width="0.7"/>
<line x1="459.5" y1="270.3" x2="462.1" y2="270.3" stroke="#9a9a9a" stroke-width="0.7"/>
<line x1="466.4" y1="280.7" x2="466.4" y2="270.3" stroke="#9a9a9a" stroke-width="0.7"/>
<line x1="465.1" y1="270.3" x2="467.7" y2="270.3" stroke="#9a9a9a" stroke-width="0.7"/>
<line x1="472.0" y1="280.7" x2="472.0" y2="270.3" stroke="#9a9a9a" stroke-width="0.7"/>
<line x1="470.7" y1="270.3" x2="473.3" y2="270.3" stroke="#9a9a9a" stroke-width="0.7"/>
<line x1="477.6" y1="279.7" x2="477.6" y2="269.2" stroke="#9a9a9a" stroke-width="0.7"/>
<line x1="476.3" y1="269.2" x2="478.9" y2="269.2" stroke="#9a9a9a" stroke-width="0.7"/>
<line x1="483.2" y1="277.6" x2="483.2" y2="265.0" stroke="#9a9a9a" stroke-width="0.7"/>
<line x1="481.9" y1="265.0" x2="484.5" y2="265.0" stroke="#9a9a9a" stroke-width="0.7"/>
<line x1="488.8" y1="279.7" x2="488.8" y2="269.2" stroke="#9a9a9a" stroke-width="0.7"/>
<line x1="487.5" y1="269.2" x2="490.1" y2="269.2" stroke="#9a9a9a" stroke-width="0.7"/>
<line x1="494.4" y1="280.7" x2="494.4" y2="270.3" stroke="#9a9a9a" stroke-width="0.7"/>
<line x1="493.1" y1="270.3" x2="495.7" y2="270.3" stroke="#9a9a9a" stroke-width="0.7"/>
<line x1="500.0" y1="280.7" x2="500.0" y2="270.3" stroke="#9a9a9a" stroke-width="0.7"/>
<line x1="498.7" y1="270.3" x2="501.3" y2="270.3" stroke="#9a9a9a" stroke-width="0.7"/>
<line x1="505.7" y1="280.7" x2="505.7" y2="270.3" stroke="#9a9a9a" stroke-width="0.7"/>
<line x1="504.4" y1="270.3" x2="507.0" y2="270.3" stroke="#9a9a9a" stroke-width="0.7"/>
<line x1="511.3" y1="280.7" x2="511.3" y2="270.3" stroke="#9a9a9a" stroke-width="0.7"/>
<line x1="510.0" y1="270.3" x2="512.6" y2="270.3" stroke="#9a9a9a" stroke-width="0.7"/>
<polyline points="298.1,205.5 303.7,205.5 309.3,205.9 314.9,212.8 320.5,228.5 326.1,244.1 331.7,262.9 337.4,277.0 343.0,279.7 348.6,280.7 354.2,280.7 359.8,280.7 365.4,280.7 371.0,280.7 376.6,280.7 382.2,280.7 387.8,280.7 393.5,280.7 399.1,280.7 404.7,280.7 410.3,280.7 415.9,280.7 421.5,280.7 427.1,280.7 432.7,280.7 438.3,280.7 443.9,280.7 449.6,280.7 455.2,280.7 460.8,280.7 466.4,280.7 472.0,280.7 477.6,279.7 483.2,277.6 488.8,279.7 494.4,280.7 500.0,280.7 505.7,280.7 511.3,280.7" fill="none" stroke="#8a8a8a" stroke-width="0.7"/>
<polygon points="298.1,204.0 296.6,206.6 299.5,206.6" fill="#fff" stroke="#8a8a8a" stroke-width="0.8"/>
<polygon points="303.7,204.0 302.3,206.6 305.1,206.6" fill="#fff" stroke="#8a8a8a" stroke-width="0.8"/>
<polygon points="309.3,204.5 307.9,207.0 310.7,207.0" fill="#fff" stroke="#8a8a8a" stroke-width="0.8"/>
<polygon points="314.9,211.3 313.5,213.9 316.3,213.9" fill="#fff" stroke="#8a8a8a" stroke-width="0.8"/>
<polygon points="320.5,227.0 319.1,229.6 322.0,229.6" fill="#fff" stroke="#8a8a8a" stroke-width="0.8"/>
<polygon points="326.1,242.7 324.7,245.3 327.6,245.3" fill="#fff" stroke="#8a8a8a" stroke-width="0.8"/>
<polygon points="331.7,261.5 330.3,264.1 333.2,264.1" fill="#fff" stroke="#8a8a8a" stroke-width="0.8"/>
<polygon points="337.4,275.6 335.9,278.2 338.8,278.2" fill="#fff" stroke="#8a8a8a" stroke-width="0.8"/>
<polygon points="343.0,278.2 341.5,280.8 344.4,280.8" fill="#fff" stroke="#8a8a8a" stroke-width="0.8"/>
<polygon points="348.6,279.3 347.1,281.8 350.0,281.8" fill="#fff" stroke="#8a8a8a" stroke-width="0.8"/>
<polygon points="354.2,279.3 352.8,281.8 355.6,281.8" fill="#fff" stroke="#8a8a8a" stroke-width="0.8"/>
<polygon points="359.8,279.3 358.4,281.8 361.2,281.8" fill="#fff" stroke="#8a8a8a" stroke-width="0.8"/>
<polygon points="365.4,279.3 364.0,281.8 366.8,281.8" fill="#fff" stroke="#8a8a8a" stroke-width="0.8"/>
<polygon points="371.0,279.3 369.6,281.8 372.4,281.8" fill="#fff" stroke="#8a8a8a" stroke-width="0.8"/>
<polygon points="376.6,279.3 375.2,281.8 378.1,281.8" fill="#fff" stroke="#8a8a8a" stroke-width="0.8"/>
<polygon points="382.2,279.3 380.8,281.8 383.7,281.8" fill="#fff" stroke="#8a8a8a" stroke-width="0.8"/>
<polygon points="387.8,279.3 386.4,281.8 389.3,281.8" fill="#fff" stroke="#8a8a8a" stroke-width="0.8"/>
<polygon points="393.5,279.3 392.0,281.8 394.9,281.8" fill="#fff" stroke="#8a8a8a" stroke-width="0.8"/>
<polygon points="399.1,279.3 397.6,281.8 400.5,281.8" fill="#fff" stroke="#8a8a8a" stroke-width="0.8"/>
<polygon points="404.7,279.3 403.2,281.8 406.1,281.8" fill="#fff" stroke="#8a8a8a" stroke-width="0.8"/>
<polygon points="410.3,279.3 408.9,281.8 411.7,281.8" fill="#fff" stroke="#8a8a8a" stroke-width="0.8"/>
<polygon points="415.9,279.3 414.5,281.8 417.3,281.8" fill="#fff" stroke="#8a8a8a" stroke-width="0.8"/>
<polygon points="421.5,279.3 420.1,281.8 422.9,281.8" fill="#fff" stroke="#8a8a8a" stroke-width="0.8"/>
<polygon points="427.1,279.3 425.7,281.8 428.5,281.8" fill="#fff" stroke="#8a8a8a" stroke-width="0.8"/>
<polygon points="432.7,279.3 431.3,281.8 434.2,281.8" fill="#fff" stroke="#8a8a8a" stroke-width="0.8"/>
<polygon points="438.3,279.3 436.9,281.8 439.8,281.8" fill="#fff" stroke="#8a8a8a" stroke-width="0.8"/>
<polygon points="443.9,279.3 442.5,281.8 445.4,281.8" fill="#fff" stroke="#8a8a8a" stroke-width="0.8"/>
<polygon points="449.6,279.3 448.1,281.8 451.0,281.8" fill="#fff" stroke="#8a8a8a" stroke-width="0.8"/>
<polygon points="455.2,279.3 453.7,281.8 456.6,281.8" fill="#fff" stroke="#8a8a8a" stroke-width="0.8"/>
<polygon points="460.8,279.3 459.3,281.8 462.2,281.8" fill="#fff" stroke="#8a8a8a" stroke-width="0.8"/>
<polygon points="466.4,279.3 464.9,281.8 467.8,281.8" fill="#fff" stroke="#8a8a8a" stroke-width="0.8"/>
<polygon points="472.0,279.3 470.6,281.8 473.4,281.8" fill="#fff" stroke="#8a8a8a" stroke-width="0.8"/>
<polygon points="477.6,278.2 476.2,280.8 479.0,280.8" fill="#fff" stroke="#8a8a8a" stroke-width="0.8"/>
<polygon points="483.2,276.1 481.8,278.7 484.6,278.7" fill="#fff" stroke="#8a8a8a" stroke-width="0.8"/>
<polygon points="488.8,278.2 487.4,280.8 490.3,280.8" fill="#fff" stroke="#8a8a8a" stroke-width="0.8"/>
<polygon points="494.4,279.3 493.0,281.8 495.9,281.8" fill="#fff" stroke="#8a8a8a" stroke-width="0.8"/>
<polygon points="500.0,279.3 498.6,281.8 501.5,281.8" fill="#fff" stroke="#8a8a8a" stroke-width="0.8"/>
<polygon points="505.7,279.3 504.2,281.8 507.1,281.8" fill="#fff" stroke="#8a8a8a" stroke-width="0.8"/>
<polygon points="511.3,279.3 509.8,281.8 512.7,281.8" fill="#fff" stroke="#8a8a8a" stroke-width="0.8"/>
<line x1="303.7" y1="199.2" x2="303.7" y2="195.0" stroke="#777" stroke-width="0.7"/>
<line x1="302.4" y1="195.0" x2="305.0" y2="195.0" stroke="#777" stroke-width="0.7"/>
<line x1="309.3" y1="203.4" x2="309.3" y2="199.2" stroke="#777" stroke-width="0.7"/>
<line x1="308.0" y1="199.2" x2="310.6" y2="199.2" stroke="#777" stroke-width="0.7"/>
<line x1="314.9" y1="210.7" x2="314.9" y2="204.4" stroke="#777" stroke-width="0.7"/>
<line x1="313.6" y1="204.4" x2="316.2" y2="204.4" stroke="#777" stroke-width="0.7"/>
<line x1="320.5" y1="221.1" x2="320.5" y2="214.9" stroke="#777" stroke-width="0.7"/>
<line x1="319.2" y1="214.9" x2="321.8" y2="214.9" stroke="#777" stroke-width="0.7"/>
<line x1="326.1" y1="237.9" x2="326.1" y2="229.5" stroke="#777" stroke-width="0.7"/>
<line x1="324.8" y1="229.5" x2="327.4" y2="229.5" stroke="#777" stroke-width="0.7"/>
<line x1="331.7" y1="260.9" x2="331.7" y2="252.5" stroke="#777" stroke-width="0.7"/>
<line x1="330.4" y1="252.5" x2="333.0" y2="252.5" stroke="#777" stroke-width="0.7"/>
<line x1="337.4" y1="275.5" x2="337.4" y2="269.2" stroke="#777" stroke-width="0.7"/>
<line x1="336.1" y1="269.2" x2="338.7" y2="269.2" stroke="#777" stroke-width="0.7"/>
<line x1="343.0" y1="280.7" x2="343.0" y2="275.5" stroke="#777" stroke-width="0.7"/>
<line x1="341.7" y1="275.5" x2="344.3" y2="275.5" stroke="#777" stroke-width="0.7"/>
<line x1="348.6" y1="280.7" x2="348.6" y2="275.5" stroke="#777" stroke-width="0.7"/>
<line x1="347.3" y1="275.5" x2="349.9" y2="275.5" stroke="#777" stroke-width="0.7"/>
<line x1="354.2" y1="280.7" x2="354.2" y2="275.5" stroke="#777" stroke-width="0.7"/>
<line x1="352.9" y1="275.5" x2="355.5" y2="275.5" stroke="#777" stroke-width="0.7"/>
<line x1="359.8" y1="279.7" x2="359.8" y2="274.4" stroke="#777" stroke-width="0.7"/>
<line x1="358.5" y1="274.4" x2="361.1" y2="274.4" stroke="#777" stroke-width="0.7"/>
<line x1="365.4" y1="280.7" x2="365.4" y2="275.5" stroke="#777" stroke-width="0.7"/>
<line x1="364.1" y1="275.5" x2="366.7" y2="275.5" stroke="#777" stroke-width="0.7"/>
<line x1="371.0" y1="280.7" x2="371.0" y2="275.5" stroke="#777" stroke-width="0.7"/>
<line x1="369.7" y1="275.5" x2="372.3" y2="275.5" stroke="#777" stroke-width="0.7"/>
<line x1="376.6" y1="280.7" x2="376.6" y2="275.5" stroke="#777" stroke-width="0.7"/>
<line x1="375.3" y1="275.5" x2="377.9" y2="275.5" stroke="#777" stroke-width="0.7"/>
<line x1="382.2" y1="280.7" x2="382.2" y2="275.5" stroke="#777" stroke-width="0.7"/>
<line x1="380.9" y1="275.5" x2="383.5" y2="275.5" stroke="#777" stroke-width="0.7"/>
<line x1="387.8" y1="280.7" x2="387.8" y2="275.5" stroke="#777" stroke-width="0.7"/>
<line x1="386.5" y1="275.5" x2="389.1" y2="275.5" stroke="#777" stroke-width="0.7"/>
<line x1="393.5" y1="280.7" x2="393.5" y2="275.5" stroke="#777" stroke-width="0.7"/>
<line x1="392.2" y1="275.5" x2="394.8" y2="275.5" stroke="#777" stroke-width="0.7"/>
<line x1="399.1" y1="280.7" x2="399.1" y2="275.5" stroke="#777" stroke-width="0.7"/>
<line x1="397.8" y1="275.5" x2="400.4" y2="275.5" stroke="#777" stroke-width="0.7"/>
<line x1="404.7" y1="280.7" x2="404.7" y2="275.5" stroke="#777" stroke-width="0.7"/>
<line x1="403.4" y1="275.5" x2="406.0" y2="275.5" stroke="#777" stroke-width="0.7"/>
<line x1="410.3" y1="280.7" x2="410.3" y2="275.5" stroke="#777" stroke-width="0.7"/>
<line x1="409.0" y1="275.5" x2="411.6" y2="275.5" stroke="#777" stroke-width="0.7"/>
<line x1="415.9" y1="280.7" x2="415.9" y2="275.5" stroke="#777" stroke-width="0.7"/>
<line x1="414.6" y1="275.5" x2="417.2" y2="275.5" stroke="#777" stroke-width="0.7"/>
<line x1="421.5" y1="280.7" x2="421.5" y2="275.5" stroke="#777" stroke-width="0.7"/>
<line x1="420.2" y1="275.5" x2="422.8" y2="275.5" stroke="#777" stroke-width="0.7"/>
<line x1="427.1" y1="280.7" x2="427.1" y2="275.5" stroke="#777" stroke-width="0.7"/>
<line x1="425.8" y1="275.5" x2="428.4" y2="275.5" stroke="#777" stroke-width="0.7"/>
<line x1="432.7" y1="280.7" x2="432.7" y2="275.5" stroke="#777" stroke-width="0.7"/>
<line x1="431.4" y1="275.5" x2="434.0" y2="275.5" stroke="#777" stroke-width="0.7"/>
<line x1="438.3" y1="280.7" x2="438.3" y2="275.5" stroke="#777" stroke-width="0.7"/>
<line x1="437.0" y1="275.5" x2="439.6" y2="275.5" stroke="#777" stroke-width="0.7"/>
<line x1="443.9" y1="280.7" x2="443.9" y2="275.5" stroke="#777" stroke-width="0.7"/>
<line x1="442.6" y1="275.5" x2="445.2" y2="275.5" stroke="#777" stroke-width="0.7"/>
<line x1="449.6" y1="280.7" x2="449.6" y2="275.5" stroke="#777" stroke-width="0.7"/>
<line x1="448.2" y1="275.5" x2="450.9" y2="275.5" stroke="#777" stroke-width="0.7"/>
<line x1="455.2" y1="280.7" x2="455.2" y2="275.5" stroke="#777" stroke-width="0.7"/>
<line x1="453.9" y1="275.5" x2="456.5" y2="275.5" stroke="#777" stroke-width="0.7"/>
<line x1="460.8" y1="280.7" x2="460.8" y2="275.5" stroke="#777" stroke-width="0.7"/>
<line x1="459.5" y1="275.5" x2="462.1" y2="275.5" stroke="#777" stroke-width="0.7"/>
<line x1="466.4" y1="280.7" x2="466.4" y2="275.5" stroke="#777" stroke-width="0.7"/>
<line x1="465.1" y1="275.5" x2="467.7" y2="275.5" stroke="#777" stroke-width="0.7"/>
<line x1="472.0" y1="280.7" x2="472.0" y2="275.5" stroke="#777" stroke-width="0.7"/>
<line x1="470.7" y1="275.5" x2="473.3" y2="275.5" stroke="#777" stroke-width="0.7"/>
<line x1="477.6" y1="280.7" x2="477.6" y2="275.5" stroke="#777" stroke-width="0.7"/>
<line x1="476.3" y1="275.5" x2="478.9" y2="275.5" stroke="#777" stroke-width="0.7"/>
<line x1="483.2" y1="280.7" x2="483.2" y2="275.5" stroke="#777" stroke-width="0.7"/>
<line x1="481.9" y1="275.5" x2="484.5" y2="275.5" stroke="#777" stroke-width="0.7"/>
<line x1="488.8" y1="280.7" x2="488.8" y2="275.5" stroke="#777" stroke-width="0.7"/>
<line x1="487.5" y1="275.5" x2="490.1" y2="275.5" stroke="#777" stroke-width="0.7"/>
<line x1="494.4" y1="280.7" x2="494.4" y2="275.5" stroke="#777" stroke-width="0.7"/>
<line x1="493.1" y1="275.5" x2="495.7" y2="275.5" stroke="#777" stroke-width="0.7"/>
<line x1="500.0" y1="280.7" x2="500.0" y2="275.5" stroke="#777" stroke-width="0.7"/>
<line x1="498.7" y1="275.5" x2="501.3" y2="275.5" stroke="#777" stroke-width="0.7"/>
<line x1="505.7" y1="280.7" x2="505.7" y2="275.5" stroke="#777" stroke-width="0.7"/>
<line x1="504.4" y1="275.5" x2="507.0" y2="275.5" stroke="#777" stroke-width="0.7"/>
<line x1="511.3" y1="280.7" x2="511.3" y2="275.5" stroke="#777" stroke-width="0.7"/>
<line x1="510.0" y1="275.5" x2="512.6" y2="275.5" stroke="#777" stroke-width="0.7"/>
<polyline points="298.1,198.2 303.7,199.2 309.3,203.4 314.9,210.7 320.5,221.1 326.1,237.9 331.7,260.9 337.4,275.5 343.0,280.7 348.6,280.7 354.2,280.7 359.8,279.7 365.4,280.7 371.0,280.7 376.6,280.7 382.2,280.7 387.8,280.7 393.5,280.7 399.1,280.7 404.7,280.7 410.3,280.7 415.9,280.7 421.5,280.7 427.1,280.7 432.7,280.7 438.3,280.7 443.9,280.7 449.6,280.7 455.2,280.7 460.8,280.7 466.4,280.7 472.0,280.7 477.6,280.7 483.2,280.7 488.8,280.7 494.4,280.7 500.0,280.7 505.7,280.7 511.3,280.7" fill="none" stroke="#555" stroke-width="0.7"/>
<circle cx="298.1" cy="198.2" r="1.3" fill="#fff" stroke="#555" stroke-width="0.8"/>
<circle cx="303.7" cy="199.2" r="1.3" fill="#fff" stroke="#555" stroke-width="0.8"/>
<circle cx="309.3" cy="203.4" r="1.3" fill="#fff" stroke="#555" stroke-width="0.8"/>
<circle cx="314.9" cy="210.7" r="1.3" fill="#fff" stroke="#555" stroke-width="0.8"/>
<circle cx="320.5" cy="221.1" r="1.3" fill="#fff" stroke="#555" stroke-width="0.8"/>
<circle cx="326.1" cy="237.9" r="1.3" fill="#fff" stroke="#555" stroke-width="0.8"/>
<circle cx="331.7" cy="260.9" r="1.3" fill="#fff" stroke="#555" stroke-width="0.8"/>
<circle cx="337.4" cy="275.5" r="1.3" fill="#fff" stroke="#555" stroke-width="0.8"/>
<circle cx="343.0" cy="280.7" r="1.3" fill="#fff" stroke="#555" stroke-width="0.8"/>
<circle cx="348.6" cy="280.7" r="1.3" fill="#fff" stroke="#555" stroke-width="0.8"/>
<circle cx="354.2" cy="280.7" r="1.3" fill="#fff" stroke="#555" stroke-width="0.8"/>
<circle cx="359.8" cy="279.7" r="1.3" fill="#fff" stroke="#555" stroke-width="0.8"/>
<circle cx="365.4" cy="280.7" r="1.3" fill="#fff" stroke="#555" stroke-width="0.8"/>
<circle cx="371.0" cy="280.7" r="1.3" fill="#fff" stroke="#555" stroke-width="0.8"/>
<circle cx="376.6" cy="280.7" r="1.3" fill="#fff" stroke="#555" stroke-width="0.8"/>
<circle cx="382.2" cy="280.7" r="1.3" fill="#fff" stroke="#555" stroke-width="0.8"/>
<circle cx="387.8" cy="280.7" r="1.3" fill="#fff" stroke="#555" stroke-width="0.8"/>
<circle cx="393.5" cy="280.7" r="1.3" fill="#fff" stroke="#555" stroke-width="0.8"/>
<circle cx="399.1" cy="280.7" r="1.3" fill="#fff" stroke="#555" stroke-width="0.8"/>
<circle cx="404.7" cy="280.7" r="1.3" fill="#fff" stroke="#555" stroke-width="0.8"/>
<circle cx="410.3" cy="280.7" r="1.3" fill="#fff" stroke="#555" stroke-width="0.8"/>
<circle cx="415.9" cy="280.7" r="1.3" fill="#fff" stroke="#555" stroke-width="0.8"/>
<circle cx="421.5" cy="280.7" r="1.3" fill="#fff" stroke="#555" stroke-width="0.8"/>
<circle cx="427.1" cy="280.7" r="1.3" fill="#fff" stroke="#555" stroke-width="0.8"/>
<circle cx="432.7" cy="280.7" r="1.3" fill="#fff" stroke="#555" stroke-width="0.8"/>
<circle cx="438.3" cy="280.7" r="1.3" fill="#fff" stroke="#555" stroke-width="0.8"/>
<circle cx="443.9" cy="280.7" r="1.3" fill="#fff" stroke="#555" stroke-width="0.8"/>
<circle cx="449.6" cy="280.7" r="1.3" fill="#fff" stroke="#555" stroke-width="0.8"/>
<circle cx="455.2" cy="280.7" r="1.3" fill="#fff" stroke="#555" stroke-width="0.8"/>
<circle cx="460.8" cy="280.7" r="1.3" fill="#fff" stroke="#555" stroke-width="0.8"/>
<circle cx="466.4" cy="280.7" r="1.3" fill="#fff" stroke="#555" stroke-width="0.8"/>
<circle cx="472.0" cy="280.7" r="1.3" fill="#fff" stroke="#555" stroke-width="0.8"/>
<circle cx="477.6" cy="280.7" r="1.3" fill="#fff" stroke="#555" stroke-width="0.8"/>
<circle cx="483.2" cy="280.7" r="1.3" fill="#fff" stroke="#555" stroke-width="0.8"/>
<circle cx="488.8" cy="280.7" r="1.3" fill="#fff" stroke="#555" stroke-width="0.8"/>
<circle cx="494.4" cy="280.7" r="1.3" fill="#fff" stroke="#555" stroke-width="0.8"/>
<circle cx="500.0" cy="280.7" r="1.3" fill="#fff" stroke="#555" stroke-width="0.8"/>
<circle cx="505.7" cy="280.7" r="1.3" fill="#fff" stroke="#555" stroke-width="0.8"/>
<circle cx="511.3" cy="280.7" r="1.3" fill="#fff" stroke="#555" stroke-width="0.8"/>
<line x1="303.7" y1="195.0" x2="303.7" y2="190.8" stroke="#222" stroke-width="0.7"/>
<line x1="302.4" y1="190.8" x2="305.0" y2="190.8" stroke="#222" stroke-width="0.7"/>
<line x1="309.3" y1="220.3" x2="309.3" y2="216.1" stroke="#222" stroke-width="0.7"/>
<line x1="308.0" y1="216.1" x2="310.6" y2="216.1" stroke="#222" stroke-width="0.7"/>
<line x1="314.9" y1="244.1" x2="314.9" y2="235.8" stroke="#222" stroke-width="0.7"/>
<line x1="313.6" y1="235.8" x2="316.2" y2="235.8" stroke="#222" stroke-width="0.7"/>
<line x1="320.5" y1="262.6" x2="320.5" y2="254.3" stroke="#222" stroke-width="0.7"/>
<line x1="319.2" y1="254.3" x2="321.8" y2="254.3" stroke="#222" stroke-width="0.7"/>
<line x1="326.1" y1="275.5" x2="326.1" y2="271.3" stroke="#222" stroke-width="0.7"/>
<line x1="324.8" y1="271.3" x2="327.4" y2="271.3" stroke="#222" stroke-width="0.7"/>
<line x1="331.7" y1="280.4" x2="331.7" y2="277.3" stroke="#222" stroke-width="0.7"/>
<line x1="330.4" y1="277.3" x2="333.0" y2="277.3" stroke="#222" stroke-width="0.7"/>
<line x1="337.4" y1="282.3" x2="337.4" y2="279.1" stroke="#222" stroke-width="0.7"/>
<line x1="336.1" y1="279.1" x2="338.7" y2="279.1" stroke="#222" stroke-width="0.7"/>
<line x1="343.0" y1="281.8" x2="343.0" y2="278.6" stroke="#222" stroke-width="0.7"/>
<line x1="341.7" y1="278.6" x2="344.3" y2="278.6" stroke="#222" stroke-width="0.7"/>
<line x1="348.6" y1="278.9" x2="348.6" y2="274.7" stroke="#222" stroke-width="0.7"/>
<line x1="347.3" y1="274.7" x2="349.9" y2="274.7" stroke="#222" stroke-width="0.7"/>
<line x1="354.2" y1="283.1" x2="354.2" y2="280.0" stroke="#222" stroke-width="0.7"/>
<line x1="352.9" y1="280.0" x2="355.5" y2="280.0" stroke="#222" stroke-width="0.7"/>
<line x1="359.8" y1="281.5" x2="359.8" y2="278.4" stroke="#222" stroke-width="0.7"/>
<line x1="358.5" y1="278.4" x2="361.1" y2="278.4" stroke="#222" stroke-width="0.7"/>
<line x1="365.4" y1="282.0" x2="365.4" y2="278.8" stroke="#222" stroke-width="0.7"/>
<line x1="364.1" y1="278.8" x2="366.7" y2="278.8" stroke="#222" stroke-width="0.7"/>
<line x1="371.0" y1="282.3" x2="371.0" y2="279.1" stroke="#222" stroke-width="0.7"/>
<line x1="369.7" y1="279.1" x2="372.3" y2="279.1" stroke="#222" stroke-width="0.7"/>
<line x1="376.6" y1="285.7" x2="376.6" y2="282.6" stroke="#222" stroke-width="0.7"/>
<line x1="375.3" y1="282.6" x2="377.9" y2="282.6" stroke="#222" stroke-width="0.7"/>
<line x1="382.2" y1="283.5" x2="382.2" y2="280.4" stroke="#222" stroke-width="0.7"/>
<line x1="380.9" y1="280.4" x2="383.5" y2="280.4" stroke="#222" stroke-width="0.7"/>
<line x1="387.8" y1="283.8" x2="387.8" y2="280.7" stroke="#222" stroke-width="0.7"/>
<line x1="386.5" y1="280.7" x2="389.1" y2="280.7" stroke="#222" stroke-width="0.7"/>
<line x1="393.5" y1="285.1" x2="393.5" y2="282.0" stroke="#222" stroke-width="0.7"/>
<line x1="392.2" y1="282.0" x2="394.8" y2="282.0" stroke="#222" stroke-width="0.7"/>
<line x1="399.1" y1="285.7" x2="399.1" y2="282.6" stroke="#222" stroke-width="0.7"/>
<line x1="397.8" y1="282.6" x2="400.4" y2="282.6" stroke="#222" stroke-width="0.7"/>
<line x1="404.7" y1="286.6" x2="404.7" y2="283.4" stroke="#222" stroke-width="0.7"/>
<line x1="403.4" y1="283.4" x2="406.0" y2="283.4" stroke="#222" stroke-width="0.7"/>
<line x1="410.3" y1="282.8" x2="410.3" y2="279.7" stroke="#222" stroke-width="0.7"/>
<line x1="409.0" y1="279.7" x2="411.6" y2="279.7" stroke="#222" stroke-width="0.7"/>
<line x1="415.9" y1="283.3" x2="415.9" y2="280.2" stroke="#222" stroke-width="0.7"/>
<line x1="414.6" y1="280.2" x2="417.2" y2="280.2" stroke="#222" stroke-width="0.7"/>
<line x1="421.5" y1="283.3" x2="421.5" y2="280.2" stroke="#222" stroke-width="0.7"/>
<line x1="420.2" y1="280.2" x2="422.8" y2="280.2" stroke="#222" stroke-width="0.7"/>
<line x1="427.1" y1="283.3" x2="427.1" y2="280.2" stroke="#222" stroke-width="0.7"/>
<line x1="425.8" y1="280.2" x2="428.4" y2="280.2" stroke="#222" stroke-width="0.7"/>
<line x1="432.7" y1="283.3" x2="432.7" y2="280.2" stroke="#222" stroke-width="0.7"/>
<line x1="431.4" y1="280.2" x2="434.0" y2="280.2" stroke="#222" stroke-width="0.7"/>
<line x1="438.3" y1="283.8" x2="438.3" y2="280.7" stroke="#222" stroke-width="0.7"/>
<line x1="437.0" y1="280.7" x2="439.6" y2="280.7" stroke="#222" stroke-width="0.7"/>
<line x1="443.9" y1="283.8" x2="443.9" y2="280.7" stroke="#222" stroke-width="0.7"/>
<line x1="442.6" y1="280.7" x2="445.2" y2="280.7" stroke="#222" stroke-width="0.7"/>
<line x1="449.6" y1="283.8" x2="449.6" y2="280.7" stroke="#222" stroke-width="0.7"/>
<line x1="448.2" y1="280.7" x2="450.9" y2="280.7" stroke="#222" stroke-width="0.7"/>
<line x1="455.2" y1="283.8" x2="455.2" y2="280.7" stroke="#222" stroke-width="0.7"/>
<line x1="453.9" y1="280.7" x2="456.5" y2="280.7" stroke="#222" stroke-width="0.7"/>
<line x1="460.8" y1="283.8" x2="460.8" y2="280.7" stroke="#222" stroke-width="0.7"/>
<line x1="459.5" y1="280.7" x2="462.1" y2="280.7" stroke="#222" stroke-width="0.7"/>
<line x1="466.4" y1="284.4" x2="466.4" y2="281.2" stroke="#222" stroke-width="0.7"/>
<line x1="465.1" y1="281.2" x2="467.7" y2="281.2" stroke="#222" stroke-width="0.7"/>
<line x1="472.0" y1="285.9" x2="472.0" y2="282.8" stroke="#222" stroke-width="0.7"/>
<line x1="470.7" y1="282.8" x2="473.3" y2="282.8" stroke="#222" stroke-width="0.7"/>
<line x1="477.6" y1="285.9" x2="477.6" y2="282.8" stroke="#222" stroke-width="0.7"/>
<line x1="476.3" y1="282.8" x2="478.9" y2="282.8" stroke="#222" stroke-width="0.7"/>
<line x1="483.2" y1="284.9" x2="483.2" y2="281.8" stroke="#222" stroke-width="0.7"/>
<line x1="481.9" y1="281.8" x2="484.5" y2="281.8" stroke="#222" stroke-width="0.7"/>
<line x1="488.8" y1="284.9" x2="488.8" y2="281.8" stroke="#222" stroke-width="0.7"/>
<line x1="487.5" y1="281.8" x2="490.1" y2="281.8" stroke="#222" stroke-width="0.7"/>
<line x1="494.4" y1="284.9" x2="494.4" y2="281.8" stroke="#222" stroke-width="0.7"/>
<line x1="493.1" y1="281.8" x2="495.7" y2="281.8" stroke="#222" stroke-width="0.7"/>
<line x1="500.0" y1="284.9" x2="500.0" y2="281.8" stroke="#222" stroke-width="0.7"/>
<line x1="498.7" y1="281.8" x2="501.3" y2="281.8" stroke="#222" stroke-width="0.7"/>
<line x1="505.7" y1="284.9" x2="505.7" y2="281.8" stroke="#222" stroke-width="0.7"/>
<line x1="504.4" y1="281.8" x2="507.0" y2="281.8" stroke="#222" stroke-width="0.7"/>
<line x1="511.3" y1="284.9" x2="511.3" y2="281.8" stroke="#222" stroke-width="0.7"/>
<line x1="510.0" y1="281.8" x2="512.6" y2="281.8" stroke="#222" stroke-width="0.7"/>
<polyline points="298.1,192.2 303.7,195.0 309.3,220.3 314.9,244.1 320.5,262.6 326.1,275.5 331.7,280.4 337.4,282.3 343.0,281.8 348.6,278.9 354.2,283.1 359.8,281.5 365.4,282.0 371.0,282.3 376.6,285.7 382.2,283.5 387.8,283.8 393.5,285.1 399.1,285.7 404.7,286.6 410.3,282.8 415.9,283.3 421.5,283.3 427.1,283.3 432.7,283.3 438.3,283.8 443.9,283.8 449.6,283.8 455.2,283.8 460.8,283.8 466.4,284.4 472.0,285.9 477.6,285.9 483.2,284.9 488.8,284.9 494.4,284.9 500.0,284.9 505.7,284.9 511.3,284.9" fill="none" stroke="#111" stroke-width="0.7"/>
<rect x="296.1" y="190.2" width="4.0" height="4.0" fill="#111"/>
<rect x="301.7" y="193.0" width="4.0" height="4.0" fill="#111"/>
<rect x="307.3" y="218.3" width="4.0" height="4.0" fill="#111"/>
<rect x="312.9" y="242.1" width="4.0" height="4.0" fill="#111"/>
<rect x="318.5" y="260.6" width="4.0" height="4.0" fill="#111"/>
<rect x="324.1" y="273.5" width="4.0" height="4.0" fill="#111"/>
<rect x="329.7" y="278.4" width="4.0" height="4.0" fill="#111"/>
<rect x="335.4" y="280.3" width="4.0" height="4.0" fill="#111"/>
<rect x="341.0" y="279.8" width="4.0" height="4.0" fill="#111"/>
<rect x="346.6" y="276.9" width="4.0" height="4.0" fill="#111"/>
<rect x="352.2" y="281.1" width="4.0" height="4.0" fill="#111"/>
<rect x="357.8" y="279.5" width="4.0" height="4.0" fill="#111"/>
<rect x="363.4" y="280.0" width="4.0" height="4.0" fill="#111"/>
<rect x="369.0" y="280.3" width="4.0" height="4.0" fill="#111"/>
<rect x="374.6" y="283.7" width="4.0" height="4.0" fill="#111"/>
<rect x="380.2" y="281.5" width="4.0" height="4.0" fill="#111"/>
<rect x="385.8" y="281.8" width="4.0" height="4.0" fill="#111"/>
<rect x="391.5" y="283.1" width="4.0" height="4.0" fill="#111"/>
<rect x="397.1" y="283.7" width="4.0" height="4.0" fill="#111"/>
<rect x="402.7" y="284.6" width="4.0" height="4.0" fill="#111"/>
<rect x="408.3" y="280.8" width="4.0" height="4.0" fill="#111"/>
<rect x="413.9" y="281.3" width="4.0" height="4.0" fill="#111"/>
<rect x="419.5" y="281.3" width="4.0" height="4.0" fill="#111"/>
<rect x="425.1" y="281.3" width="4.0" height="4.0" fill="#111"/>
<rect x="430.7" y="281.3" width="4.0" height="4.0" fill="#111"/>
<rect x="436.3" y="281.8" width="4.0" height="4.0" fill="#111"/>
<rect x="441.9" y="281.8" width="4.0" height="4.0" fill="#111"/>
<rect x="447.6" y="281.8" width="4.0" height="4.0" fill="#111"/>
<rect x="453.2" y="281.8" width="4.0" height="4.0" fill="#111"/>
<rect x="458.8" y="281.8" width="4.0" height="4.0" fill="#111"/>
<rect x="464.4" y="282.4" width="4.0" height="4.0" fill="#111"/>
<rect x="470.0" y="283.9" width="4.0" height="4.0" fill="#111"/>
<rect x="475.6" y="283.9" width="4.0" height="4.0" fill="#111"/>
<rect x="481.2" y="282.9" width="4.0" height="4.0" fill="#111"/>
<rect x="486.8" y="282.9" width="4.0" height="4.0" fill="#111"/>
<rect x="492.4" y="282.9" width="4.0" height="4.0" fill="#111"/>
<rect x="498.0" y="282.9" width="4.0" height="4.0" fill="#111"/>
<rect x="503.7" y="282.9" width="4.0" height="4.0" fill="#111"/>
<rect x="509.3" y="282.9" width="4.0" height="4.0" fill="#111"/>
<line x1="303.7" y1="191.3" x2="303.7" y2="186.0" stroke="#999" stroke-width="0.7"/>
<line x1="302.4" y1="186.0" x2="305.0" y2="186.0" stroke="#999" stroke-width="0.7"/>
<line x1="309.3" y1="191.3" x2="309.3" y2="186.0" stroke="#999" stroke-width="0.7"/>
<line x1="308.0" y1="186.0" x2="310.6" y2="186.0" stroke="#999" stroke-width="0.7"/>
<line x1="314.9" y1="200.2" x2="314.9" y2="194.0" stroke="#999" stroke-width="0.7"/>
<line x1="313.6" y1="194.0" x2="316.2" y2="194.0" stroke="#999" stroke-width="0.7"/>
<line x1="320.5" y1="214.5" x2="320.5" y2="206.1" stroke="#999" stroke-width="0.7"/>
<line x1="319.2" y1="206.1" x2="321.8" y2="206.1" stroke="#999" stroke-width="0.7"/>
<line x1="326.1" y1="244.1" x2="326.1" y2="233.7" stroke="#999" stroke-width="0.7"/>
<line x1="324.8" y1="233.7" x2="327.4" y2="233.7" stroke="#999" stroke-width="0.7"/>
<line x1="331.7" y1="260.9" x2="331.7" y2="250.4" stroke="#999" stroke-width="0.7"/>
<line x1="330.4" y1="250.4" x2="333.0" y2="250.4" stroke="#999" stroke-width="0.7"/>
<line x1="337.4" y1="273.4" x2="337.4" y2="265.0" stroke="#999" stroke-width="0.7"/>
<line x1="336.1" y1="265.0" x2="338.7" y2="265.0" stroke="#999" stroke-width="0.7"/>
<line x1="343.0" y1="281.5" x2="343.0" y2="275.3" stroke="#999" stroke-width="0.7"/>
<line x1="341.7" y1="275.3" x2="344.3" y2="275.3" stroke="#999" stroke-width="0.7"/>
<line x1="348.6" y1="281.2" x2="348.6" y2="277.0" stroke="#999" stroke-width="0.7"/>
<line x1="347.3" y1="277.0" x2="349.9" y2="277.0" stroke="#999" stroke-width="0.7"/>
<line x1="354.2" y1="281.2" x2="354.2" y2="277.0" stroke="#999" stroke-width="0.7"/>
<line x1="352.9" y1="277.0" x2="355.5" y2="277.0" stroke="#999" stroke-width="0.7"/>
<line x1="359.8" y1="281.2" x2="359.8" y2="277.0" stroke="#999" stroke-width="0.7"/>
<line x1="358.5" y1="277.0" x2="361.1" y2="277.0" stroke="#999" stroke-width="0.7"/>
<line x1="365.4" y1="281.2" x2="365.4" y2="277.0" stroke="#999" stroke-width="0.7"/>
<line x1="364.1" y1="277.0" x2="366.7" y2="277.0" stroke="#999" stroke-width="0.7"/>
<line x1="371.0" y1="280.2" x2="371.0" y2="276.0" stroke="#999" stroke-width="0.7"/>
<line x1="369.7" y1="276.0" x2="372.3" y2="276.0" stroke="#999" stroke-width="0.7"/>
<line x1="376.6" y1="277.6" x2="376.6" y2="272.3" stroke="#999" stroke-width="0.7"/>
<line x1="375.3" y1="272.3" x2="377.9" y2="272.3" stroke="#999" stroke-width="0.7"/>
<line x1="382.2" y1="275.0" x2="382.2" y2="268.7" stroke="#999" stroke-width="0.7"/>
<line x1="380.9" y1="268.7" x2="383.5" y2="268.7" stroke="#999" stroke-width="0.7"/>
<line x1="387.8" y1="272.4" x2="387.8" y2="264.1" stroke="#999" stroke-width="0.7"/>
<line x1="386.5" y1="264.1" x2="389.1" y2="264.1" stroke="#999" stroke-width="0.7"/>
<line x1="393.5" y1="263.8" x2="393.5" y2="253.3" stroke="#999" stroke-width="0.7"/>
<line x1="392.2" y1="253.3" x2="394.8" y2="253.3" stroke="#999" stroke-width="0.7"/>
<line x1="399.1" y1="258.0" x2="399.1" y2="239.2" stroke="#999" stroke-width="0.7"/>
<line x1="397.8" y1="239.2" x2="400.4" y2="239.2" stroke="#999" stroke-width="0.7"/>
<line x1="404.7" y1="253.7" x2="404.7" y2="234.9" stroke="#999" stroke-width="0.7"/>
<line x1="403.4" y1="234.9" x2="406.0" y2="234.9" stroke="#999" stroke-width="0.7"/>
<line x1="410.3" y1="252.5" x2="410.3" y2="235.8" stroke="#999" stroke-width="0.7"/>
<line x1="409.0" y1="235.8" x2="411.6" y2="235.8" stroke="#999" stroke-width="0.7"/>
<line x1="415.9" y1="257.5" x2="415.9" y2="240.8" stroke="#999" stroke-width="0.7"/>
<line x1="414.6" y1="240.8" x2="417.2" y2="240.8" stroke="#999" stroke-width="0.7"/>
<line x1="421.5" y1="253.7" x2="421.5" y2="234.9" stroke="#999" stroke-width="0.7"/>
<line x1="420.2" y1="234.9" x2="422.8" y2="234.9" stroke="#999" stroke-width="0.7"/>
<line x1="427.1" y1="257.5" x2="427.1" y2="238.7" stroke="#999" stroke-width="0.7"/>
<line x1="425.8" y1="238.7" x2="428.4" y2="238.7" stroke="#999" stroke-width="0.7"/>
<line x1="432.7" y1="252.0" x2="432.7" y2="233.2" stroke="#999" stroke-width="0.7"/>
<line x1="431.4" y1="233.2" x2="434.0" y2="233.2" stroke="#999" stroke-width="0.7"/>
<line x1="438.3" y1="250.5" x2="438.3" y2="231.7" stroke="#999" stroke-width="0.7"/>
<line x1="437.0" y1="231.7" x2="439.6" y2="231.7" stroke="#999" stroke-width="0.7"/>
<line x1="443.9" y1="244.7" x2="443.9" y2="229.7" stroke="#999" stroke-width="0.7"/>
<line x1="442.6" y1="229.7" x2="445.2" y2="229.7" stroke="#999" stroke-width="0.7"/>
<line x1="449.6" y1="245.1" x2="449.6" y2="230.1" stroke="#999" stroke-width="0.7"/>
<line x1="448.2" y1="230.1" x2="450.9" y2="230.1" stroke="#999" stroke-width="0.7"/>
<line x1="455.2" y1="244.7" x2="455.2" y2="228.9" stroke="#999" stroke-width="0.7"/>
<line x1="453.9" y1="228.9" x2="456.5" y2="228.9" stroke="#999" stroke-width="0.7"/>
<line x1="460.8" y1="241.8" x2="460.8" y2="225.1" stroke="#999" stroke-width="0.7"/>
<line x1="459.5" y1="225.1" x2="462.1" y2="225.1" stroke="#999" stroke-width="0.7"/>
<line x1="466.4" y1="241.2" x2="466.4" y2="224.3" stroke="#999" stroke-width="0.7"/>
<line x1="465.1" y1="224.3" x2="467.7" y2="224.3" stroke="#999" stroke-width="0.7"/>
<line x1="472.0" y1="240.9" x2="472.0" y2="224.4" stroke="#999" stroke-width="0.7"/>
<line x1="470.7" y1="224.4" x2="473.3" y2="224.4" stroke="#999" stroke-width="0.7"/>
<line x1="477.6" y1="230.9" x2="477.6" y2="212.5" stroke="#999" stroke-width="0.7"/>
<line x1="476.3" y1="212.5" x2="478.9" y2="212.5" stroke="#999" stroke-width="0.7"/>
<line x1="483.2" y1="236.5" x2="483.2" y2="220.2" stroke="#999" stroke-width="0.7"/>
<line x1="481.9" y1="220.2" x2="484.5" y2="220.2" stroke="#999" stroke-width="0.7"/>
<line x1="488.8" y1="232.8" x2="488.8" y2="215.5" stroke="#999" stroke-width="0.7"/>
<line x1="487.5" y1="215.5" x2="490.1" y2="215.5" stroke="#999" stroke-width="0.7"/>
<line x1="494.4" y1="236.5" x2="494.4" y2="218.8" stroke="#999" stroke-width="0.7"/>
<line x1="493.1" y1="218.8" x2="495.7" y2="218.8" stroke="#999" stroke-width="0.7"/>
<line x1="500.0" y1="233.5" x2="500.0" y2="216.3" stroke="#999" stroke-width="0.7"/>
<line x1="498.7" y1="216.3" x2="501.3" y2="216.3" stroke="#999" stroke-width="0.7"/>
<line x1="505.7" y1="242.7" x2="505.7" y2="228.5" stroke="#999" stroke-width="0.7"/>
<line x1="504.4" y1="228.5" x2="507.0" y2="228.5" stroke="#999" stroke-width="0.7"/>
<line x1="511.3" y1="244.7" x2="511.3" y2="229.7" stroke="#999" stroke-width="0.7"/>
<line x1="510.0" y1="229.7" x2="512.6" y2="229.7" stroke="#999" stroke-width="0.7"/>
<polyline points="298.1,192.9 303.7,191.3 309.3,191.3 314.9,200.2 320.5,214.5 326.1,244.1 331.7,260.9 337.4,273.4 343.0,281.5 348.6,281.2 354.2,281.2 359.8,281.2 365.4,281.2 371.0,280.2 376.6,277.6 382.2,275.0 387.8,272.4 393.5,263.8 399.1,258.0 404.7,253.7 410.3,252.5 415.9,257.5 421.5,253.7 427.1,257.5 432.7,252.0 438.3,250.5 443.9,244.7 449.6,245.1 455.2,244.7 460.8,241.8 466.4,241.2 472.0,240.9 477.6,230.9 483.2,236.5 488.8,232.8 494.4,236.5 500.0,233.5 505.7,242.7 511.3,244.7" fill="none" stroke="#777" stroke-width="0.7"/>
<circle cx="298.1" cy="192.9" r="1.6" fill="#fff" stroke="#777" stroke-width="0.8"/>
<circle cx="303.7" cy="191.3" r="1.6" fill="#fff" stroke="#777" stroke-width="0.8"/>
<circle cx="309.3" cy="191.3" r="1.6" fill="#fff" stroke="#777" stroke-width="0.8"/>
<circle cx="314.9" cy="200.2" r="1.6" fill="#fff" stroke="#777" stroke-width="0.8"/>
<circle cx="320.5" cy="214.5" r="1.6" fill="#fff" stroke="#777" stroke-width="0.8"/>
<circle cx="326.1" cy="244.1" r="1.6" fill="#fff" stroke="#777" stroke-width="0.8"/>
<circle cx="331.7" cy="260.9" r="1.6" fill="#fff" stroke="#777" stroke-width="0.8"/>
<circle cx="337.4" cy="273.4" r="1.6" fill="#fff" stroke="#777" stroke-width="0.8"/>
<circle cx="343.0" cy="281.5" r="1.6" fill="#fff" stroke="#777" stroke-width="0.8"/>
<circle cx="348.6" cy="281.2" r="1.6" fill="#fff" stroke="#777" stroke-width="0.8"/>
<circle cx="354.2" cy="281.2" r="1.6" fill="#fff" stroke="#777" stroke-width="0.8"/>
<circle cx="359.8" cy="281.2" r="1.6" fill="#fff" stroke="#777" stroke-width="0.8"/>
<circle cx="365.4" cy="281.2" r="1.6" fill="#fff" stroke="#777" stroke-width="0.8"/>
<circle cx="371.0" cy="280.2" r="1.6" fill="#fff" stroke="#777" stroke-width="0.8"/>
<circle cx="376.6" cy="277.6" r="1.6" fill="#fff" stroke="#777" stroke-width="0.8"/>
<circle cx="382.2" cy="275.0" r="1.6" fill="#fff" stroke="#777" stroke-width="0.8"/>
<circle cx="387.8" cy="272.4" r="1.6" fill="#fff" stroke="#777" stroke-width="0.8"/>
<circle cx="393.5" cy="263.8" r="1.6" fill="#fff" stroke="#777" stroke-width="0.8"/>
<circle cx="399.1" cy="258.0" r="1.6" fill="#fff" stroke="#777" stroke-width="0.8"/>
<circle cx="404.7" cy="253.7" r="1.6" fill="#fff" stroke="#777" stroke-width="0.8"/>
<circle cx="410.3" cy="252.5" r="1.6" fill="#fff" stroke="#777" stroke-width="0.8"/>
<circle cx="415.9" cy="257.5" r="1.6" fill="#fff" stroke="#777" stroke-width="0.8"/>
<circle cx="421.5" cy="253.7" r="1.6" fill="#fff" stroke="#777" stroke-width="0.8"/>
<circle cx="427.1" cy="257.5" r="1.6" fill="#fff" stroke="#777" stroke-width="0.8"/>
<circle cx="432.7" cy="252.0" r="1.6" fill="#fff" stroke="#777" stroke-width="0.8"/>
<circle cx="438.3" cy="250.5" r="1.6" fill="#fff" stroke="#777" stroke-width="0.8"/>
<circle cx="443.9" cy="244.7" r="1.6" fill="#fff" stroke="#777" stroke-width="0.8"/>
<circle cx="449.6" cy="245.1" r="1.6" fill="#fff" stroke="#777" stroke-width="0.8"/>
<circle cx="455.2" cy="244.7" r="1.6" fill="#fff" stroke="#777" stroke-width="0.8"/>
<circle cx="460.8" cy="241.8" r="1.6" fill="#fff" stroke="#777" stroke-width="0.8"/>
<circle cx="466.4" cy="241.2" r="1.6" fill="#fff" stroke="#777" stroke-width="0.8"/>
<circle cx="472.0" cy="240.9" r="1.6" fill="#fff" stroke="#777" stroke-width="0.8"/>
<circle cx="477.6" cy="230.9" r="1.6" fill="#fff" stroke="#777" stroke-width="0.8"/>
<circle cx="483.2" cy="236.5" r="1.6" fill="#fff" stroke="#777" stroke-width="0.8"/>
<circle cx="488.8" cy="232.8" r="1.6" fill="#fff" stroke="#777" stroke-width="0.8"/>
<circle cx="494.4" cy="236.5" r="1.6" fill="#fff" stroke="#777" stroke-width="0.8"/>
<circle cx="500.0" cy="233.5" r="1.6" fill="#fff" stroke="#777" stroke-width="0.8"/>
<circle cx="505.7" cy="242.7" r="1.6" fill="#fff" stroke="#777" stroke-width="0.8"/>
<circle cx="511.3" cy="244.7" r="1.6" fill="#fff" stroke="#777" stroke-width="0.8"/>
<text x="324.6" y="225.6" font-size="6.56" font-weight="normal" text-anchor="start" fill="#111" textLength="46.3" lengthAdjust="spacingAndGlyphs" stroke="#111" stroke-width="0.5">r-huADAMTS13</text>
<text x="431.6" y="208.8" font-size="6.57" font-weight="normal" text-anchor="start" fill="#111" textLength="81.2" lengthAdjust="spacingAndGlyphs" stroke="#111" stroke-width="0.5">ALX-0081 +r-huADAMTS13</text>
<text x="446.6" y="264.1" font-size="6.72" font-weight="normal" text-anchor="start" fill="#111" textLength="60.1" lengthAdjust="spacingAndGlyphs" stroke="#111" stroke-width="0.5">ALX-0081 (5 mg/kg)</text>
<text x="490.6" y="287.4" font-size="6.38" font-weight="bold" text-anchor="start" fill="#111" textLength="22.0" lengthAdjust="spacingAndGlyphs" stroke="#111" stroke-width="0.5">Vehicle</text>
</svg></body></html>
